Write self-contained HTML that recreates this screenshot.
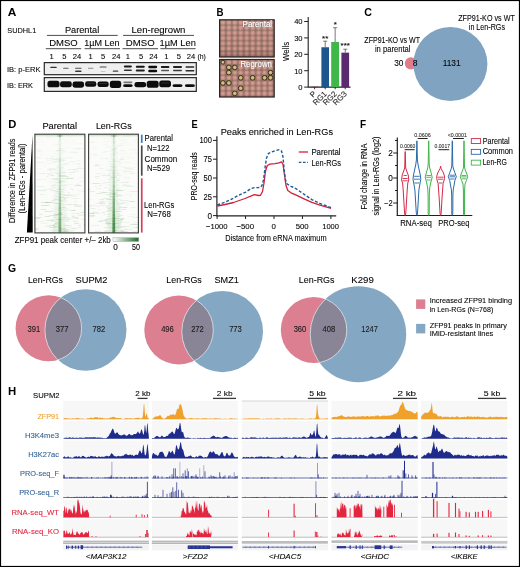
<!DOCTYPE html>
<html><head><meta charset="utf-8"><style>
html,body{margin:0;padding:0;background:#fff;overflow:hidden;width:520px;height:567px;}
svg{display:block;will-change:transform;}
text{font-family:"Liberation Sans", sans-serif;}
</style></head><body>
<svg width="520" height="567" viewBox="0 0 520 567" font-family='"Liberation Sans", sans-serif'>
<rect width="520" height="567" fill="#fff"/>
<text x="7.70" y="16.20" font-size="11.6" font-weight="bold" fill="#000" textLength="8.60" lengthAdjust="spacingAndGlyphs" >A</text>
<text x="216.60" y="15.90" font-size="11.6" font-weight="bold" fill="#000" textLength="7.00" lengthAdjust="spacingAndGlyphs" >B</text>
<text x="364.30" y="16.00" font-size="11.6" font-weight="bold" fill="#000" textLength="7.70" lengthAdjust="spacingAndGlyphs" >C</text>
<text x="8.30" y="127.70" font-size="11.6" font-weight="bold" fill="#000" textLength="8.10" lengthAdjust="spacingAndGlyphs" >D</text>
<text x="191.50" y="127.70" font-size="11.6" font-weight="bold" fill="#000" textLength="6.20" lengthAdjust="spacingAndGlyphs" >E</text>
<text x="359.90" y="127.70" font-size="11.6" font-weight="bold" fill="#000" textLength="6.10" lengthAdjust="spacingAndGlyphs" >F</text>
<text x="8.10" y="272.40" font-size="11.6" font-weight="bold" fill="#000" textLength="8.10" lengthAdjust="spacingAndGlyphs" >G</text>
<text x="8.10" y="395.00" font-size="11.6" font-weight="bold" fill="#000" textLength="8.20" lengthAdjust="spacingAndGlyphs" >H</text>
<text x="7.30" y="33.00" font-size="8" stroke="#231f20" stroke-width="0.1" textLength="29.00" lengthAdjust="spacingAndGlyphs" >SUDHL1</text>
<text x="64.90" y="33.10" font-size="9" stroke="#231f20" stroke-width="0.1" textLength="34.30" lengthAdjust="spacingAndGlyphs" >Parental</text>
<text x="131.50" y="33.10" font-size="9" stroke="#231f20" stroke-width="0.1" textLength="53.90" lengthAdjust="spacingAndGlyphs" >Len-regrown</text>
<line x1="46.90" y1="35.40" x2="117.70" y2="35.40" stroke="#4d4d4d" stroke-width="1" />
<line x1="123.10" y1="35.40" x2="194.00" y2="35.40" stroke="#4d4d4d" stroke-width="1" />
<text x="49.20" y="46.20" font-size="9.4" stroke="#231f20" stroke-width="0.1" textLength="28.50" lengthAdjust="spacingAndGlyphs" >DMSO</text>
<text x="84.30" y="46.20" font-size="9.4" stroke="#231f20" stroke-width="0.1" textLength="35.30" lengthAdjust="spacingAndGlyphs" >1µM Len</text>
<text x="125.80" y="46.20" font-size="9.4" stroke="#231f20" stroke-width="0.1" textLength="28.80" lengthAdjust="spacingAndGlyphs" >DMSO</text>
<text x="159.60" y="46.20" font-size="9.4" stroke="#231f20" stroke-width="0.1" textLength="36.20" lengthAdjust="spacingAndGlyphs" >1µM Len</text>
<line x1="45.80" y1="48.70" x2="81.20" y2="48.70" stroke="#4d4d4d" stroke-width="1" />
<line x1="84.60" y1="48.70" x2="120.00" y2="48.70" stroke="#4d4d4d" stroke-width="1" />
<line x1="122.50" y1="48.70" x2="158.10" y2="48.70" stroke="#4d4d4d" stroke-width="1" />
<line x1="160.40" y1="48.70" x2="195.60" y2="48.70" stroke="#4d4d4d" stroke-width="1" />
<text x="51.60" y="59.40" font-size="7.6" text-anchor="middle" stroke="#231f20" stroke-width="0.1" >1</text>
<text x="64.40" y="59.40" font-size="7.6" text-anchor="middle" stroke="#231f20" stroke-width="0.1" >5</text>
<text x="77.10" y="59.40" font-size="7.6" text-anchor="middle" stroke="#231f20" stroke-width="0.1" >24</text>
<text x="90.60" y="59.40" font-size="7.6" text-anchor="middle" stroke="#231f20" stroke-width="0.1" >1</text>
<text x="103.00" y="59.40" font-size="7.6" text-anchor="middle" stroke="#231f20" stroke-width="0.1" >5</text>
<text x="116.20" y="59.40" font-size="7.6" text-anchor="middle" stroke="#231f20" stroke-width="0.1" >24</text>
<text x="127.90" y="59.40" font-size="7.6" text-anchor="middle" stroke="#231f20" stroke-width="0.1" >1</text>
<text x="141.00" y="59.40" font-size="7.6" text-anchor="middle" stroke="#231f20" stroke-width="0.1" >5</text>
<text x="153.50" y="59.40" font-size="7.6" text-anchor="middle" stroke="#231f20" stroke-width="0.1" >24</text>
<text x="166.40" y="59.40" font-size="7.6" text-anchor="middle" stroke="#231f20" stroke-width="0.1" >1</text>
<text x="178.90" y="59.40" font-size="7.6" text-anchor="middle" stroke="#231f20" stroke-width="0.1" >5</text>
<text x="191.00" y="59.40" font-size="7.6" text-anchor="middle" stroke="#231f20" stroke-width="0.1" >24</text>
<text x="197.40" y="59.40" font-size="7.6" stroke="#231f20" stroke-width="0.1" textLength="8.40" lengthAdjust="spacingAndGlyphs" >(h)</text>
<text x="7.00" y="72.30" font-size="7.6" stroke="#231f20" stroke-width="0.1" textLength="33.50" lengthAdjust="spacingAndGlyphs" >IB: p-ERK</text>
<text x="7.00" y="87.70" font-size="7.6" stroke="#231f20" stroke-width="0.1" textLength="26.00" lengthAdjust="spacingAndGlyphs" >IB: ERK</text>
<defs><filter id="bl" x="-20%" y="-50%" width="140%" height="200%"><feGaussianBlur stdDeviation="0.45"/></filter><filter id="bl2" x="-20%" y="-50%" width="140%" height="200%"><feGaussianBlur stdDeviation="0.6"/></filter></defs>
<rect x="44.30" y="62.60" width="152.00" height="12.10" fill="#efefef" stroke="#2a2a2a" stroke-width="1.2" />
<rect x="44.30" y="77.60" width="152.00" height="13.80" fill="#efefef" stroke="#2a2a2a" stroke-width="1.2" />
<rect x="50.25" y="66.75" width="6.50" height="1.30" rx="0.65" fill="#333" filter="url(#bl)"/>
<rect x="63.15" y="67.65" width="5.50" height="1.10" rx="0.55" fill="#5a5a5a" filter="url(#bl)"/>
<rect x="75.05" y="67.65" width="6.50" height="1.10" rx="0.55" fill="#505050" filter="url(#bl)"/>
<rect x="75.05" y="70.60" width="6.50" height="1.40" rx="0.70" fill="#3a3a3a" filter="url(#bl)"/>
<rect x="87.95" y="67.75" width="5.50" height="1.10" rx="0.55" fill="#8a8a8a" filter="url(#bl)"/>
<rect x="99.60" y="66.40" width="7.00" height="1.20" rx="0.60" fill="#4a4a4a" filter="url(#bl)"/>
<rect x="100.60" y="70.95" width="5.00" height="0.90" rx="0.45" fill="#bbbbbb" filter="url(#bl)"/>
<rect x="112.75" y="70.60" width="5.50" height="1.20" rx="0.60" fill="#444" filter="url(#bl)"/>
<rect x="123.90" y="65.60" width="8.00" height="2.00" rx="1.00" fill="#1a1a1a" filter="url(#bl)"/>
<rect x="123.90" y="69.50" width="8.00" height="1.60" rx="0.80" fill="#333" filter="url(#bl)"/>
<rect x="135.80" y="65.65" width="9.00" height="2.10" rx="1.05" fill="#151515" filter="url(#bl)"/>
<rect x="135.80" y="69.55" width="9.00" height="1.90" rx="0.95" fill="#222" filter="url(#bl)"/>
<rect x="148.20" y="65.85" width="9.00" height="2.30" rx="1.15" fill="#0e0e0e" filter="url(#bl)"/>
<rect x="148.20" y="69.65" width="9.00" height="2.50" rx="1.25" fill="#0e0e0e" filter="url(#bl)"/>
<rect x="160.85" y="66.10" width="8.50" height="1.80" rx="0.90" fill="#1a1a1a" filter="url(#bl)"/>
<rect x="161.10" y="69.85" width="8.00" height="1.30" rx="0.65" fill="#555" filter="url(#bl)"/>
<rect x="173.00" y="66.10" width="9.00" height="1.80" rx="0.90" fill="#222" filter="url(#bl)"/>
<rect x="173.00" y="69.85" width="9.00" height="1.50" rx="0.75" fill="#3a3a3a" filter="url(#bl)"/>
<rect x="185.40" y="66.20" width="9.00" height="1.60" rx="0.80" fill="#2a2a2a" filter="url(#bl)"/>
<rect x="185.40" y="69.90" width="9.00" height="1.60" rx="0.80" fill="#2a2a2a" filter="url(#bl)"/>
<rect x="47.50" y="80.70" width="12.00" height="6.60" rx="2.40" ry="2.64" fill="#0d0d0d" filter="url(#bl)"/>
<rect x="60.00" y="81.30" width="11.80" height="6.00" rx="2.40" ry="2.40" fill="#0d0d0d" filter="url(#bl)"/>
<rect x="72.50" y="81.50" width="11.60" height="6.20" rx="2.40" ry="2.48" fill="#0d0d0d" filter="url(#bl)"/>
<rect x="85.10" y="81.20" width="11.20" height="5.60" rx="2.40" ry="2.24" fill="#0d0d0d" filter="url(#bl)"/>
<rect x="97.50" y="81.40" width="11.20" height="5.60" rx="2.40" ry="2.24" fill="#0d0d0d" filter="url(#bl)"/>
<rect x="109.80" y="80.70" width="11.40" height="7.20" rx="2.40" ry="2.88" fill="#0d0d0d" filter="url(#bl)"/>
<rect x="123.20" y="84.30" width="9.40" height="2.80" rx="2.07" ry="1.12" fill="#0d0d0d" filter="url(#bl)"/>
<rect x="134.50" y="81.90" width="11.60" height="5.40" rx="2.40" ry="2.16" fill="#0d0d0d" filter="url(#bl)"/>
<rect x="146.70" y="80.70" width="12.00" height="7.00" rx="2.40" ry="2.80" fill="#0d0d0d" filter="url(#bl)"/>
<rect x="159.20" y="80.60" width="11.80" height="6.60" rx="2.40" ry="2.64" fill="#0d0d0d" filter="url(#bl)"/>
<rect x="172.60" y="84.15" width="9.80" height="2.90" rx="2.16" ry="1.16" fill="#0d0d0d" filter="url(#bl)"/>
<rect x="185.00" y="84.20" width="9.80" height="2.80" rx="2.16" ry="1.12" fill="#0d0d0d" filter="url(#bl)"/>
<rect x="123.40" y="81.6" width="9" height="1.6" rx="0.8" fill="#777" filter="url(#bl)"/>
<rect x="86.70" y="82.85" width="8" height="0.7" fill="#555" fill-opacity="0.6"/>
<rect x="99.10" y="83.05" width="8" height="0.7" fill="#555" fill-opacity="0.6"/>
<rect x="161.10" y="82.65" width="8" height="0.7" fill="#555" fill-opacity="0.6"/>
<defs><pattern id="wells" x="219.93" y="19.9" width="5.95" height="5.2" patternUnits="userSpaceOnUse"><rect width="5.95" height="5.2" fill="#8c7264"/><circle cx="2.975" cy="2.6" r="2.45" fill="#c88a82"/><circle cx="2.975" cy="2.6" r="1.35" fill="#daa69a"/><circle cx="2.975" cy="2.6" r="0.5" fill="#a87a6c"/></pattern><pattern id="wells2" x="219.93" y="59.6" width="5.95" height="5.2" patternUnits="userSpaceOnUse"><rect width="5.95" height="5.2" fill="#8c7264"/><circle cx="2.975" cy="2.6" r="2.45" fill="#c88a82"/><circle cx="2.975" cy="2.6" r="1.35" fill="#daa69a"/><circle cx="2.975" cy="2.6" r="0.5" fill="#a87a6c"/></pattern><linearGradient id="bshade" x1="0" y1="0" x2="0" y2="1"><stop offset="0" stop-color="#fff" stop-opacity="0.05"/><stop offset="0.8" stop-color="#000" stop-opacity="0.02"/><stop offset="1" stop-color="#402020" stop-opacity="0.25"/></linearGradient><filter id="tsh"><feDropShadow dx="0" dy="0" stdDeviation="0.5" flood-color="#000" flood-opacity="0.6"/></filter><filter id="wb"><feGaussianBlur stdDeviation="0.35"/></filter></defs>
<rect x="219.60" y="19.80" width="54.60" height="37.20" fill="url(#wells)" filter="url(#wb)"/>
<rect x="219.60" y="19.80" width="54.60" height="37.20" fill="url(#bshade)" />
<rect x="219.60" y="19.80" width="54.60" height="37.20" fill="none" stroke="#2b2222" stroke-width="1.2" />
<rect x="219.60" y="59.50" width="54.60" height="37.50" fill="url(#wells2)" filter="url(#wb)"/>
<circle cx="222.9" cy="62.2" r="2.00" fill="#c9b272" fill-opacity="0.92" stroke="#2a2416" stroke-width="0.9"/>
<circle cx="222.9" cy="62.2" r="0.95" fill="#d9c48c" fill-opacity="0.8"/>
<circle cx="228.85" cy="67.4" r="2.40" fill="#c9b272" fill-opacity="0.92" stroke="#2a2416" stroke-width="0.9"/>
<circle cx="228.85" cy="67.4" r="1.15" fill="#d9c48c" fill-opacity="0.8"/>
<circle cx="234.8" cy="67.4" r="2.40" fill="#c9b272" fill-opacity="0.92" stroke="#2a2416" stroke-width="0.9"/>
<circle cx="234.8" cy="67.4" r="1.15" fill="#d9c48c" fill-opacity="0.8"/>
<circle cx="228.85" cy="72.6" r="2.40" fill="#c9b272" fill-opacity="0.92" stroke="#2a2416" stroke-width="0.9"/>
<circle cx="228.85" cy="72.6" r="1.15" fill="#d9c48c" fill-opacity="0.8"/>
<circle cx="240.75" cy="77.8" r="2.40" fill="#c9b272" fill-opacity="0.92" stroke="#2a2416" stroke-width="0.9"/>
<circle cx="240.75" cy="77.8" r="1.15" fill="#d9c48c" fill-opacity="0.8"/>
<circle cx="252.65" cy="77.8" r="2.40" fill="#c9b272" fill-opacity="0.92" stroke="#2a2416" stroke-width="0.9"/>
<circle cx="252.65" cy="77.8" r="1.15" fill="#d9c48c" fill-opacity="0.8"/>
<circle cx="264.55" cy="77.8" r="2.40" fill="#c9b272" fill-opacity="0.92" stroke="#2a2416" stroke-width="0.9"/>
<circle cx="264.55" cy="77.8" r="1.15" fill="#d9c48c" fill-opacity="0.8"/>
<circle cx="270.5" cy="77.8" r="2.40" fill="#c9b272" fill-opacity="0.92" stroke="#2a2416" stroke-width="0.9"/>
<circle cx="270.5" cy="77.8" r="1.15" fill="#d9c48c" fill-opacity="0.8"/>
<circle cx="270.5" cy="72.6" r="2.30" fill="#c9b272" fill-opacity="0.92" stroke="#2a2416" stroke-width="0.9"/>
<circle cx="270.5" cy="72.6" r="1.10" fill="#d9c48c" fill-opacity="0.8"/>
<circle cx="222.9" cy="83.0" r="2.40" fill="#c9b272" fill-opacity="0.92" stroke="#2a2416" stroke-width="0.9"/>
<circle cx="222.9" cy="83.0" r="1.15" fill="#d9c48c" fill-opacity="0.8"/>
<circle cx="228.85" cy="83.0" r="2.40" fill="#c9b272" fill-opacity="0.92" stroke="#2a2416" stroke-width="0.9"/>
<circle cx="228.85" cy="83.0" r="1.15" fill="#d9c48c" fill-opacity="0.8"/>
<circle cx="240.75" cy="88.2" r="2.40" fill="#c9b272" fill-opacity="0.92" stroke="#2a2416" stroke-width="0.9"/>
<circle cx="240.75" cy="88.2" r="1.15" fill="#d9c48c" fill-opacity="0.8"/>
<circle cx="234.8" cy="93.4" r="2.40" fill="#c9b272" fill-opacity="0.92" stroke="#2a2416" stroke-width="0.9"/>
<circle cx="234.8" cy="93.4" r="1.15" fill="#d9c48c" fill-opacity="0.8"/>
<rect x="219.60" y="59.50" width="54.60" height="37.50" fill="none" stroke="#2b2222" stroke-width="1.2" />
<text x="242.60" y="27.20" font-size="8.2" fill="#ffffff" stroke="#ffffff" stroke-width="0.1" textLength="29.50" lengthAdjust="spacingAndGlyphs" filter="url(#tsh)">Parental</text>
<text x="240.40" y="67.00" font-size="8.2" fill="#ffffff" stroke="#ffffff" stroke-width="0.1" textLength="31.60" lengthAdjust="spacingAndGlyphs" filter="url(#tsh)">Regrown</text>
<line x1="308.20" y1="17.00" x2="308.20" y2="87.60" stroke="#231f20" stroke-width="1.1" />
<line x1="308.20" y1="87.10" x2="350.50" y2="87.10" stroke="#231f20" stroke-width="1.1" />
<line x1="304.20" y1="87.10" x2="308.20" y2="87.10" stroke="#231f20" stroke-width="1" />
<text x="302.60" y="89.90" font-size="7.6" text-anchor="end" stroke="#231f20" stroke-width="0.1" >0</text>
<line x1="304.20" y1="70.70" x2="308.20" y2="70.70" stroke="#231f20" stroke-width="1" />
<text x="302.60" y="73.50" font-size="7.6" text-anchor="end" stroke="#231f20" stroke-width="0.1" >10</text>
<line x1="304.20" y1="54.30" x2="308.20" y2="54.30" stroke="#231f20" stroke-width="1" />
<text x="302.60" y="57.10" font-size="7.6" text-anchor="end" stroke="#231f20" stroke-width="0.1" >20</text>
<line x1="304.20" y1="37.90" x2="308.20" y2="37.90" stroke="#231f20" stroke-width="1" />
<text x="302.60" y="40.70" font-size="7.6" text-anchor="end" stroke="#231f20" stroke-width="0.1" >30</text>
<line x1="304.20" y1="21.50" x2="308.20" y2="21.50" stroke="#231f20" stroke-width="1" />
<text x="302.60" y="24.30" font-size="7.6" text-anchor="end" stroke="#231f20" stroke-width="0.1" >40</text>
<text x="289.00" y="51.40" font-size="8.2" text-anchor="middle" stroke="#231f20" stroke-width="0.1" textLength="19.00" lengthAdjust="spacingAndGlyphs" transform="rotate(-90 289.00 51.40)" >Wells</text>
<rect x="311.00" y="86.69" width="7.20" height="0.41" fill="#8c2a2a" />
<rect x="321.40" y="47.25" width="7.60" height="39.85" fill="#1d568c" />
<line x1="325.20" y1="47.25" x2="325.20" y2="41.18" stroke="#555" stroke-width="0.8" />
<line x1="323.20" y1="41.18" x2="327.20" y2="41.18" stroke="#555" stroke-width="0.8" />
<rect x="331.20" y="42.00" width="7.90" height="45.10" fill="#3fb74b" />
<line x1="335.15" y1="42.00" x2="335.15" y2="27.73" stroke="#555" stroke-width="0.8" />
<line x1="333.15" y1="27.73" x2="337.15" y2="27.73" stroke="#555" stroke-width="0.8" />
<rect x="341.40" y="52.66" width="7.70" height="34.44" fill="#5a2a6e" />
<line x1="345.25" y1="52.66" x2="345.25" y2="49.22" stroke="#555" stroke-width="0.8" />
<line x1="343.25" y1="49.22" x2="347.25" y2="49.22" stroke="#555" stroke-width="0.8" />
<text x="325.20" y="40.60" font-size="8" text-anchor="middle" stroke="#231f20" stroke-width="0.1" >**</text>
<text x="335.20" y="27.30" font-size="8" text-anchor="middle" stroke="#231f20" stroke-width="0.1" >*</text>
<text x="345.20" y="48.00" font-size="8" text-anchor="middle" stroke="#231f20" stroke-width="0.1" >***</text>
<line x1="314.60" y1="87.10" x2="314.60" y2="89.30" stroke="#231f20" stroke-width="0.9" />
<text x="316.80" y="94.30" font-size="7.9" text-anchor="end" fill="#231f20" stroke="#231f20" stroke-width="0.1" transform="rotate(-45 316.80 94.30)">P</text>
<line x1="325.20" y1="87.10" x2="325.20" y2="89.30" stroke="#231f20" stroke-width="0.9" />
<text x="327.40" y="94.30" font-size="7.9" text-anchor="end" fill="#231f20" stroke="#231f20" stroke-width="0.1" transform="rotate(-45 327.40 94.30)">RG1</text>
<line x1="335.20" y1="87.10" x2="335.20" y2="89.30" stroke="#231f20" stroke-width="0.9" />
<text x="337.40" y="94.30" font-size="7.9" text-anchor="end" fill="#231f20" stroke="#231f20" stroke-width="0.1" transform="rotate(-45 337.40 94.30)">RG2</text>
<line x1="345.20" y1="87.10" x2="345.20" y2="89.30" stroke="#231f20" stroke-width="0.9" />
<text x="347.40" y="94.30" font-size="7.9" text-anchor="end" fill="#231f20" stroke="#231f20" stroke-width="0.1" transform="rotate(-45 347.40 94.30)">RG3</text>
<circle cx="410.9" cy="63.4" r="6.1" fill="#e07d8c"/>
<circle cx="450.4" cy="64.0" r="37.0" fill="#7fa3c0"/>
<text x="392.20" y="42.60" font-size="8.2" text-anchor="middle" stroke="#231f20" stroke-width="0.1" textLength="55.70" lengthAdjust="spacingAndGlyphs" >ZFP91-KO vs WT</text>
<text x="392.70" y="51.60" font-size="8.2" text-anchor="middle" stroke="#231f20" stroke-width="0.1" textLength="35.60" lengthAdjust="spacingAndGlyphs" >in parental</text>
<text x="486.50" y="20.60" font-size="8.2" text-anchor="middle" stroke="#231f20" stroke-width="0.1" textLength="56.60" lengthAdjust="spacingAndGlyphs" >ZFP91-KO vs WT</text>
<text x="486.90" y="29.90" font-size="8.2" text-anchor="middle" stroke="#231f20" stroke-width="0.1" textLength="36.20" lengthAdjust="spacingAndGlyphs" >in Len-RGs</text>
<text x="403.40" y="66.00" font-size="8.6" text-anchor="end" stroke="#231f20" stroke-width="0.1" textLength="9.20" lengthAdjust="spacingAndGlyphs" >30</text>
<text x="412.80" y="66.00" font-size="8.6" stroke="#231f20" stroke-width="0.1" >8</text>
<text x="451.70" y="66.00" font-size="8.6" text-anchor="middle" stroke="#231f20" stroke-width="0.1" textLength="18.00" lengthAdjust="spacingAndGlyphs" >1131</text>
<text x="42.40" y="129.20" font-size="8.6" stroke="#231f20" stroke-width="0.1" textLength="34.60" lengthAdjust="spacingAndGlyphs" >Parental</text>
<text x="95.90" y="129.20" font-size="8.6" stroke="#231f20" stroke-width="0.1" textLength="35.70" lengthAdjust="spacingAndGlyphs" >Len-RGs</text>
<rect x="34.90" y="134.20" width="50.00" height="98.70" fill="#fbfcfa" />
<rect x="75.2" y="134.20" width="7.4" height="1.00" fill="#4f8f3f" fill-opacity="0.031"/>
<rect x="43.8" y="134.20" width="7.5" height="1.00" fill="#4f8f3f" fill-opacity="0.032"/>
<rect x="43.7" y="134.20" width="4.8" height="1.00" fill="#4f8f3f" fill-opacity="0.020"/>
<rect x="65.8" y="134.20" width="4.5" height="1.00" fill="#4f8f3f" fill-opacity="0.031"/>
<rect x="59.10" y="134.20" width="1.60" height="1.00" fill="#2a7a2a" fill-opacity="0.500"/>
<rect x="57.79" y="134.20" width="4.22" height="1.00" fill="#4a9a4a" fill-opacity="0.030"/>
<rect x="37.9" y="135.20" width="1.8" height="1.00" fill="#4f8f3f" fill-opacity="0.047"/>
<rect x="59.09" y="135.20" width="1.61" height="1.00" fill="#2a7a2a" fill-opacity="0.500"/>
<rect x="57.54" y="135.20" width="4.72" height="1.00" fill="#4a9a4a" fill-opacity="0.030"/>
<rect x="46.5" y="136.19" width="5.4" height="1.00" fill="#4f8f3f" fill-opacity="0.040"/>
<rect x="52.2" y="136.19" width="9.0" height="1.00" fill="#4f8f3f" fill-opacity="0.053"/>
<rect x="68.2" y="136.19" width="3.9" height="1.00" fill="#4f8f3f" fill-opacity="0.024"/>
<rect x="59.09" y="136.19" width="1.62" height="1.00" fill="#2a7a2a" fill-opacity="0.500"/>
<rect x="58.52" y="136.19" width="2.75" height="1.00" fill="#4a9a4a" fill-opacity="0.030"/>
<rect x="46.0" y="137.19" width="4.4" height="1.00" fill="#4f8f3f" fill-opacity="0.053"/>
<rect x="59.08" y="137.19" width="1.64" height="1.00" fill="#2a7a2a" fill-opacity="0.139"/>
<rect x="58.59" y="137.19" width="2.62" height="1.00" fill="#4a9a4a" fill-opacity="0.030"/>
<rect x="37.4" y="138.19" width="4.3" height="1.00" fill="#4f8f3f" fill-opacity="0.045"/>
<rect x="49.9" y="138.19" width="4.0" height="1.00" fill="#4f8f3f" fill-opacity="0.029"/>
<rect x="59.08" y="138.19" width="1.65" height="1.00" fill="#2a7a2a" fill-opacity="0.080"/>
<rect x="57.91" y="138.19" width="3.98" height="1.00" fill="#4a9a4a" fill-opacity="0.030"/>
<rect x="52.9" y="139.18" width="1.6" height="1.00" fill="#4f8f3f" fill-opacity="0.036"/>
<rect x="59.07" y="139.18" width="1.66" height="1.00" fill="#2a7a2a" fill-opacity="0.090"/>
<rect x="57.42" y="139.18" width="4.96" height="1.00" fill="#4a9a4a" fill-opacity="0.030"/>
<rect x="63.8" y="140.18" width="6.3" height="1.00" fill="#4f8f3f" fill-opacity="0.023"/>
<rect x="72.0" y="140.18" width="3.5" height="1.00" fill="#4f8f3f" fill-opacity="0.058"/>
<rect x="59.06" y="140.18" width="1.67" height="1.00" fill="#2a7a2a" fill-opacity="0.135"/>
<rect x="57.98" y="140.18" width="3.84" height="1.00" fill="#4a9a4a" fill-opacity="0.030"/>
<rect x="41.1" y="141.18" width="2.3" height="1.00" fill="#4f8f3f" fill-opacity="0.060"/>
<rect x="59.06" y="141.18" width="1.68" height="1.00" fill="#2a7a2a" fill-opacity="0.080"/>
<rect x="58.01" y="141.18" width="3.79" height="1.00" fill="#4a9a4a" fill-opacity="0.030"/>
<rect x="53.0" y="142.18" width="2.1" height="1.00" fill="#4f8f3f" fill-opacity="0.028"/>
<rect x="35.6" y="142.18" width="4.3" height="1.00" fill="#4f8f3f" fill-opacity="0.046"/>
<rect x="67.4" y="142.18" width="7.7" height="1.00" fill="#4f8f3f" fill-opacity="0.025"/>
<rect x="59.05" y="142.18" width="1.70" height="1.00" fill="#2a7a2a" fill-opacity="0.080"/>
<rect x="57.32" y="142.18" width="5.16" height="1.00" fill="#4a9a4a" fill-opacity="0.031"/>
<rect x="73.3" y="143.17" width="3.4" height="1.00" fill="#4f8f3f" fill-opacity="0.028"/>
<rect x="79.1" y="143.17" width="3.0" height="1.00" fill="#4f8f3f" fill-opacity="0.061"/>
<rect x="63.3" y="143.17" width="4.7" height="1.00" fill="#4f8f3f" fill-opacity="0.024"/>
<rect x="59.05" y="143.17" width="1.71" height="1.00" fill="#2a7a2a" fill-opacity="0.080"/>
<rect x="56.66" y="143.17" width="6.49" height="1.00" fill="#4a9a4a" fill-opacity="0.031"/>
<rect x="53.3" y="144.17" width="4.7" height="1.00" fill="#4f8f3f" fill-opacity="0.061"/>
<rect x="34.9" y="144.17" width="2.4" height="1.00" fill="#4f8f3f" fill-opacity="0.041"/>
<rect x="59.04" y="144.17" width="1.72" height="1.00" fill="#2a7a2a" fill-opacity="0.118"/>
<rect x="57.21" y="144.17" width="5.37" height="1.00" fill="#4a9a4a" fill-opacity="0.031"/>
<rect x="51.5" y="145.17" width="3.0" height="1.00" fill="#4f8f3f" fill-opacity="0.021"/>
<rect x="59.03" y="145.17" width="1.73" height="1.00" fill="#2a7a2a" fill-opacity="0.080"/>
<rect x="57.47" y="145.17" width="4.86" height="1.00" fill="#4a9a4a" fill-opacity="0.031"/>
<rect x="51.6" y="146.16" width="2.2" height="1.00" fill="#4f8f3f" fill-opacity="0.027"/>
<rect x="59.03" y="146.16" width="1.75" height="1.00" fill="#2a7a2a" fill-opacity="0.092"/>
<rect x="57.63" y="146.16" width="4.54" height="1.00" fill="#4a9a4a" fill-opacity="0.031"/>
<rect x="66.1" y="147.16" width="5.1" height="1.00" fill="#4f8f3f" fill-opacity="0.038"/>
<rect x="71.5" y="147.16" width="2.0" height="1.00" fill="#4f8f3f" fill-opacity="0.036"/>
<rect x="59.02" y="147.16" width="1.76" height="1.00" fill="#2a7a2a" fill-opacity="0.080"/>
<rect x="58.09" y="147.16" width="3.63" height="1.00" fill="#4a9a4a" fill-opacity="0.032"/>
<rect x="58.0" y="148.16" width="8.3" height="1.00" fill="#4f8f3f" fill-opacity="0.058"/>
<rect x="72.2" y="148.16" width="8.4" height="1.00" fill="#4f8f3f" fill-opacity="0.039"/>
<rect x="77.2" y="148.16" width="7.7" height="1.00" fill="#4f8f3f" fill-opacity="0.042"/>
<rect x="75.5" y="148.16" width="5.8" height="1.00" fill="#4f8f3f" fill-opacity="0.053"/>
<rect x="59.02" y="148.16" width="1.77" height="1.00" fill="#2a7a2a" fill-opacity="0.086"/>
<rect x="57.03" y="148.16" width="5.74" height="1.00" fill="#4a9a4a" fill-opacity="0.032"/>
<rect x="34.9" y="149.15" width="7.0" height="1.00" fill="#4f8f3f" fill-opacity="0.042"/>
<rect x="59.01" y="149.15" width="1.78" height="1.00" fill="#2a7a2a" fill-opacity="0.137"/>
<rect x="56.97" y="149.15" width="5.86" height="1.00" fill="#4a9a4a" fill-opacity="0.032"/>
<rect x="34.9" y="150.15" width="5.4" height="1.00" fill="#4f8f3f" fill-opacity="0.049"/>
<rect x="55.9" y="150.15" width="2.3" height="1.00" fill="#4f8f3f" fill-opacity="0.063"/>
<rect x="57.8" y="150.15" width="8.2" height="1.00" fill="#4f8f3f" fill-opacity="0.041"/>
<rect x="56.9" y="150.15" width="5.4" height="1.00" fill="#4f8f3f" fill-opacity="0.061"/>
<rect x="59.00" y="150.15" width="1.79" height="1.00" fill="#2a7a2a" fill-opacity="0.084"/>
<rect x="56.18" y="150.15" width="7.43" height="1.00" fill="#4a9a4a" fill-opacity="0.032"/>
<rect x="50.3" y="151.15" width="6.5" height="1.00" fill="#4f8f3f" fill-opacity="0.033"/>
<rect x="62.2" y="151.15" width="4.4" height="1.00" fill="#4f8f3f" fill-opacity="0.054"/>
<rect x="37.4" y="151.15" width="5.2" height="1.00" fill="#4f8f3f" fill-opacity="0.067"/>
<rect x="68.3" y="151.15" width="8.6" height="1.00" fill="#4f8f3f" fill-opacity="0.037"/>
<rect x="59.00" y="151.15" width="1.81" height="1.00" fill="#2a7a2a" fill-opacity="0.080"/>
<rect x="57.13" y="151.15" width="5.55" height="1.00" fill="#4a9a4a" fill-opacity="0.033"/>
<rect x="74.0" y="152.15" width="4.4" height="1.00" fill="#4f8f3f" fill-opacity="0.051"/>
<rect x="68.6" y="152.15" width="7.8" height="1.00" fill="#4f8f3f" fill-opacity="0.057"/>
<rect x="59.7" y="152.15" width="6.6" height="1.00" fill="#4f8f3f" fill-opacity="0.038"/>
<rect x="58.99" y="152.15" width="1.82" height="1.00" fill="#2a7a2a" fill-opacity="0.089"/>
<rect x="56.64" y="152.15" width="6.52" height="1.00" fill="#4a9a4a" fill-opacity="0.033"/>
<rect x="53.9" y="153.14" width="2.9" height="1.00" fill="#4f8f3f" fill-opacity="0.066"/>
<rect x="58.98" y="153.14" width="1.83" height="1.00" fill="#2a7a2a" fill-opacity="0.080"/>
<rect x="56.29" y="153.14" width="7.22" height="1.00" fill="#4a9a4a" fill-opacity="0.033"/>
<rect x="40.3" y="154.14" width="2.3" height="1.00" fill="#4f8f3f" fill-opacity="0.054"/>
<rect x="58.98" y="154.14" width="1.84" height="1.00" fill="#2a7a2a" fill-opacity="0.134"/>
<rect x="57.14" y="154.14" width="5.51" height="1.00" fill="#4a9a4a" fill-opacity="0.034"/>
<rect x="44.3" y="155.14" width="5.1" height="1.00" fill="#4f8f3f" fill-opacity="0.035"/>
<rect x="58.97" y="155.14" width="1.85" height="1.00" fill="#2a7a2a" fill-opacity="0.080"/>
<rect x="56.85" y="155.14" width="6.09" height="1.00" fill="#4a9a4a" fill-opacity="0.034"/>
<rect x="50.2" y="156.13" width="4.1" height="1.00" fill="#4f8f3f" fill-opacity="0.066"/>
<rect x="58.97" y="156.13" width="1.87" height="1.00" fill="#2a7a2a" fill-opacity="0.122"/>
<rect x="56.47" y="156.13" width="6.87" height="1.00" fill="#4a9a4a" fill-opacity="0.034"/>
<rect x="64.4" y="157.13" width="8.5" height="1.00" fill="#4f8f3f" fill-opacity="0.068"/>
<rect x="34.9" y="157.13" width="6.2" height="1.00" fill="#4f8f3f" fill-opacity="0.080"/>
<rect x="58.96" y="157.13" width="1.88" height="1.00" fill="#2a7a2a" fill-opacity="0.105"/>
<rect x="56.51" y="157.13" width="6.78" height="1.00" fill="#4a9a4a" fill-opacity="0.035"/>
<rect x="51.2" y="158.13" width="7.6" height="1.00" fill="#4f8f3f" fill-opacity="0.065"/>
<rect x="44.9" y="158.13" width="8.2" height="1.00" fill="#4f8f3f" fill-opacity="0.085"/>
<rect x="60.1" y="158.13" width="7.4" height="1.00" fill="#4f8f3f" fill-opacity="0.045"/>
<rect x="58.95" y="158.13" width="1.89" height="1.00" fill="#2a7a2a" fill-opacity="0.183"/>
<rect x="55.76" y="158.13" width="8.28" height="1.00" fill="#4a9a4a" fill-opacity="0.035"/>
<rect x="52.9" y="159.12" width="4.1" height="1.00" fill="#4f8f3f" fill-opacity="0.052"/>
<rect x="61.0" y="159.12" width="4.7" height="1.00" fill="#4f8f3f" fill-opacity="0.029"/>
<rect x="51.9" y="159.12" width="8.4" height="1.00" fill="#4f8f3f" fill-opacity="0.055"/>
<rect x="58.95" y="159.12" width="1.90" height="1.00" fill="#2a7a2a" fill-opacity="0.198"/>
<rect x="55.57" y="159.12" width="8.65" height="1.00" fill="#4a9a4a" fill-opacity="0.036"/>
<rect x="58.1" y="160.12" width="8.6" height="1.00" fill="#4f8f3f" fill-opacity="0.032"/>
<rect x="46.6" y="160.12" width="6.3" height="1.00" fill="#4f8f3f" fill-opacity="0.060"/>
<rect x="61.2" y="160.12" width="3.8" height="1.00" fill="#4f8f3f" fill-opacity="0.051"/>
<rect x="77.2" y="160.12" width="3.1" height="1.00" fill="#4f8f3f" fill-opacity="0.080"/>
<rect x="58.94" y="160.12" width="1.92" height="1.00" fill="#2a7a2a" fill-opacity="0.197"/>
<rect x="56.44" y="160.12" width="6.92" height="1.00" fill="#4a9a4a" fill-opacity="0.036"/>
<rect x="54.8" y="161.12" width="5.3" height="1.00" fill="#4f8f3f" fill-opacity="0.066"/>
<rect x="69.5" y="161.12" width="7.5" height="1.00" fill="#4f8f3f" fill-opacity="0.063"/>
<rect x="53.0" y="161.12" width="2.0" height="1.00" fill="#4f8f3f" fill-opacity="0.062"/>
<rect x="80.8" y="161.12" width="4.1" height="1.00" fill="#4f8f3f" fill-opacity="0.035"/>
<rect x="58.94" y="161.12" width="1.93" height="1.00" fill="#2a7a2a" fill-opacity="0.125"/>
<rect x="55.64" y="161.12" width="8.52" height="1.00" fill="#4a9a4a" fill-opacity="0.037"/>
<rect x="51.9" y="162.12" width="4.6" height="1.00" fill="#4f8f3f" fill-opacity="0.030"/>
<rect x="50.0" y="162.12" width="2.7" height="1.00" fill="#4f8f3f" fill-opacity="0.028"/>
<rect x="34.9" y="162.12" width="3.3" height="1.00" fill="#4f8f3f" fill-opacity="0.060"/>
<rect x="37.6" y="162.12" width="6.9" height="1.00" fill="#4f8f3f" fill-opacity="0.073"/>
<rect x="58.93" y="162.12" width="1.94" height="1.00" fill="#2a7a2a" fill-opacity="0.191"/>
<rect x="57.62" y="162.12" width="4.56" height="1.00" fill="#4a9a4a" fill-opacity="0.037"/>
<rect x="63.8" y="163.11" width="5.5" height="1.00" fill="#4f8f3f" fill-opacity="0.085"/>
<rect x="47.4" y="163.11" width="3.1" height="1.00" fill="#4f8f3f" fill-opacity="0.064"/>
<rect x="71.4" y="163.11" width="4.1" height="1.00" fill="#4f8f3f" fill-opacity="0.040"/>
<rect x="76.8" y="163.11" width="3.0" height="1.00" fill="#4f8f3f" fill-opacity="0.079"/>
<rect x="58.92" y="163.11" width="1.95" height="1.00" fill="#2a7a2a" fill-opacity="0.099"/>
<rect x="57.39" y="163.11" width="5.02" height="1.00" fill="#4a9a4a" fill-opacity="0.038"/>
<rect x="76.6" y="164.11" width="4.4" height="1.00" fill="#4f8f3f" fill-opacity="0.058"/>
<rect x="60.4" y="164.11" width="6.8" height="1.00" fill="#4f8f3f" fill-opacity="0.042"/>
<rect x="58.92" y="164.11" width="1.96" height="1.00" fill="#2a7a2a" fill-opacity="0.163"/>
<rect x="55.47" y="164.11" width="8.85" height="1.00" fill="#4a9a4a" fill-opacity="0.038"/>
<rect x="44.2" y="165.11" width="2.4" height="1.00" fill="#4f8f3f" fill-opacity="0.063"/>
<rect x="58.91" y="165.11" width="1.98" height="1.00" fill="#2a7a2a" fill-opacity="0.185"/>
<rect x="56.21" y="165.11" width="7.38" height="1.00" fill="#4a9a4a" fill-opacity="0.039"/>
<rect x="57.6" y="166.10" width="1.7" height="1.00" fill="#4f8f3f" fill-opacity="0.082"/>
<rect x="77.4" y="166.10" width="5.1" height="1.00" fill="#4f8f3f" fill-opacity="0.043"/>
<rect x="58.91" y="166.10" width="1.99" height="1.00" fill="#2a7a2a" fill-opacity="0.099"/>
<rect x="57.06" y="166.10" width="5.68" height="1.00" fill="#4a9a4a" fill-opacity="0.039"/>
<rect x="78.5" y="167.10" width="2.2" height="1.00" fill="#4f8f3f" fill-opacity="0.034"/>
<rect x="56.6" y="167.10" width="7.2" height="1.00" fill="#4f8f3f" fill-opacity="0.053"/>
<rect x="58.90" y="167.10" width="2.00" height="1.00" fill="#2a7a2a" fill-opacity="0.152"/>
<rect x="56.06" y="167.10" width="7.69" height="1.00" fill="#4a9a4a" fill-opacity="0.040"/>
<rect x="34.9" y="168.10" width="6.3" height="1.00" fill="#4f8f3f" fill-opacity="0.033"/>
<rect x="48.3" y="168.10" width="8.4" height="1.00" fill="#4f8f3f" fill-opacity="0.073"/>
<rect x="60.6" y="168.10" width="3.9" height="1.00" fill="#4f8f3f" fill-opacity="0.036"/>
<rect x="76.1" y="168.10" width="8.3" height="1.00" fill="#4f8f3f" fill-opacity="0.097"/>
<rect x="58.89" y="168.10" width="2.01" height="1.00" fill="#2a7a2a" fill-opacity="0.171"/>
<rect x="56.92" y="168.10" width="5.96" height="1.00" fill="#4a9a4a" fill-opacity="0.041"/>
<rect x="47.0" y="169.09" width="8.3" height="1.00" fill="#4f8f3f" fill-opacity="0.085"/>
<rect x="73.2" y="169.09" width="4.5" height="1.00" fill="#4f8f3f" fill-opacity="0.096"/>
<rect x="67.6" y="169.09" width="7.3" height="1.00" fill="#4f8f3f" fill-opacity="0.086"/>
<rect x="58.89" y="169.09" width="2.02" height="1.00" fill="#2a7a2a" fill-opacity="0.152"/>
<rect x="55.34" y="169.09" width="9.11" height="1.00" fill="#4a9a4a" fill-opacity="0.041"/>
<rect x="49.1" y="170.09" width="2.3" height="1.00" fill="#4f8f3f" fill-opacity="0.096"/>
<rect x="58.88" y="170.09" width="2.04" height="1.00" fill="#2a7a2a" fill-opacity="0.238"/>
<rect x="54.75" y="170.09" width="10.30" height="1.00" fill="#4a9a4a" fill-opacity="0.042"/>
<rect x="72.9" y="171.09" width="6.4" height="1.00" fill="#4f8f3f" fill-opacity="0.074"/>
<rect x="58.88" y="171.09" width="2.05" height="1.00" fill="#2a7a2a" fill-opacity="0.178"/>
<rect x="56.20" y="171.09" width="7.40" height="1.00" fill="#4a9a4a" fill-opacity="0.043"/>
<rect x="67.9" y="172.08" width="7.2" height="1.00" fill="#4f8f3f" fill-opacity="0.106"/>
<rect x="50.1" y="172.08" width="7.0" height="1.00" fill="#4f8f3f" fill-opacity="0.052"/>
<rect x="64.1" y="172.08" width="2.2" height="1.00" fill="#4f8f3f" fill-opacity="0.051"/>
<rect x="60.8" y="172.08" width="5.3" height="1.00" fill="#4f8f3f" fill-opacity="0.105"/>
<rect x="58.87" y="172.08" width="2.06" height="1.00" fill="#2a7a2a" fill-opacity="0.188"/>
<rect x="54.32" y="172.08" width="11.16" height="1.00" fill="#4a9a4a" fill-opacity="0.043"/>
<rect x="38.5" y="173.08" width="6.0" height="1.00" fill="#4f8f3f" fill-opacity="0.091"/>
<rect x="56.6" y="173.08" width="2.7" height="1.00" fill="#4f8f3f" fill-opacity="0.069"/>
<rect x="43.0" y="173.08" width="8.6" height="1.00" fill="#4f8f3f" fill-opacity="0.065"/>
<rect x="56.4" y="173.08" width="4.2" height="1.00" fill="#4f8f3f" fill-opacity="0.055"/>
<rect x="58.86" y="173.08" width="2.07" height="1.00" fill="#2a7a2a" fill-opacity="0.205"/>
<rect x="55.57" y="173.08" width="8.66" height="1.00" fill="#4a9a4a" fill-opacity="0.044"/>
<rect x="70.0" y="174.08" width="1.7" height="1.00" fill="#4f8f3f" fill-opacity="0.093"/>
<rect x="47.6" y="174.08" width="1.9" height="1.00" fill="#4f8f3f" fill-opacity="0.058"/>
<rect x="47.3" y="174.08" width="6.9" height="1.00" fill="#4f8f3f" fill-opacity="0.058"/>
<rect x="58.86" y="174.08" width="2.08" height="1.00" fill="#2a7a2a" fill-opacity="0.230"/>
<rect x="56.55" y="174.08" width="6.69" height="1.00" fill="#4a9a4a" fill-opacity="0.045"/>
<rect x="58.5" y="175.08" width="7.6" height="1.00" fill="#4f8f3f" fill-opacity="0.105"/>
<rect x="50.6" y="175.08" width="3.3" height="1.00" fill="#4f8f3f" fill-opacity="0.089"/>
<rect x="49.6" y="175.08" width="4.2" height="1.00" fill="#4f8f3f" fill-opacity="0.046"/>
<rect x="61.1" y="175.08" width="4.6" height="1.00" fill="#4f8f3f" fill-opacity="0.081"/>
<rect x="58.85" y="175.08" width="2.10" height="1.00" fill="#2a7a2a" fill-opacity="0.212"/>
<rect x="55.07" y="175.08" width="9.66" height="1.00" fill="#4a9a4a" fill-opacity="0.045"/>
<rect x="59.8" y="176.07" width="9.0" height="1.00" fill="#4f8f3f" fill-opacity="0.110"/>
<rect x="46.1" y="176.07" width="2.4" height="1.00" fill="#4f8f3f" fill-opacity="0.105"/>
<rect x="64.3" y="176.07" width="4.2" height="1.00" fill="#4f8f3f" fill-opacity="0.056"/>
<rect x="58.85" y="176.07" width="2.11" height="1.00" fill="#2a7a2a" fill-opacity="0.224"/>
<rect x="55.38" y="176.07" width="9.05" height="1.00" fill="#4a9a4a" fill-opacity="0.046"/>
<rect x="70.3" y="177.07" width="2.9" height="1.00" fill="#4f8f3f" fill-opacity="0.055"/>
<rect x="77.9" y="177.07" width="7.0" height="1.00" fill="#4f8f3f" fill-opacity="0.038"/>
<rect x="58.84" y="177.07" width="2.12" height="1.00" fill="#2a7a2a" fill-opacity="0.142"/>
<rect x="56.26" y="177.07" width="7.27" height="1.00" fill="#4a9a4a" fill-opacity="0.047"/>
<rect x="65.6" y="178.07" width="7.2" height="1.00" fill="#4f8f3f" fill-opacity="0.110"/>
<rect x="59.7" y="178.07" width="8.9" height="1.00" fill="#4f8f3f" fill-opacity="0.075"/>
<rect x="51.1" y="178.07" width="8.0" height="1.00" fill="#4f8f3f" fill-opacity="0.101"/>
<rect x="66.4" y="178.07" width="7.8" height="1.00" fill="#4f8f3f" fill-opacity="0.098"/>
<rect x="58.83" y="178.07" width="2.13" height="1.00" fill="#2a7a2a" fill-opacity="0.201"/>
<rect x="54.66" y="178.07" width="10.48" height="1.00" fill="#4a9a4a" fill-opacity="0.048"/>
<rect x="52.2" y="179.06" width="6.4" height="1.00" fill="#4f8f3f" fill-opacity="0.117"/>
<rect x="35.8" y="179.06" width="4.7" height="1.00" fill="#4f8f3f" fill-opacity="0.066"/>
<rect x="48.7" y="179.06" width="2.1" height="1.00" fill="#4f8f3f" fill-opacity="0.042"/>
<rect x="39.7" y="179.06" width="7.3" height="1.00" fill="#4f8f3f" fill-opacity="0.042"/>
<rect x="58.83" y="179.06" width="2.15" height="1.00" fill="#2a7a2a" fill-opacity="0.174"/>
<rect x="54.87" y="179.06" width="10.05" height="1.00" fill="#4a9a4a" fill-opacity="0.049"/>
<rect x="58.2" y="180.06" width="7.2" height="1.00" fill="#4f8f3f" fill-opacity="0.063"/>
<rect x="58.82" y="180.06" width="2.16" height="1.00" fill="#2a7a2a" fill-opacity="0.273"/>
<rect x="56.29" y="180.06" width="7.21" height="1.00" fill="#4a9a4a" fill-opacity="0.049"/>
<rect x="60.0" y="181.06" width="6.8" height="1.00" fill="#4f8f3f" fill-opacity="0.085"/>
<rect x="79.1" y="181.06" width="5.8" height="1.00" fill="#4f8f3f" fill-opacity="0.074"/>
<rect x="49.2" y="181.06" width="3.9" height="1.00" fill="#4f8f3f" fill-opacity="0.070"/>
<rect x="58.82" y="181.06" width="2.17" height="1.00" fill="#2a7a2a" fill-opacity="0.286"/>
<rect x="53.95" y="181.06" width="11.89" height="1.00" fill="#4a9a4a" fill-opacity="0.050"/>
<rect x="56.8" y="182.05" width="5.9" height="1.00" fill="#4f8f3f" fill-opacity="0.105"/>
<rect x="52.2" y="182.05" width="4.4" height="1.00" fill="#4f8f3f" fill-opacity="0.050"/>
<rect x="58.81" y="182.05" width="2.18" height="1.00" fill="#2a7a2a" fill-opacity="0.244"/>
<rect x="56.35" y="182.05" width="7.11" height="1.00" fill="#4a9a4a" fill-opacity="0.051"/>
<rect x="76.3" y="183.05" width="3.6" height="1.00" fill="#4f8f3f" fill-opacity="0.039"/>
<rect x="58.80" y="183.05" width="2.19" height="1.00" fill="#2a7a2a" fill-opacity="0.239"/>
<rect x="55.03" y="183.05" width="9.75" height="1.00" fill="#4a9a4a" fill-opacity="0.052"/>
<rect x="65.5" y="184.05" width="7.5" height="1.00" fill="#4f8f3f" fill-opacity="0.043"/>
<rect x="52.6" y="184.05" width="2.1" height="1.00" fill="#4f8f3f" fill-opacity="0.045"/>
<rect x="77.2" y="184.05" width="2.1" height="1.00" fill="#4f8f3f" fill-opacity="0.094"/>
<rect x="58.80" y="184.05" width="2.21" height="1.00" fill="#2a7a2a" fill-opacity="0.193"/>
<rect x="54.26" y="184.05" width="11.29" height="1.00" fill="#4a9a4a" fill-opacity="0.053"/>
<rect x="60.1" y="185.05" width="7.2" height="1.00" fill="#4f8f3f" fill-opacity="0.073"/>
<rect x="74.3" y="185.05" width="6.5" height="1.00" fill="#4f8f3f" fill-opacity="0.082"/>
<rect x="50.9" y="185.05" width="4.6" height="1.00" fill="#4f8f3f" fill-opacity="0.112"/>
<rect x="75.0" y="185.05" width="7.5" height="1.00" fill="#4f8f3f" fill-opacity="0.112"/>
<rect x="58.79" y="185.05" width="2.22" height="1.00" fill="#2a7a2a" fill-opacity="0.304"/>
<rect x="53.43" y="185.05" width="12.94" height="1.00" fill="#4a9a4a" fill-opacity="0.054"/>
<rect x="36.6" y="186.04" width="7.5" height="1.00" fill="#4f8f3f" fill-opacity="0.077"/>
<rect x="58.78" y="186.04" width="2.23" height="1.00" fill="#2a7a2a" fill-opacity="0.244"/>
<rect x="56.28" y="186.04" width="7.24" height="1.00" fill="#4a9a4a" fill-opacity="0.055"/>
<rect x="52.5" y="187.04" width="2.8" height="1.00" fill="#4f8f3f" fill-opacity="0.058"/>
<rect x="50.2" y="187.04" width="3.8" height="1.00" fill="#4f8f3f" fill-opacity="0.050"/>
<rect x="58.78" y="187.04" width="2.24" height="1.00" fill="#2a7a2a" fill-opacity="0.283"/>
<rect x="53.94" y="187.04" width="11.92" height="1.00" fill="#4a9a4a" fill-opacity="0.056"/>
<rect x="70.3" y="188.04" width="1.6" height="1.00" fill="#4f8f3f" fill-opacity="0.084"/>
<rect x="49.6" y="188.04" width="3.0" height="1.00" fill="#4f8f3f" fill-opacity="0.073"/>
<rect x="58.77" y="188.04" width="2.25" height="1.00" fill="#2a7a2a" fill-opacity="0.281"/>
<rect x="54.52" y="188.04" width="10.76" height="1.00" fill="#4a9a4a" fill-opacity="0.057"/>
<rect x="83.4" y="189.03" width="1.5" height="1.00" fill="#4f8f3f" fill-opacity="0.066"/>
<rect x="56.7" y="189.03" width="7.6" height="1.00" fill="#4f8f3f" fill-opacity="0.085"/>
<rect x="43.8" y="189.03" width="8.4" height="1.00" fill="#4f8f3f" fill-opacity="0.072"/>
<rect x="71.4" y="189.03" width="1.9" height="1.00" fill="#4f8f3f" fill-opacity="0.128"/>
<rect x="58.77" y="189.03" width="2.27" height="1.00" fill="#2a7a2a" fill-opacity="0.317"/>
<rect x="55.26" y="189.03" width="9.27" height="1.00" fill="#4a9a4a" fill-opacity="0.058"/>
<rect x="37.6" y="190.03" width="8.4" height="1.00" fill="#4f8f3f" fill-opacity="0.125"/>
<rect x="77.4" y="190.03" width="4.9" height="1.00" fill="#4f8f3f" fill-opacity="0.064"/>
<rect x="50.7" y="190.03" width="4.6" height="1.00" fill="#4f8f3f" fill-opacity="0.113"/>
<rect x="58.76" y="190.03" width="2.28" height="1.00" fill="#2a7a2a" fill-opacity="0.232"/>
<rect x="53.23" y="190.03" width="13.33" height="1.00" fill="#4a9a4a" fill-opacity="0.059"/>
<rect x="81.6" y="191.03" width="3.3" height="1.00" fill="#4f8f3f" fill-opacity="0.092"/>
<rect x="54.9" y="191.03" width="7.8" height="1.00" fill="#4f8f3f" fill-opacity="0.119"/>
<rect x="58.75" y="191.03" width="2.29" height="1.00" fill="#2a7a2a" fill-opacity="0.230"/>
<rect x="55.60" y="191.03" width="8.61" height="1.00" fill="#4a9a4a" fill-opacity="0.060"/>
<rect x="67.5" y="192.02" width="2.1" height="1.00" fill="#4f8f3f" fill-opacity="0.114"/>
<rect x="58.75" y="192.02" width="2.30" height="1.00" fill="#2a7a2a" fill-opacity="0.302"/>
<rect x="54.64" y="192.02" width="10.52" height="1.00" fill="#4a9a4a" fill-opacity="0.061"/>
<rect x="54.5" y="193.02" width="8.4" height="1.00" fill="#4f8f3f" fill-opacity="0.051"/>
<rect x="58.74" y="193.02" width="2.32" height="1.00" fill="#2a7a2a" fill-opacity="0.349"/>
<rect x="55.74" y="193.02" width="8.32" height="1.00" fill="#4a9a4a" fill-opacity="0.062"/>
<rect x="57.5" y="194.02" width="7.7" height="1.00" fill="#4f8f3f" fill-opacity="0.073"/>
<rect x="66.1" y="194.02" width="6.9" height="1.00" fill="#4f8f3f" fill-opacity="0.078"/>
<rect x="39.9" y="194.02" width="4.5" height="1.00" fill="#4f8f3f" fill-opacity="0.088"/>
<rect x="73.9" y="194.02" width="6.4" height="1.00" fill="#4f8f3f" fill-opacity="0.043"/>
<rect x="58.74" y="194.02" width="2.33" height="1.00" fill="#2a7a2a" fill-opacity="0.293"/>
<rect x="53.72" y="194.02" width="12.37" height="1.00" fill="#4a9a4a" fill-opacity="0.063"/>
<rect x="63.3" y="195.02" width="7.3" height="1.00" fill="#4f8f3f" fill-opacity="0.128"/>
<rect x="68.7" y="195.02" width="8.3" height="1.00" fill="#4f8f3f" fill-opacity="0.058"/>
<rect x="58.73" y="195.02" width="2.34" height="1.00" fill="#2a7a2a" fill-opacity="0.336"/>
<rect x="52.74" y="195.02" width="14.31" height="1.00" fill="#4a9a4a" fill-opacity="0.064"/>
<rect x="70.4" y="196.01" width="5.7" height="1.00" fill="#4f8f3f" fill-opacity="0.052"/>
<rect x="53.0" y="196.01" width="3.6" height="1.00" fill="#4f8f3f" fill-opacity="0.091"/>
<rect x="55.9" y="196.01" width="4.4" height="1.00" fill="#4f8f3f" fill-opacity="0.053"/>
<rect x="58.72" y="196.01" width="2.35" height="1.00" fill="#2a7a2a" fill-opacity="0.342"/>
<rect x="55.92" y="196.01" width="7.97" height="1.00" fill="#4a9a4a" fill-opacity="0.065"/>
<rect x="61.2" y="197.01" width="7.8" height="1.00" fill="#4f8f3f" fill-opacity="0.104"/>
<rect x="59.4" y="197.01" width="4.6" height="1.00" fill="#4f8f3f" fill-opacity="0.051"/>
<rect x="58.72" y="197.01" width="2.36" height="1.00" fill="#2a7a2a" fill-opacity="0.392"/>
<rect x="54.67" y="197.01" width="10.46" height="1.00" fill="#4a9a4a" fill-opacity="0.066"/>
<rect x="70.9" y="198.01" width="7.7" height="1.00" fill="#4f8f3f" fill-opacity="0.084"/>
<rect x="64.3" y="198.01" width="1.6" height="1.00" fill="#4f8f3f" fill-opacity="0.085"/>
<rect x="58.71" y="198.01" width="2.38" height="1.00" fill="#2a7a2a" fill-opacity="0.369"/>
<rect x="52.33" y="198.01" width="15.14" height="1.00" fill="#4a9a4a" fill-opacity="0.068"/>
<rect x="63.5" y="199.00" width="1.6" height="1.00" fill="#4f8f3f" fill-opacity="0.079"/>
<rect x="53.4" y="199.00" width="5.3" height="1.00" fill="#4f8f3f" fill-opacity="0.127"/>
<rect x="58.71" y="199.00" width="2.39" height="1.00" fill="#2a7a2a" fill-opacity="0.394"/>
<rect x="53.79" y="199.00" width="12.21" height="1.00" fill="#4a9a4a" fill-opacity="0.069"/>
<rect x="51.2" y="200.00" width="3.7" height="1.00" fill="#4f8f3f" fill-opacity="0.070"/>
<rect x="59.0" y="200.00" width="5.8" height="1.00" fill="#4f8f3f" fill-opacity="0.066"/>
<rect x="58.70" y="200.00" width="2.40" height="1.00" fill="#2a7a2a" fill-opacity="0.417"/>
<rect x="52.11" y="200.00" width="15.59" height="1.00" fill="#4a9a4a" fill-opacity="0.070"/>
<rect x="73.9" y="201.00" width="2.5" height="1.00" fill="#4f8f3f" fill-opacity="0.096"/>
<rect x="60.4" y="201.00" width="2.2" height="1.00" fill="#4f8f3f" fill-opacity="0.138"/>
<rect x="58.69" y="201.00" width="2.41" height="1.00" fill="#2a7a2a" fill-opacity="0.332"/>
<rect x="52.52" y="201.00" width="14.76" height="1.00" fill="#4a9a4a" fill-opacity="0.071"/>
<rect x="41.3" y="201.99" width="8.3" height="1.00" fill="#4f8f3f" fill-opacity="0.104"/>
<rect x="44.8" y="201.99" width="8.9" height="1.00" fill="#4f8f3f" fill-opacity="0.133"/>
<rect x="40.7" y="201.99" width="7.7" height="1.00" fill="#4f8f3f" fill-opacity="0.077"/>
<rect x="46.2" y="201.99" width="5.8" height="1.00" fill="#4f8f3f" fill-opacity="0.135"/>
<rect x="58.69" y="201.99" width="2.42" height="1.00" fill="#2a7a2a" fill-opacity="0.329"/>
<rect x="53.88" y="201.99" width="12.04" height="1.00" fill="#4a9a4a" fill-opacity="0.072"/>
<rect x="53.1" y="202.99" width="7.4" height="1.00" fill="#4f8f3f" fill-opacity="0.147"/>
<rect x="58.68" y="202.99" width="2.44" height="1.00" fill="#2a7a2a" fill-opacity="0.451"/>
<rect x="55.59" y="202.99" width="8.61" height="1.00" fill="#4a9a4a" fill-opacity="0.074"/>
<rect x="65.0" y="203.99" width="7.2" height="1.00" fill="#4f8f3f" fill-opacity="0.064"/>
<rect x="74.2" y="203.99" width="4.5" height="1.00" fill="#4f8f3f" fill-opacity="0.084"/>
<rect x="61.0" y="203.99" width="8.5" height="1.00" fill="#4f8f3f" fill-opacity="0.053"/>
<rect x="68.8" y="203.99" width="7.4" height="1.00" fill="#4f8f3f" fill-opacity="0.091"/>
<rect x="58.68" y="203.99" width="2.45" height="1.00" fill="#2a7a2a" fill-opacity="0.390"/>
<rect x="55.71" y="203.99" width="8.39" height="1.00" fill="#4a9a4a" fill-opacity="0.075"/>
<rect x="40.6" y="204.98" width="7.1" height="1.00" fill="#4f8f3f" fill-opacity="0.101"/>
<rect x="74.3" y="204.98" width="7.9" height="1.00" fill="#4f8f3f" fill-opacity="0.092"/>
<rect x="41.8" y="204.98" width="8.3" height="1.00" fill="#4f8f3f" fill-opacity="0.105"/>
<rect x="58.67" y="204.98" width="2.46" height="1.00" fill="#2a7a2a" fill-opacity="0.402"/>
<rect x="54.21" y="204.98" width="11.38" height="1.00" fill="#4a9a4a" fill-opacity="0.076"/>
<rect x="74.6" y="205.98" width="7.0" height="1.00" fill="#4f8f3f" fill-opacity="0.114"/>
<rect x="58.66" y="205.98" width="2.47" height="1.00" fill="#2a7a2a" fill-opacity="0.443"/>
<rect x="54.72" y="205.98" width="10.35" height="1.00" fill="#4a9a4a" fill-opacity="0.078"/>
<rect x="62.0" y="206.98" width="3.3" height="1.00" fill="#4f8f3f" fill-opacity="0.146"/>
<rect x="58.66" y="206.98" width="2.48" height="1.00" fill="#2a7a2a" fill-opacity="0.482"/>
<rect x="53.91" y="206.98" width="11.99" height="1.00" fill="#4a9a4a" fill-opacity="0.079"/>
<rect x="57.7" y="207.98" width="3.3" height="1.00" fill="#4f8f3f" fill-opacity="0.056"/>
<rect x="58.65" y="207.98" width="2.50" height="1.00" fill="#2a7a2a" fill-opacity="0.483"/>
<rect x="51.62" y="207.98" width="16.56" height="1.00" fill="#4a9a4a" fill-opacity="0.080"/>
<rect x="54.7" y="208.97" width="7.5" height="1.00" fill="#4f8f3f" fill-opacity="0.074"/>
<rect x="61.5" y="208.97" width="8.3" height="1.00" fill="#4f8f3f" fill-opacity="0.060"/>
<rect x="40.7" y="208.97" width="5.5" height="1.00" fill="#4f8f3f" fill-opacity="0.158"/>
<rect x="58.65" y="208.97" width="2.51" height="1.00" fill="#2a7a2a" fill-opacity="0.364"/>
<rect x="54.86" y="208.97" width="10.09" height="1.00" fill="#4a9a4a" fill-opacity="0.082"/>
<rect x="69.6" y="209.97" width="4.8" height="1.00" fill="#4f8f3f" fill-opacity="0.102"/>
<rect x="70.9" y="209.97" width="3.8" height="1.00" fill="#4f8f3f" fill-opacity="0.102"/>
<rect x="73.5" y="209.97" width="2.6" height="1.00" fill="#4f8f3f" fill-opacity="0.139"/>
<rect x="58.64" y="209.97" width="2.52" height="1.00" fill="#2a7a2a" fill-opacity="0.482"/>
<rect x="51.87" y="209.97" width="16.05" height="1.00" fill="#4a9a4a" fill-opacity="0.083"/>
<rect x="83.4" y="210.97" width="1.5" height="1.00" fill="#4f8f3f" fill-opacity="0.091"/>
<rect x="44.4" y="210.97" width="8.1" height="1.00" fill="#4f8f3f" fill-opacity="0.166"/>
<rect x="58.63" y="210.97" width="2.53" height="1.00" fill="#2a7a2a" fill-opacity="0.411"/>
<rect x="52.95" y="210.97" width="13.90" height="1.00" fill="#4a9a4a" fill-opacity="0.084"/>
<rect x="80.8" y="211.96" width="4.1" height="1.00" fill="#4f8f3f" fill-opacity="0.086"/>
<rect x="80.1" y="211.96" width="3.6" height="1.00" fill="#4f8f3f" fill-opacity="0.100"/>
<rect x="58.63" y="211.96" width="2.55" height="1.00" fill="#2a7a2a" fill-opacity="0.516"/>
<rect x="54.29" y="211.96" width="11.23" height="1.00" fill="#4a9a4a" fill-opacity="0.086"/>
<rect x="71.6" y="212.96" width="6.7" height="1.00" fill="#4f8f3f" fill-opacity="0.083"/>
<rect x="58.5" y="212.96" width="3.7" height="1.00" fill="#4f8f3f" fill-opacity="0.083"/>
<rect x="59.5" y="212.96" width="2.4" height="1.00" fill="#4f8f3f" fill-opacity="0.112"/>
<rect x="77.0" y="212.96" width="2.9" height="1.00" fill="#4f8f3f" fill-opacity="0.078"/>
<rect x="58.62" y="212.96" width="2.56" height="1.00" fill="#2a7a2a" fill-opacity="0.421"/>
<rect x="52.65" y="212.96" width="14.49" height="1.00" fill="#4a9a4a" fill-opacity="0.087"/>
<rect x="55.6" y="213.96" width="5.5" height="1.00" fill="#4f8f3f" fill-opacity="0.115"/>
<rect x="80.0" y="213.96" width="3.6" height="1.00" fill="#4f8f3f" fill-opacity="0.081"/>
<rect x="39.0" y="213.96" width="3.6" height="1.00" fill="#4f8f3f" fill-opacity="0.142"/>
<rect x="54.8" y="213.96" width="8.2" height="1.00" fill="#4f8f3f" fill-opacity="0.170"/>
<rect x="58.62" y="213.96" width="2.57" height="1.00" fill="#2a7a2a" fill-opacity="0.417"/>
<rect x="53.58" y="213.96" width="12.64" height="1.00" fill="#4a9a4a" fill-opacity="0.089"/>
<rect x="71.7" y="214.95" width="2.0" height="1.00" fill="#4f8f3f" fill-opacity="0.060"/>
<rect x="77.7" y="214.95" width="3.9" height="1.00" fill="#4f8f3f" fill-opacity="0.110"/>
<rect x="49.0" y="214.95" width="8.9" height="1.00" fill="#4f8f3f" fill-opacity="0.142"/>
<rect x="81.1" y="214.95" width="3.8" height="1.00" fill="#4f8f3f" fill-opacity="0.065"/>
<rect x="58.61" y="214.95" width="2.58" height="1.00" fill="#2a7a2a" fill-opacity="0.483"/>
<rect x="52.52" y="214.95" width="14.76" height="1.00" fill="#4a9a4a" fill-opacity="0.090"/>
<rect x="72.1" y="215.95" width="3.3" height="1.00" fill="#4f8f3f" fill-opacity="0.112"/>
<rect x="44.3" y="215.95" width="6.0" height="1.00" fill="#4f8f3f" fill-opacity="0.139"/>
<rect x="46.6" y="215.95" width="2.9" height="1.00" fill="#4f8f3f" fill-opacity="0.071"/>
<rect x="58.60" y="215.95" width="2.59" height="1.00" fill="#2a7a2a" fill-opacity="0.434"/>
<rect x="53.30" y="215.95" width="13.20" height="1.00" fill="#4a9a4a" fill-opacity="0.092"/>
<rect x="54.1" y="216.95" width="2.4" height="1.00" fill="#4f8f3f" fill-opacity="0.075"/>
<rect x="62.1" y="216.95" width="6.9" height="1.00" fill="#4f8f3f" fill-opacity="0.129"/>
<rect x="34.9" y="216.95" width="6.7" height="1.00" fill="#4f8f3f" fill-opacity="0.154"/>
<rect x="71.6" y="216.95" width="7.2" height="1.00" fill="#4f8f3f" fill-opacity="0.114"/>
<rect x="58.60" y="216.95" width="2.61" height="1.00" fill="#2a7a2a" fill-opacity="0.533"/>
<rect x="53.17" y="216.95" width="13.46" height="1.00" fill="#4a9a4a" fill-opacity="0.093"/>
<rect x="66.3" y="217.95" width="7.4" height="1.00" fill="#4f8f3f" fill-opacity="0.061"/>
<rect x="75.3" y="217.95" width="3.1" height="1.00" fill="#4f8f3f" fill-opacity="0.174"/>
<rect x="34.9" y="217.95" width="2.6" height="1.00" fill="#4f8f3f" fill-opacity="0.110"/>
<rect x="36.7" y="217.95" width="3.3" height="1.00" fill="#4f8f3f" fill-opacity="0.164"/>
<rect x="58.59" y="217.95" width="2.62" height="1.00" fill="#2a7a2a" fill-opacity="0.472"/>
<rect x="53.70" y="217.95" width="12.41" height="1.00" fill="#4a9a4a" fill-opacity="0.095"/>
<rect x="55.8" y="218.94" width="8.8" height="1.00" fill="#4f8f3f" fill-opacity="0.139"/>
<rect x="80.8" y="218.94" width="4.1" height="1.00" fill="#4f8f3f" fill-opacity="0.091"/>
<rect x="67.5" y="218.94" width="3.2" height="1.00" fill="#4f8f3f" fill-opacity="0.092"/>
<rect x="58.58" y="218.94" width="2.63" height="1.00" fill="#2a7a2a" fill-opacity="0.595"/>
<rect x="50.99" y="218.94" width="17.82" height="1.00" fill="#4a9a4a" fill-opacity="0.096"/>
<rect x="45.2" y="219.94" width="6.4" height="1.00" fill="#4f8f3f" fill-opacity="0.061"/>
<rect x="46.3" y="219.94" width="8.1" height="1.00" fill="#4f8f3f" fill-opacity="0.112"/>
<rect x="58.58" y="219.94" width="2.64" height="1.00" fill="#2a7a2a" fill-opacity="0.528"/>
<rect x="51.32" y="219.94" width="17.17" height="1.00" fill="#4a9a4a" fill-opacity="0.098"/>
<rect x="34.9" y="220.94" width="4.6" height="1.00" fill="#4f8f3f" fill-opacity="0.086"/>
<rect x="72.7" y="220.94" width="5.1" height="1.00" fill="#4f8f3f" fill-opacity="0.105"/>
<rect x="57.4" y="220.94" width="6.2" height="1.00" fill="#4f8f3f" fill-opacity="0.078"/>
<rect x="40.1" y="220.94" width="4.6" height="1.00" fill="#4f8f3f" fill-opacity="0.061"/>
<rect x="58.57" y="220.94" width="2.65" height="1.00" fill="#2a7a2a" fill-opacity="0.522"/>
<rect x="50.71" y="220.94" width="18.39" height="1.00" fill="#4a9a4a" fill-opacity="0.100"/>
<rect x="55.2" y="221.93" width="6.4" height="1.00" fill="#4f8f3f" fill-opacity="0.083"/>
<rect x="58.57" y="221.93" width="2.67" height="1.00" fill="#2a7a2a" fill-opacity="0.509"/>
<rect x="55.21" y="221.93" width="9.39" height="1.00" fill="#4a9a4a" fill-opacity="0.101"/>
<rect x="40.5" y="222.93" width="7.8" height="1.00" fill="#4f8f3f" fill-opacity="0.071"/>
<rect x="74.3" y="222.93" width="4.9" height="1.00" fill="#4f8f3f" fill-opacity="0.166"/>
<rect x="54.4" y="222.93" width="3.8" height="1.00" fill="#4f8f3f" fill-opacity="0.134"/>
<rect x="58.56" y="222.93" width="2.68" height="1.00" fill="#2a7a2a" fill-opacity="0.573"/>
<rect x="54.49" y="222.93" width="10.82" height="1.00" fill="#4a9a4a" fill-opacity="0.103"/>
<rect x="83.4" y="223.93" width="1.5" height="1.00" fill="#4f8f3f" fill-opacity="0.127"/>
<rect x="52.2" y="223.93" width="6.5" height="1.00" fill="#4f8f3f" fill-opacity="0.075"/>
<rect x="58.55" y="223.93" width="2.69" height="1.00" fill="#2a7a2a" fill-opacity="0.545"/>
<rect x="53.96" y="223.93" width="11.87" height="1.00" fill="#4a9a4a" fill-opacity="0.104"/>
<rect x="46.1" y="224.92" width="8.0" height="1.00" fill="#4f8f3f" fill-opacity="0.086"/>
<rect x="53.0" y="224.92" width="1.7" height="1.00" fill="#4f8f3f" fill-opacity="0.139"/>
<rect x="63.2" y="224.92" width="8.8" height="1.00" fill="#4f8f3f" fill-opacity="0.096"/>
<rect x="78.1" y="224.92" width="3.1" height="1.00" fill="#4f8f3f" fill-opacity="0.147"/>
<rect x="58.55" y="224.92" width="2.70" height="1.00" fill="#2a7a2a" fill-opacity="0.620"/>
<rect x="50.37" y="224.92" width="19.07" height="1.00" fill="#4a9a4a" fill-opacity="0.106"/>
<rect x="52.5" y="225.92" width="4.4" height="1.00" fill="#4f8f3f" fill-opacity="0.065"/>
<rect x="52.6" y="225.92" width="5.2" height="1.00" fill="#4f8f3f" fill-opacity="0.094"/>
<rect x="44.5" y="225.92" width="6.5" height="1.00" fill="#4f8f3f" fill-opacity="0.089"/>
<rect x="58.54" y="225.92" width="2.72" height="1.00" fill="#2a7a2a" fill-opacity="0.551"/>
<rect x="53.54" y="225.92" width="12.72" height="1.00" fill="#4a9a4a" fill-opacity="0.108"/>
<rect x="57.4" y="226.92" width="3.4" height="1.00" fill="#4f8f3f" fill-opacity="0.171"/>
<rect x="63.9" y="226.92" width="8.3" height="1.00" fill="#4f8f3f" fill-opacity="0.073"/>
<rect x="77.8" y="226.92" width="3.5" height="1.00" fill="#4f8f3f" fill-opacity="0.108"/>
<rect x="49.0" y="226.92" width="6.9" height="1.00" fill="#4f8f3f" fill-opacity="0.176"/>
<rect x="58.54" y="226.92" width="2.73" height="1.00" fill="#2a7a2a" fill-opacity="0.560"/>
<rect x="55.13" y="226.92" width="9.54" height="1.00" fill="#4a9a4a" fill-opacity="0.109"/>
<rect x="61.5" y="227.92" width="3.5" height="1.00" fill="#4f8f3f" fill-opacity="0.148"/>
<rect x="34.9" y="227.92" width="4.2" height="1.00" fill="#4f8f3f" fill-opacity="0.135"/>
<rect x="71.2" y="227.92" width="6.2" height="1.00" fill="#4f8f3f" fill-opacity="0.141"/>
<rect x="58.53" y="227.92" width="2.74" height="1.00" fill="#2a7a2a" fill-opacity="0.618"/>
<rect x="53.04" y="227.92" width="13.71" height="1.00" fill="#4a9a4a" fill-opacity="0.111"/>
<rect x="60.5" y="228.91" width="4.9" height="1.00" fill="#4f8f3f" fill-opacity="0.189"/>
<rect x="65.0" y="228.91" width="5.2" height="1.00" fill="#4f8f3f" fill-opacity="0.122"/>
<rect x="34.9" y="228.91" width="3.5" height="1.00" fill="#4f8f3f" fill-opacity="0.093"/>
<rect x="58.52" y="228.91" width="2.75" height="1.00" fill="#2a7a2a" fill-opacity="0.603"/>
<rect x="52.42" y="228.91" width="14.96" height="1.00" fill="#4a9a4a" fill-opacity="0.113"/>
<rect x="34.9" y="229.91" width="2.1" height="1.00" fill="#4f8f3f" fill-opacity="0.171"/>
<rect x="67.4" y="229.91" width="7.5" height="1.00" fill="#4f8f3f" fill-opacity="0.095"/>
<rect x="50.4" y="229.91" width="7.5" height="1.00" fill="#4f8f3f" fill-opacity="0.087"/>
<rect x="63.5" y="229.91" width="4.0" height="1.00" fill="#4f8f3f" fill-opacity="0.153"/>
<rect x="58.52" y="229.91" width="2.76" height="1.00" fill="#2a7a2a" fill-opacity="0.697"/>
<rect x="53.60" y="229.91" width="12.60" height="1.00" fill="#4a9a4a" fill-opacity="0.115"/>
<rect x="63.2" y="230.91" width="5.5" height="1.00" fill="#4f8f3f" fill-opacity="0.092"/>
<rect x="52.1" y="230.91" width="2.4" height="1.00" fill="#4f8f3f" fill-opacity="0.068"/>
<rect x="66.7" y="230.91" width="6.8" height="1.00" fill="#4f8f3f" fill-opacity="0.075"/>
<rect x="60.4" y="230.91" width="8.0" height="1.00" fill="#4f8f3f" fill-opacity="0.179"/>
<rect x="58.51" y="230.91" width="2.78" height="1.00" fill="#2a7a2a" fill-opacity="0.603"/>
<rect x="53.77" y="230.91" width="12.26" height="1.00" fill="#4a9a4a" fill-opacity="0.116"/>
<rect x="38.8" y="231.90" width="4.3" height="1.00" fill="#4f8f3f" fill-opacity="0.154"/>
<rect x="62.3" y="231.90" width="2.5" height="1.00" fill="#4f8f3f" fill-opacity="0.196"/>
<rect x="40.8" y="231.90" width="7.1" height="1.00" fill="#4f8f3f" fill-opacity="0.097"/>
<rect x="49.9" y="231.90" width="6.2" height="1.00" fill="#4f8f3f" fill-opacity="0.100"/>
<rect x="58.51" y="231.90" width="2.79" height="1.00" fill="#2a7a2a" fill-opacity="0.699"/>
<rect x="49.72" y="231.90" width="20.35" height="1.00" fill="#4a9a4a" fill-opacity="0.118"/>
<rect x="34.90" y="134.20" width="50.00" height="2.2" fill="#6cbf6c" fill-opacity="0.28"/>
<rect x="56.90" y="134.20" width="6" height="2.5" fill="#3a8a3a" fill-opacity="0.2"/>
<rect x="34.90" y="134.20" width="50.00" height="98.70" fill="none" stroke="#3a3a3a" stroke-width="1.1" />
<rect x="88.60" y="134.20" width="49.80" height="98.70" fill="#fbfcfa" />
<rect x="102.7" y="134.20" width="9.0" height="1.00" fill="#4f8f3f" fill-opacity="0.032"/>
<rect x="110.1" y="134.20" width="8.0" height="1.00" fill="#4f8f3f" fill-opacity="0.023"/>
<rect x="108.2" y="134.20" width="8.8" height="1.00" fill="#4f8f3f" fill-opacity="0.028"/>
<rect x="114.7" y="134.20" width="5.4" height="1.00" fill="#4f8f3f" fill-opacity="0.044"/>
<rect x="113.00" y="134.20" width="1.60" height="1.00" fill="#2a7a2a" fill-opacity="0.500"/>
<rect x="111.48" y="134.20" width="4.63" height="1.00" fill="#4a9a4a" fill-opacity="0.042"/>
<rect x="124.0" y="135.20" width="8.4" height="1.00" fill="#4f8f3f" fill-opacity="0.034"/>
<rect x="112.99" y="135.20" width="1.61" height="1.00" fill="#2a7a2a" fill-opacity="0.500"/>
<rect x="111.14" y="135.20" width="5.32" height="1.00" fill="#4a9a4a" fill-opacity="0.042"/>
<rect x="106.9" y="136.19" width="6.2" height="1.00" fill="#4f8f3f" fill-opacity="0.022"/>
<rect x="91.0" y="136.19" width="2.8" height="1.00" fill="#4f8f3f" fill-opacity="0.046"/>
<rect x="113.0" y="136.19" width="6.0" height="1.00" fill="#4f8f3f" fill-opacity="0.034"/>
<rect x="122.4" y="136.19" width="8.8" height="1.00" fill="#4f8f3f" fill-opacity="0.041"/>
<rect x="112.99" y="136.19" width="1.62" height="1.00" fill="#2a7a2a" fill-opacity="0.500"/>
<rect x="111.99" y="136.19" width="3.62" height="1.00" fill="#4a9a4a" fill-opacity="0.042"/>
<rect x="93.9" y="137.19" width="3.3" height="1.00" fill="#4f8f3f" fill-opacity="0.030"/>
<rect x="111.6" y="137.19" width="5.3" height="1.00" fill="#4f8f3f" fill-opacity="0.017"/>
<rect x="108.7" y="137.19" width="5.4" height="1.00" fill="#4f8f3f" fill-opacity="0.025"/>
<rect x="100.2" y="137.19" width="5.6" height="1.00" fill="#4f8f3f" fill-opacity="0.023"/>
<rect x="112.98" y="137.19" width="1.64" height="1.00" fill="#2a7a2a" fill-opacity="0.154"/>
<rect x="112.43" y="137.19" width="2.73" height="1.00" fill="#4a9a4a" fill-opacity="0.042"/>
<rect x="120.1" y="138.19" width="6.9" height="1.00" fill="#4f8f3f" fill-opacity="0.037"/>
<rect x="103.9" y="138.19" width="7.9" height="1.00" fill="#4f8f3f" fill-opacity="0.026"/>
<rect x="110.3" y="138.19" width="5.6" height="1.00" fill="#4f8f3f" fill-opacity="0.024"/>
<rect x="112.98" y="138.19" width="1.65" height="1.00" fill="#2a7a2a" fill-opacity="0.165"/>
<rect x="112.11" y="138.19" width="3.38" height="1.00" fill="#4a9a4a" fill-opacity="0.042"/>
<rect x="131.4" y="139.18" width="7.0" height="1.00" fill="#4f8f3f" fill-opacity="0.025"/>
<rect x="112.97" y="139.18" width="1.66" height="1.00" fill="#2a7a2a" fill-opacity="0.169"/>
<rect x="111.61" y="139.18" width="4.38" height="1.00" fill="#4a9a4a" fill-opacity="0.042"/>
<rect x="134.6" y="140.18" width="3.8" height="1.00" fill="#4f8f3f" fill-opacity="0.039"/>
<rect x="119.9" y="140.18" width="7.4" height="1.00" fill="#4f8f3f" fill-opacity="0.052"/>
<rect x="112.96" y="140.18" width="1.67" height="1.00" fill="#2a7a2a" fill-opacity="0.149"/>
<rect x="112.00" y="140.18" width="3.60" height="1.00" fill="#4a9a4a" fill-opacity="0.042"/>
<rect x="101.9" y="141.18" width="7.0" height="1.00" fill="#4f8f3f" fill-opacity="0.037"/>
<rect x="90.8" y="141.18" width="4.0" height="1.00" fill="#4f8f3f" fill-opacity="0.055"/>
<rect x="109.4" y="141.18" width="7.4" height="1.00" fill="#4f8f3f" fill-opacity="0.049"/>
<rect x="124.0" y="141.18" width="1.5" height="1.00" fill="#4f8f3f" fill-opacity="0.019"/>
<rect x="112.96" y="141.18" width="1.68" height="1.00" fill="#2a7a2a" fill-opacity="0.138"/>
<rect x="111.89" y="141.18" width="3.81" height="1.00" fill="#4a9a4a" fill-opacity="0.043"/>
<rect x="88.6" y="142.18" width="6.2" height="1.00" fill="#4f8f3f" fill-opacity="0.059"/>
<rect x="124.2" y="142.18" width="4.6" height="1.00" fill="#4f8f3f" fill-opacity="0.044"/>
<rect x="112.95" y="142.18" width="1.70" height="1.00" fill="#2a7a2a" fill-opacity="0.188"/>
<rect x="110.94" y="142.18" width="5.73" height="1.00" fill="#4a9a4a" fill-opacity="0.043"/>
<rect x="118.5" y="143.17" width="4.4" height="1.00" fill="#4f8f3f" fill-opacity="0.026"/>
<rect x="95.9" y="143.17" width="1.7" height="1.00" fill="#4f8f3f" fill-opacity="0.021"/>
<rect x="121.2" y="143.17" width="3.0" height="1.00" fill="#4f8f3f" fill-opacity="0.060"/>
<rect x="112.95" y="143.17" width="1.71" height="1.00" fill="#2a7a2a" fill-opacity="0.174"/>
<rect x="111.01" y="143.17" width="5.59" height="1.00" fill="#4a9a4a" fill-opacity="0.043"/>
<rect x="123.5" y="144.17" width="6.2" height="1.00" fill="#4f8f3f" fill-opacity="0.025"/>
<rect x="103.4" y="144.17" width="4.5" height="1.00" fill="#4f8f3f" fill-opacity="0.031"/>
<rect x="112.94" y="144.17" width="1.72" height="1.00" fill="#2a7a2a" fill-opacity="0.122"/>
<rect x="111.65" y="144.17" width="4.31" height="1.00" fill="#4a9a4a" fill-opacity="0.043"/>
<rect x="116.4" y="145.17" width="7.2" height="1.00" fill="#4f8f3f" fill-opacity="0.051"/>
<rect x="105.7" y="145.17" width="1.7" height="1.00" fill="#4f8f3f" fill-opacity="0.043"/>
<rect x="116.4" y="145.17" width="6.5" height="1.00" fill="#4f8f3f" fill-opacity="0.036"/>
<rect x="112.93" y="145.17" width="1.73" height="1.00" fill="#2a7a2a" fill-opacity="0.100"/>
<rect x="111.59" y="145.17" width="4.42" height="1.00" fill="#4a9a4a" fill-opacity="0.044"/>
<rect x="106.8" y="146.16" width="4.7" height="1.00" fill="#4f8f3f" fill-opacity="0.031"/>
<rect x="112.0" y="146.16" width="6.7" height="1.00" fill="#4f8f3f" fill-opacity="0.028"/>
<rect x="112.93" y="146.16" width="1.75" height="1.00" fill="#2a7a2a" fill-opacity="0.133"/>
<rect x="111.01" y="146.16" width="5.59" height="1.00" fill="#4a9a4a" fill-opacity="0.044"/>
<rect x="115.0" y="147.16" width="1.9" height="1.00" fill="#4f8f3f" fill-opacity="0.059"/>
<rect x="104.7" y="147.16" width="4.8" height="1.00" fill="#4f8f3f" fill-opacity="0.023"/>
<rect x="112.92" y="147.16" width="1.76" height="1.00" fill="#2a7a2a" fill-opacity="0.085"/>
<rect x="111.01" y="147.16" width="5.57" height="1.00" fill="#4a9a4a" fill-opacity="0.044"/>
<rect x="92.6" y="148.16" width="3.9" height="1.00" fill="#4f8f3f" fill-opacity="0.046"/>
<rect x="109.8" y="148.16" width="5.6" height="1.00" fill="#4f8f3f" fill-opacity="0.034"/>
<rect x="113.8" y="148.16" width="3.6" height="1.00" fill="#4f8f3f" fill-opacity="0.068"/>
<rect x="112.92" y="148.16" width="1.77" height="1.00" fill="#2a7a2a" fill-opacity="0.157"/>
<rect x="111.32" y="148.16" width="4.97" height="1.00" fill="#4a9a4a" fill-opacity="0.045"/>
<rect x="109.4" y="149.15" width="7.5" height="1.00" fill="#4f8f3f" fill-opacity="0.041"/>
<rect x="112.1" y="149.15" width="4.0" height="1.00" fill="#4f8f3f" fill-opacity="0.061"/>
<rect x="128.8" y="149.15" width="7.4" height="1.00" fill="#4f8f3f" fill-opacity="0.064"/>
<rect x="112.91" y="149.15" width="1.78" height="1.00" fill="#2a7a2a" fill-opacity="0.091"/>
<rect x="111.51" y="149.15" width="4.58" height="1.00" fill="#4a9a4a" fill-opacity="0.045"/>
<rect x="119.2" y="150.15" width="7.1" height="1.00" fill="#4f8f3f" fill-opacity="0.059"/>
<rect x="112.90" y="150.15" width="1.79" height="1.00" fill="#2a7a2a" fill-opacity="0.215"/>
<rect x="110.12" y="150.15" width="7.37" height="1.00" fill="#4a9a4a" fill-opacity="0.045"/>
<rect x="103.2" y="151.15" width="8.0" height="1.00" fill="#4f8f3f" fill-opacity="0.062"/>
<rect x="114.6" y="151.15" width="1.8" height="1.00" fill="#4f8f3f" fill-opacity="0.066"/>
<rect x="112.90" y="151.15" width="1.81" height="1.00" fill="#2a7a2a" fill-opacity="0.108"/>
<rect x="111.56" y="151.15" width="4.47" height="1.00" fill="#4a9a4a" fill-opacity="0.046"/>
<rect x="134.5" y="152.15" width="3.9" height="1.00" fill="#4f8f3f" fill-opacity="0.053"/>
<rect x="101.4" y="152.15" width="4.2" height="1.00" fill="#4f8f3f" fill-opacity="0.050"/>
<rect x="113.1" y="152.15" width="4.4" height="1.00" fill="#4f8f3f" fill-opacity="0.049"/>
<rect x="112.89" y="152.15" width="1.82" height="1.00" fill="#2a7a2a" fill-opacity="0.125"/>
<rect x="111.18" y="152.15" width="5.25" height="1.00" fill="#4a9a4a" fill-opacity="0.046"/>
<rect x="130.4" y="153.14" width="1.7" height="1.00" fill="#4f8f3f" fill-opacity="0.070"/>
<rect x="112.7" y="153.14" width="7.2" height="1.00" fill="#4f8f3f" fill-opacity="0.044"/>
<rect x="120.1" y="153.14" width="8.7" height="1.00" fill="#4f8f3f" fill-opacity="0.044"/>
<rect x="93.1" y="153.14" width="4.1" height="1.00" fill="#4f8f3f" fill-opacity="0.036"/>
<rect x="112.88" y="153.14" width="1.83" height="1.00" fill="#2a7a2a" fill-opacity="0.146"/>
<rect x="110.13" y="153.14" width="7.34" height="1.00" fill="#4a9a4a" fill-opacity="0.047"/>
<rect x="90.1" y="154.14" width="6.6" height="1.00" fill="#4f8f3f" fill-opacity="0.056"/>
<rect x="112.88" y="154.14" width="1.84" height="1.00" fill="#2a7a2a" fill-opacity="0.220"/>
<rect x="110.24" y="154.14" width="7.12" height="1.00" fill="#4a9a4a" fill-opacity="0.047"/>
<rect x="93.8" y="155.14" width="5.0" height="1.00" fill="#4f8f3f" fill-opacity="0.044"/>
<rect x="112.87" y="155.14" width="1.85" height="1.00" fill="#2a7a2a" fill-opacity="0.185"/>
<rect x="109.93" y="155.14" width="7.73" height="1.00" fill="#4a9a4a" fill-opacity="0.048"/>
<rect x="99.8" y="156.13" width="4.0" height="1.00" fill="#4f8f3f" fill-opacity="0.028"/>
<rect x="120.7" y="156.13" width="8.9" height="1.00" fill="#4f8f3f" fill-opacity="0.033"/>
<rect x="112.87" y="156.13" width="1.87" height="1.00" fill="#2a7a2a" fill-opacity="0.115"/>
<rect x="110.67" y="156.13" width="6.27" height="1.00" fill="#4a9a4a" fill-opacity="0.048"/>
<rect x="89.2" y="157.13" width="3.2" height="1.00" fill="#4f8f3f" fill-opacity="0.054"/>
<rect x="127.2" y="157.13" width="7.2" height="1.00" fill="#4f8f3f" fill-opacity="0.046"/>
<rect x="112.86" y="157.13" width="1.88" height="1.00" fill="#2a7a2a" fill-opacity="0.155"/>
<rect x="109.71" y="157.13" width="8.17" height="1.00" fill="#4a9a4a" fill-opacity="0.049"/>
<rect x="121.1" y="158.13" width="2.0" height="1.00" fill="#4f8f3f" fill-opacity="0.047"/>
<rect x="100.5" y="158.13" width="7.8" height="1.00" fill="#4f8f3f" fill-opacity="0.066"/>
<rect x="106.1" y="158.13" width="2.4" height="1.00" fill="#4f8f3f" fill-opacity="0.061"/>
<rect x="120.4" y="158.13" width="2.7" height="1.00" fill="#4f8f3f" fill-opacity="0.063"/>
<rect x="112.85" y="158.13" width="1.89" height="1.00" fill="#2a7a2a" fill-opacity="0.144"/>
<rect x="110.92" y="158.13" width="5.77" height="1.00" fill="#4a9a4a" fill-opacity="0.049"/>
<rect x="119.7" y="159.12" width="4.9" height="1.00" fill="#4f8f3f" fill-opacity="0.037"/>
<rect x="111.6" y="159.12" width="3.9" height="1.00" fill="#4f8f3f" fill-opacity="0.049"/>
<rect x="119.3" y="159.12" width="6.4" height="1.00" fill="#4f8f3f" fill-opacity="0.051"/>
<rect x="112.85" y="159.12" width="1.90" height="1.00" fill="#2a7a2a" fill-opacity="0.182"/>
<rect x="110.10" y="159.12" width="7.40" height="1.00" fill="#4a9a4a" fill-opacity="0.050"/>
<rect x="113.2" y="160.12" width="8.0" height="1.00" fill="#4f8f3f" fill-opacity="0.037"/>
<rect x="112.84" y="160.12" width="1.92" height="1.00" fill="#2a7a2a" fill-opacity="0.182"/>
<rect x="111.43" y="160.12" width="4.74" height="1.00" fill="#4a9a4a" fill-opacity="0.051"/>
<rect x="107.2" y="161.12" width="3.6" height="1.00" fill="#4f8f3f" fill-opacity="0.081"/>
<rect x="114.6" y="161.12" width="5.9" height="1.00" fill="#4f8f3f" fill-opacity="0.058"/>
<rect x="110.1" y="161.12" width="8.5" height="1.00" fill="#4f8f3f" fill-opacity="0.052"/>
<rect x="112.84" y="161.12" width="1.93" height="1.00" fill="#2a7a2a" fill-opacity="0.184"/>
<rect x="110.70" y="161.12" width="6.19" height="1.00" fill="#4a9a4a" fill-opacity="0.051"/>
<rect x="124.6" y="162.12" width="6.9" height="1.00" fill="#4f8f3f" fill-opacity="0.060"/>
<rect x="117.4" y="162.12" width="6.9" height="1.00" fill="#4f8f3f" fill-opacity="0.051"/>
<rect x="112.83" y="162.12" width="1.94" height="1.00" fill="#2a7a2a" fill-opacity="0.166"/>
<rect x="111.52" y="162.12" width="4.56" height="1.00" fill="#4a9a4a" fill-opacity="0.052"/>
<rect x="134.8" y="163.11" width="3.6" height="1.00" fill="#4f8f3f" fill-opacity="0.056"/>
<rect x="106.8" y="163.11" width="4.6" height="1.00" fill="#4f8f3f" fill-opacity="0.032"/>
<rect x="118.9" y="163.11" width="2.4" height="1.00" fill="#4f8f3f" fill-opacity="0.083"/>
<rect x="112.82" y="163.11" width="1.95" height="1.00" fill="#2a7a2a" fill-opacity="0.181"/>
<rect x="110.26" y="163.11" width="7.09" height="1.00" fill="#4a9a4a" fill-opacity="0.053"/>
<rect x="95.4" y="164.11" width="3.2" height="1.00" fill="#4f8f3f" fill-opacity="0.086"/>
<rect x="112.82" y="164.11" width="1.96" height="1.00" fill="#2a7a2a" fill-opacity="0.260"/>
<rect x="109.02" y="164.11" width="9.56" height="1.00" fill="#4a9a4a" fill-opacity="0.054"/>
<rect x="94.5" y="165.11" width="3.1" height="1.00" fill="#4f8f3f" fill-opacity="0.086"/>
<rect x="117.9" y="165.11" width="1.8" height="1.00" fill="#4f8f3f" fill-opacity="0.066"/>
<rect x="94.8" y="165.11" width="5.8" height="1.00" fill="#4f8f3f" fill-opacity="0.087"/>
<rect x="112.81" y="165.11" width="1.98" height="1.00" fill="#2a7a2a" fill-opacity="0.146"/>
<rect x="110.65" y="165.11" width="6.29" height="1.00" fill="#4a9a4a" fill-opacity="0.054"/>
<rect x="109.5" y="166.10" width="2.1" height="1.00" fill="#4f8f3f" fill-opacity="0.067"/>
<rect x="109.9" y="166.10" width="7.4" height="1.00" fill="#4f8f3f" fill-opacity="0.097"/>
<rect x="107.3" y="166.10" width="1.6" height="1.00" fill="#4f8f3f" fill-opacity="0.064"/>
<rect x="118.7" y="166.10" width="6.6" height="1.00" fill="#4f8f3f" fill-opacity="0.049"/>
<rect x="112.81" y="166.10" width="1.99" height="1.00" fill="#2a7a2a" fill-opacity="0.187"/>
<rect x="110.61" y="166.10" width="6.38" height="1.00" fill="#4a9a4a" fill-opacity="0.055"/>
<rect x="123.5" y="167.10" width="5.4" height="1.00" fill="#4f8f3f" fill-opacity="0.084"/>
<rect x="129.3" y="167.10" width="6.4" height="1.00" fill="#4f8f3f" fill-opacity="0.055"/>
<rect x="120.1" y="167.10" width="2.4" height="1.00" fill="#4f8f3f" fill-opacity="0.033"/>
<rect x="112.80" y="167.10" width="2.00" height="1.00" fill="#2a7a2a" fill-opacity="0.286"/>
<rect x="111.01" y="167.10" width="5.59" height="1.00" fill="#4a9a4a" fill-opacity="0.056"/>
<rect x="125.3" y="168.10" width="7.7" height="1.00" fill="#4f8f3f" fill-opacity="0.092"/>
<rect x="99.1" y="168.10" width="4.5" height="1.00" fill="#4f8f3f" fill-opacity="0.077"/>
<rect x="112.79" y="168.10" width="2.01" height="1.00" fill="#2a7a2a" fill-opacity="0.195"/>
<rect x="109.75" y="168.10" width="8.11" height="1.00" fill="#4a9a4a" fill-opacity="0.057"/>
<rect x="127.2" y="169.09" width="7.1" height="1.00" fill="#4f8f3f" fill-opacity="0.051"/>
<rect x="108.9" y="169.09" width="2.8" height="1.00" fill="#4f8f3f" fill-opacity="0.032"/>
<rect x="105.4" y="169.09" width="2.2" height="1.00" fill="#4f8f3f" fill-opacity="0.066"/>
<rect x="112.79" y="169.09" width="2.02" height="1.00" fill="#2a7a2a" fill-opacity="0.219"/>
<rect x="110.39" y="169.09" width="6.82" height="1.00" fill="#4a9a4a" fill-opacity="0.058"/>
<rect x="107.2" y="170.09" width="8.9" height="1.00" fill="#4f8f3f" fill-opacity="0.098"/>
<rect x="114.9" y="170.09" width="1.9" height="1.00" fill="#4f8f3f" fill-opacity="0.055"/>
<rect x="119.6" y="170.09" width="6.8" height="1.00" fill="#4f8f3f" fill-opacity="0.046"/>
<rect x="112.78" y="170.09" width="2.04" height="1.00" fill="#2a7a2a" fill-opacity="0.184"/>
<rect x="108.48" y="170.09" width="10.64" height="1.00" fill="#4a9a4a" fill-opacity="0.059"/>
<rect x="123.4" y="171.09" width="9.0" height="1.00" fill="#4f8f3f" fill-opacity="0.105"/>
<rect x="112.78" y="171.09" width="2.05" height="1.00" fill="#2a7a2a" fill-opacity="0.221"/>
<rect x="110.46" y="171.09" width="6.68" height="1.00" fill="#4a9a4a" fill-opacity="0.060"/>
<rect x="101.2" y="172.08" width="3.9" height="1.00" fill="#4f8f3f" fill-opacity="0.036"/>
<rect x="112.77" y="172.08" width="2.06" height="1.00" fill="#2a7a2a" fill-opacity="0.314"/>
<rect x="108.56" y="172.08" width="10.47" height="1.00" fill="#4a9a4a" fill-opacity="0.061"/>
<rect x="128.9" y="173.08" width="6.2" height="1.00" fill="#4f8f3f" fill-opacity="0.096"/>
<rect x="111.7" y="173.08" width="7.6" height="1.00" fill="#4f8f3f" fill-opacity="0.045"/>
<rect x="122.4" y="173.08" width="4.0" height="1.00" fill="#4f8f3f" fill-opacity="0.047"/>
<rect x="94.9" y="173.08" width="6.6" height="1.00" fill="#4f8f3f" fill-opacity="0.073"/>
<rect x="112.76" y="173.08" width="2.07" height="1.00" fill="#2a7a2a" fill-opacity="0.287"/>
<rect x="108.17" y="173.08" width="11.26" height="1.00" fill="#4a9a4a" fill-opacity="0.062"/>
<rect x="102.8" y="174.08" width="2.8" height="1.00" fill="#4f8f3f" fill-opacity="0.082"/>
<rect x="112.76" y="174.08" width="2.08" height="1.00" fill="#2a7a2a" fill-opacity="0.239"/>
<rect x="108.09" y="174.08" width="11.43" height="1.00" fill="#4a9a4a" fill-opacity="0.063"/>
<rect x="101.3" y="175.08" width="8.7" height="1.00" fill="#4f8f3f" fill-opacity="0.105"/>
<rect x="119.0" y="175.08" width="2.6" height="1.00" fill="#4f8f3f" fill-opacity="0.076"/>
<rect x="115.8" y="175.08" width="5.9" height="1.00" fill="#4f8f3f" fill-opacity="0.047"/>
<rect x="106.7" y="175.08" width="2.7" height="1.00" fill="#4f8f3f" fill-opacity="0.041"/>
<rect x="112.75" y="175.08" width="2.10" height="1.00" fill="#2a7a2a" fill-opacity="0.331"/>
<rect x="109.20" y="175.08" width="9.20" height="1.00" fill="#4a9a4a" fill-opacity="0.064"/>
<rect x="94.7" y="176.07" width="5.2" height="1.00" fill="#4f8f3f" fill-opacity="0.106"/>
<rect x="109.3" y="176.07" width="7.9" height="1.00" fill="#4f8f3f" fill-opacity="0.055"/>
<rect x="112.75" y="176.07" width="2.11" height="1.00" fill="#2a7a2a" fill-opacity="0.218"/>
<rect x="110.55" y="176.07" width="6.49" height="1.00" fill="#4a9a4a" fill-opacity="0.065"/>
<rect x="114.1" y="177.07" width="5.8" height="1.00" fill="#4f8f3f" fill-opacity="0.037"/>
<rect x="109.7" y="177.07" width="5.4" height="1.00" fill="#4f8f3f" fill-opacity="0.112"/>
<rect x="124.6" y="177.07" width="5.7" height="1.00" fill="#4f8f3f" fill-opacity="0.089"/>
<rect x="112.74" y="177.07" width="2.12" height="1.00" fill="#2a7a2a" fill-opacity="0.309"/>
<rect x="110.98" y="177.07" width="5.65" height="1.00" fill="#4a9a4a" fill-opacity="0.066"/>
<rect x="95.2" y="178.07" width="3.7" height="1.00" fill="#4f8f3f" fill-opacity="0.052"/>
<rect x="112.73" y="178.07" width="2.13" height="1.00" fill="#2a7a2a" fill-opacity="0.283"/>
<rect x="107.99" y="178.07" width="11.62" height="1.00" fill="#4a9a4a" fill-opacity="0.067"/>
<rect x="123.4" y="179.06" width="2.0" height="1.00" fill="#4f8f3f" fill-opacity="0.049"/>
<rect x="112.73" y="179.06" width="2.15" height="1.00" fill="#2a7a2a" fill-opacity="0.286"/>
<rect x="108.18" y="179.06" width="11.25" height="1.00" fill="#4a9a4a" fill-opacity="0.068"/>
<rect x="116.5" y="180.06" width="3.5" height="1.00" fill="#4f8f3f" fill-opacity="0.096"/>
<rect x="112.72" y="180.06" width="2.16" height="1.00" fill="#2a7a2a" fill-opacity="0.254"/>
<rect x="108.72" y="180.06" width="10.16" height="1.00" fill="#4a9a4a" fill-opacity="0.069"/>
<rect x="113.3" y="181.06" width="2.2" height="1.00" fill="#4f8f3f" fill-opacity="0.096"/>
<rect x="125.3" y="181.06" width="4.3" height="1.00" fill="#4f8f3f" fill-opacity="0.060"/>
<rect x="112.72" y="181.06" width="2.17" height="1.00" fill="#2a7a2a" fill-opacity="0.296"/>
<rect x="110.52" y="181.06" width="6.56" height="1.00" fill="#4a9a4a" fill-opacity="0.070"/>
<rect x="103.3" y="182.05" width="7.3" height="1.00" fill="#4f8f3f" fill-opacity="0.078"/>
<rect x="89.0" y="182.05" width="1.6" height="1.00" fill="#4f8f3f" fill-opacity="0.056"/>
<rect x="120.4" y="182.05" width="8.0" height="1.00" fill="#4f8f3f" fill-opacity="0.116"/>
<rect x="112.71" y="182.05" width="2.18" height="1.00" fill="#2a7a2a" fill-opacity="0.308"/>
<rect x="108.46" y="182.05" width="10.68" height="1.00" fill="#4a9a4a" fill-opacity="0.072"/>
<rect x="92.9" y="183.05" width="8.2" height="1.00" fill="#4f8f3f" fill-opacity="0.051"/>
<rect x="101.1" y="183.05" width="3.8" height="1.00" fill="#4f8f3f" fill-opacity="0.063"/>
<rect x="90.8" y="183.05" width="8.1" height="1.00" fill="#4f8f3f" fill-opacity="0.065"/>
<rect x="93.0" y="183.05" width="6.9" height="1.00" fill="#4f8f3f" fill-opacity="0.052"/>
<rect x="112.70" y="183.05" width="2.19" height="1.00" fill="#2a7a2a" fill-opacity="0.281"/>
<rect x="110.59" y="183.05" width="6.42" height="1.00" fill="#4a9a4a" fill-opacity="0.073"/>
<rect x="105.6" y="184.05" width="3.6" height="1.00" fill="#4f8f3f" fill-opacity="0.044"/>
<rect x="123.1" y="184.05" width="4.0" height="1.00" fill="#4f8f3f" fill-opacity="0.059"/>
<rect x="112.70" y="184.05" width="2.21" height="1.00" fill="#2a7a2a" fill-opacity="0.298"/>
<rect x="109.32" y="184.05" width="8.95" height="1.00" fill="#4a9a4a" fill-opacity="0.074"/>
<rect x="122.2" y="185.05" width="8.9" height="1.00" fill="#4f8f3f" fill-opacity="0.111"/>
<rect x="99.2" y="185.05" width="2.3" height="1.00" fill="#4f8f3f" fill-opacity="0.126"/>
<rect x="112.69" y="185.05" width="2.22" height="1.00" fill="#2a7a2a" fill-opacity="0.375"/>
<rect x="108.17" y="185.05" width="11.26" height="1.00" fill="#4a9a4a" fill-opacity="0.075"/>
<rect x="94.7" y="186.04" width="2.8" height="1.00" fill="#4f8f3f" fill-opacity="0.078"/>
<rect x="126.1" y="186.04" width="8.4" height="1.00" fill="#4f8f3f" fill-opacity="0.089"/>
<rect x="112.68" y="186.04" width="2.23" height="1.00" fill="#2a7a2a" fill-opacity="0.405"/>
<rect x="110.04" y="186.04" width="7.52" height="1.00" fill="#4a9a4a" fill-opacity="0.077"/>
<rect x="104.4" y="187.04" width="2.3" height="1.00" fill="#4f8f3f" fill-opacity="0.106"/>
<rect x="113.5" y="187.04" width="1.9" height="1.00" fill="#4f8f3f" fill-opacity="0.086"/>
<rect x="112.68" y="187.04" width="2.24" height="1.00" fill="#2a7a2a" fill-opacity="0.330"/>
<rect x="109.52" y="187.04" width="8.56" height="1.00" fill="#4a9a4a" fill-opacity="0.078"/>
<rect x="96.4" y="188.04" width="4.7" height="1.00" fill="#4f8f3f" fill-opacity="0.078"/>
<rect x="112.67" y="188.04" width="2.25" height="1.00" fill="#2a7a2a" fill-opacity="0.316"/>
<rect x="107.46" y="188.04" width="12.67" height="1.00" fill="#4a9a4a" fill-opacity="0.079"/>
<rect x="88.6" y="189.03" width="2.3" height="1.00" fill="#4f8f3f" fill-opacity="0.123"/>
<rect x="112.67" y="189.03" width="2.27" height="1.00" fill="#2a7a2a" fill-opacity="0.381"/>
<rect x="108.21" y="189.03" width="11.19" height="1.00" fill="#4a9a4a" fill-opacity="0.081"/>
<rect x="115.7" y="190.03" width="6.4" height="1.00" fill="#4f8f3f" fill-opacity="0.086"/>
<rect x="115.7" y="190.03" width="5.6" height="1.00" fill="#4f8f3f" fill-opacity="0.079"/>
<rect x="116.1" y="190.03" width="8.6" height="1.00" fill="#4f8f3f" fill-opacity="0.113"/>
<rect x="108.7" y="190.03" width="5.4" height="1.00" fill="#4f8f3f" fill-opacity="0.109"/>
<rect x="112.66" y="190.03" width="2.28" height="1.00" fill="#2a7a2a" fill-opacity="0.335"/>
<rect x="110.01" y="190.03" width="7.58" height="1.00" fill="#4a9a4a" fill-opacity="0.082"/>
<rect x="89.6" y="191.03" width="5.2" height="1.00" fill="#4f8f3f" fill-opacity="0.118"/>
<rect x="129.4" y="191.03" width="8.9" height="1.00" fill="#4f8f3f" fill-opacity="0.107"/>
<rect x="112.65" y="191.03" width="2.29" height="1.00" fill="#2a7a2a" fill-opacity="0.427"/>
<rect x="109.90" y="191.03" width="7.80" height="1.00" fill="#4a9a4a" fill-opacity="0.084"/>
<rect x="114.3" y="192.02" width="3.9" height="1.00" fill="#4f8f3f" fill-opacity="0.058"/>
<rect x="103.0" y="192.02" width="8.6" height="1.00" fill="#4f8f3f" fill-opacity="0.093"/>
<rect x="100.2" y="192.02" width="6.1" height="1.00" fill="#4f8f3f" fill-opacity="0.134"/>
<rect x="112.65" y="192.02" width="2.30" height="1.00" fill="#2a7a2a" fill-opacity="0.402"/>
<rect x="109.39" y="192.02" width="8.81" height="1.00" fill="#4a9a4a" fill-opacity="0.085"/>
<rect x="110.0" y="193.02" width="6.4" height="1.00" fill="#4f8f3f" fill-opacity="0.110"/>
<rect x="95.9" y="193.02" width="5.5" height="1.00" fill="#4f8f3f" fill-opacity="0.095"/>
<rect x="96.7" y="193.02" width="8.2" height="1.00" fill="#4f8f3f" fill-opacity="0.048"/>
<rect x="112.64" y="193.02" width="2.32" height="1.00" fill="#2a7a2a" fill-opacity="0.480"/>
<rect x="109.97" y="193.02" width="7.66" height="1.00" fill="#4a9a4a" fill-opacity="0.087"/>
<rect x="124.9" y="194.02" width="8.5" height="1.00" fill="#4f8f3f" fill-opacity="0.047"/>
<rect x="105.8" y="194.02" width="4.5" height="1.00" fill="#4f8f3f" fill-opacity="0.069"/>
<rect x="114.4" y="194.02" width="4.3" height="1.00" fill="#4f8f3f" fill-opacity="0.061"/>
<rect x="109.4" y="194.02" width="6.9" height="1.00" fill="#4f8f3f" fill-opacity="0.102"/>
<rect x="112.64" y="194.02" width="2.33" height="1.00" fill="#2a7a2a" fill-opacity="0.487"/>
<rect x="106.58" y="194.02" width="14.45" height="1.00" fill="#4a9a4a" fill-opacity="0.088"/>
<rect x="117.9" y="195.02" width="5.6" height="1.00" fill="#4f8f3f" fill-opacity="0.052"/>
<rect x="116.1" y="195.02" width="7.2" height="1.00" fill="#4f8f3f" fill-opacity="0.080"/>
<rect x="112.63" y="195.02" width="2.34" height="1.00" fill="#2a7a2a" fill-opacity="0.392"/>
<rect x="108.85" y="195.02" width="9.89" height="1.00" fill="#4a9a4a" fill-opacity="0.090"/>
<rect x="108.9" y="196.01" width="6.6" height="1.00" fill="#4f8f3f" fill-opacity="0.058"/>
<rect x="109.5" y="196.01" width="6.6" height="1.00" fill="#4f8f3f" fill-opacity="0.125"/>
<rect x="116.1" y="196.01" width="6.1" height="1.00" fill="#4f8f3f" fill-opacity="0.056"/>
<rect x="129.5" y="196.01" width="1.7" height="1.00" fill="#4f8f3f" fill-opacity="0.137"/>
<rect x="112.62" y="196.01" width="2.35" height="1.00" fill="#2a7a2a" fill-opacity="0.424"/>
<rect x="109.42" y="196.01" width="8.77" height="1.00" fill="#4a9a4a" fill-opacity="0.091"/>
<rect x="136.7" y="197.01" width="1.7" height="1.00" fill="#4f8f3f" fill-opacity="0.092"/>
<rect x="112.62" y="197.01" width="2.36" height="1.00" fill="#2a7a2a" fill-opacity="0.493"/>
<rect x="109.90" y="197.01" width="7.79" height="1.00" fill="#4a9a4a" fill-opacity="0.093"/>
<rect x="103.3" y="198.01" width="6.2" height="1.00" fill="#4f8f3f" fill-opacity="0.131"/>
<rect x="112.61" y="198.01" width="2.38" height="1.00" fill="#2a7a2a" fill-opacity="0.493"/>
<rect x="109.54" y="198.01" width="8.52" height="1.00" fill="#4a9a4a" fill-opacity="0.095"/>
<rect x="88.6" y="199.00" width="2.3" height="1.00" fill="#4f8f3f" fill-opacity="0.092"/>
<rect x="99.6" y="199.00" width="4.5" height="1.00" fill="#4f8f3f" fill-opacity="0.139"/>
<rect x="108.2" y="199.00" width="7.2" height="1.00" fill="#4f8f3f" fill-opacity="0.115"/>
<rect x="106.6" y="199.00" width="4.5" height="1.00" fill="#4f8f3f" fill-opacity="0.076"/>
<rect x="112.61" y="199.00" width="2.39" height="1.00" fill="#2a7a2a" fill-opacity="0.519"/>
<rect x="106.14" y="199.00" width="15.33" height="1.00" fill="#4a9a4a" fill-opacity="0.096"/>
<rect x="115.8" y="200.00" width="2.0" height="1.00" fill="#4f8f3f" fill-opacity="0.065"/>
<rect x="120.0" y="200.00" width="8.5" height="1.00" fill="#4f8f3f" fill-opacity="0.118"/>
<rect x="112.60" y="200.00" width="2.40" height="1.00" fill="#2a7a2a" fill-opacity="0.546"/>
<rect x="109.79" y="200.00" width="8.01" height="1.00" fill="#4a9a4a" fill-opacity="0.098"/>
<rect x="99.1" y="201.00" width="6.3" height="1.00" fill="#4f8f3f" fill-opacity="0.080"/>
<rect x="128.4" y="201.00" width="6.6" height="1.00" fill="#4f8f3f" fill-opacity="0.136"/>
<rect x="130.5" y="201.00" width="3.5" height="1.00" fill="#4f8f3f" fill-opacity="0.076"/>
<rect x="100.6" y="201.00" width="2.5" height="1.00" fill="#4f8f3f" fill-opacity="0.061"/>
<rect x="112.59" y="201.00" width="2.41" height="1.00" fill="#2a7a2a" fill-opacity="0.564"/>
<rect x="106.67" y="201.00" width="14.25" height="1.00" fill="#4a9a4a" fill-opacity="0.100"/>
<rect x="99.0" y="201.99" width="6.0" height="1.00" fill="#4f8f3f" fill-opacity="0.081"/>
<rect x="121.2" y="201.99" width="6.8" height="1.00" fill="#4f8f3f" fill-opacity="0.095"/>
<rect x="112.59" y="201.99" width="2.42" height="1.00" fill="#2a7a2a" fill-opacity="0.592"/>
<rect x="109.38" y="201.99" width="8.84" height="1.00" fill="#4a9a4a" fill-opacity="0.101"/>
<rect x="116.6" y="202.99" width="7.6" height="1.00" fill="#4f8f3f" fill-opacity="0.126"/>
<rect x="95.8" y="202.99" width="7.6" height="1.00" fill="#4f8f3f" fill-opacity="0.093"/>
<rect x="108.0" y="202.99" width="5.8" height="1.00" fill="#4f8f3f" fill-opacity="0.081"/>
<rect x="99.7" y="202.99" width="6.1" height="1.00" fill="#4f8f3f" fill-opacity="0.103"/>
<rect x="112.58" y="202.99" width="2.44" height="1.00" fill="#2a7a2a" fill-opacity="0.529"/>
<rect x="109.34" y="202.99" width="8.93" height="1.00" fill="#4a9a4a" fill-opacity="0.103"/>
<rect x="136.9" y="203.99" width="1.5" height="1.00" fill="#4f8f3f" fill-opacity="0.061"/>
<rect x="125.2" y="203.99" width="4.2" height="1.00" fill="#4f8f3f" fill-opacity="0.064"/>
<rect x="117.6" y="203.99" width="3.9" height="1.00" fill="#4f8f3f" fill-opacity="0.057"/>
<rect x="112.58" y="203.99" width="2.45" height="1.00" fill="#2a7a2a" fill-opacity="0.556"/>
<rect x="109.10" y="203.99" width="9.41" height="1.00" fill="#4a9a4a" fill-opacity="0.105"/>
<rect x="101.6" y="204.98" width="4.6" height="1.00" fill="#4f8f3f" fill-opacity="0.057"/>
<rect x="88.6" y="204.98" width="8.7" height="1.00" fill="#4f8f3f" fill-opacity="0.076"/>
<rect x="98.7" y="204.98" width="4.3" height="1.00" fill="#4f8f3f" fill-opacity="0.078"/>
<rect x="112.57" y="204.98" width="2.46" height="1.00" fill="#2a7a2a" fill-opacity="0.550"/>
<rect x="107.32" y="204.98" width="12.96" height="1.00" fill="#4a9a4a" fill-opacity="0.107"/>
<rect x="89.9" y="205.98" width="2.1" height="1.00" fill="#4f8f3f" fill-opacity="0.097"/>
<rect x="97.0" y="205.98" width="1.7" height="1.00" fill="#4f8f3f" fill-opacity="0.105"/>
<rect x="112.56" y="205.98" width="2.47" height="1.00" fill="#2a7a2a" fill-opacity="0.566"/>
<rect x="106.12" y="205.98" width="15.37" height="1.00" fill="#4a9a4a" fill-opacity="0.109"/>
<rect x="110.6" y="206.98" width="3.8" height="1.00" fill="#4f8f3f" fill-opacity="0.152"/>
<rect x="122.6" y="206.98" width="4.5" height="1.00" fill="#4f8f3f" fill-opacity="0.141"/>
<rect x="118.5" y="206.98" width="8.7" height="1.00" fill="#4f8f3f" fill-opacity="0.062"/>
<rect x="130.9" y="206.98" width="4.5" height="1.00" fill="#4f8f3f" fill-opacity="0.087"/>
<rect x="112.56" y="206.98" width="2.48" height="1.00" fill="#2a7a2a" fill-opacity="0.517"/>
<rect x="105.92" y="206.98" width="15.77" height="1.00" fill="#4a9a4a" fill-opacity="0.111"/>
<rect x="107.8" y="207.98" width="3.2" height="1.00" fill="#4f8f3f" fill-opacity="0.107"/>
<rect x="90.4" y="207.98" width="5.1" height="1.00" fill="#4f8f3f" fill-opacity="0.118"/>
<rect x="112.55" y="207.98" width="2.50" height="1.00" fill="#2a7a2a" fill-opacity="0.557"/>
<rect x="107.40" y="207.98" width="12.79" height="1.00" fill="#4a9a4a" fill-opacity="0.112"/>
<rect x="124.5" y="208.97" width="1.7" height="1.00" fill="#4f8f3f" fill-opacity="0.162"/>
<rect x="118.8" y="208.97" width="5.8" height="1.00" fill="#4f8f3f" fill-opacity="0.108"/>
<rect x="97.7" y="208.97" width="1.7" height="1.00" fill="#4f8f3f" fill-opacity="0.089"/>
<rect x="112.55" y="208.97" width="2.51" height="1.00" fill="#2a7a2a" fill-opacity="0.629"/>
<rect x="107.78" y="208.97" width="12.04" height="1.00" fill="#4a9a4a" fill-opacity="0.114"/>
<rect x="107.2" y="209.97" width="4.8" height="1.00" fill="#4f8f3f" fill-opacity="0.151"/>
<rect x="112.54" y="209.97" width="2.52" height="1.00" fill="#2a7a2a" fill-opacity="0.586"/>
<rect x="109.14" y="209.97" width="9.33" height="1.00" fill="#4a9a4a" fill-opacity="0.116"/>
<rect x="115.9" y="210.97" width="4.4" height="1.00" fill="#4f8f3f" fill-opacity="0.158"/>
<rect x="112.53" y="210.97" width="2.53" height="1.00" fill="#2a7a2a" fill-opacity="0.702"/>
<rect x="105.61" y="210.97" width="16.38" height="1.00" fill="#4a9a4a" fill-opacity="0.118"/>
<rect x="91.8" y="211.96" width="6.4" height="1.00" fill="#4f8f3f" fill-opacity="0.111"/>
<rect x="101.3" y="211.96" width="3.5" height="1.00" fill="#4f8f3f" fill-opacity="0.086"/>
<rect x="103.3" y="211.96" width="1.6" height="1.00" fill="#4f8f3f" fill-opacity="0.056"/>
<rect x="112.53" y="211.96" width="2.55" height="1.00" fill="#2a7a2a" fill-opacity="0.651"/>
<rect x="109.44" y="211.96" width="8.72" height="1.00" fill="#4a9a4a" fill-opacity="0.120"/>
<rect x="89.6" y="212.96" width="4.6" height="1.00" fill="#4f8f3f" fill-opacity="0.136"/>
<rect x="95.2" y="212.96" width="5.3" height="1.00" fill="#4f8f3f" fill-opacity="0.081"/>
<rect x="88.6" y="212.96" width="6.2" height="1.00" fill="#4f8f3f" fill-opacity="0.146"/>
<rect x="112.52" y="212.96" width="2.56" height="1.00" fill="#2a7a2a" fill-opacity="0.661"/>
<rect x="107.72" y="212.96" width="12.17" height="1.00" fill="#4a9a4a" fill-opacity="0.122"/>
<rect x="103.7" y="213.96" width="1.9" height="1.00" fill="#4f8f3f" fill-opacity="0.144"/>
<rect x="130.2" y="213.96" width="6.6" height="1.00" fill="#4f8f3f" fill-opacity="0.056"/>
<rect x="112.52" y="213.96" width="2.57" height="1.00" fill="#2a7a2a" fill-opacity="0.698"/>
<rect x="107.13" y="213.96" width="13.34" height="1.00" fill="#4a9a4a" fill-opacity="0.124"/>
<rect x="89.1" y="214.95" width="5.7" height="1.00" fill="#4f8f3f" fill-opacity="0.133"/>
<rect x="119.4" y="214.95" width="3.7" height="1.00" fill="#4f8f3f" fill-opacity="0.132"/>
<rect x="91.0" y="214.95" width="3.7" height="1.00" fill="#4f8f3f" fill-opacity="0.062"/>
<rect x="112.51" y="214.95" width="2.58" height="1.00" fill="#2a7a2a" fill-opacity="0.735"/>
<rect x="108.32" y="214.95" width="10.96" height="1.00" fill="#4a9a4a" fill-opacity="0.126"/>
<rect x="127.2" y="215.95" width="6.8" height="1.00" fill="#4f8f3f" fill-opacity="0.053"/>
<rect x="117.6" y="215.95" width="1.8" height="1.00" fill="#4f8f3f" fill-opacity="0.114"/>
<rect x="88.7" y="215.95" width="5.6" height="1.00" fill="#4f8f3f" fill-opacity="0.131"/>
<rect x="112.50" y="215.95" width="2.59" height="1.00" fill="#2a7a2a" fill-opacity="0.659"/>
<rect x="106.82" y="215.95" width="13.95" height="1.00" fill="#4a9a4a" fill-opacity="0.128"/>
<rect x="133.1" y="216.95" width="5.3" height="1.00" fill="#4f8f3f" fill-opacity="0.099"/>
<rect x="136.9" y="216.95" width="1.5" height="1.00" fill="#4f8f3f" fill-opacity="0.161"/>
<rect x="112.50" y="216.95" width="2.61" height="1.00" fill="#2a7a2a" fill-opacity="0.747"/>
<rect x="108.43" y="216.95" width="10.73" height="1.00" fill="#4a9a4a" fill-opacity="0.131"/>
<rect x="121.0" y="217.95" width="3.2" height="1.00" fill="#4f8f3f" fill-opacity="0.151"/>
<rect x="115.0" y="217.95" width="4.5" height="1.00" fill="#4f8f3f" fill-opacity="0.159"/>
<rect x="110.3" y="217.95" width="5.7" height="1.00" fill="#4f8f3f" fill-opacity="0.146"/>
<rect x="112.49" y="217.95" width="2.62" height="1.00" fill="#2a7a2a" fill-opacity="0.733"/>
<rect x="106.22" y="217.95" width="15.16" height="1.00" fill="#4a9a4a" fill-opacity="0.133"/>
<rect x="120.0" y="218.94" width="4.1" height="1.00" fill="#4f8f3f" fill-opacity="0.124"/>
<rect x="104.9" y="218.94" width="5.5" height="1.00" fill="#4f8f3f" fill-opacity="0.066"/>
<rect x="112.48" y="218.94" width="2.63" height="1.00" fill="#2a7a2a" fill-opacity="0.769"/>
<rect x="104.60" y="218.94" width="18.40" height="1.00" fill="#4a9a4a" fill-opacity="0.135"/>
<rect x="100.4" y="219.94" width="5.2" height="1.00" fill="#4f8f3f" fill-opacity="0.153"/>
<rect x="110.7" y="219.94" width="8.8" height="1.00" fill="#4f8f3f" fill-opacity="0.088"/>
<rect x="112.48" y="219.94" width="2.64" height="1.00" fill="#2a7a2a" fill-opacity="0.704"/>
<rect x="104.77" y="219.94" width="18.06" height="1.00" fill="#4a9a4a" fill-opacity="0.137"/>
<rect x="97.3" y="220.94" width="5.6" height="1.00" fill="#4f8f3f" fill-opacity="0.099"/>
<rect x="98.1" y="220.94" width="4.2" height="1.00" fill="#4f8f3f" fill-opacity="0.080"/>
<rect x="112.47" y="220.94" width="2.65" height="1.00" fill="#2a7a2a" fill-opacity="0.833"/>
<rect x="105.27" y="220.94" width="17.05" height="1.00" fill="#4a9a4a" fill-opacity="0.139"/>
<rect x="122.7" y="221.93" width="6.7" height="1.00" fill="#4f8f3f" fill-opacity="0.079"/>
<rect x="133.3" y="221.93" width="5.1" height="1.00" fill="#4f8f3f" fill-opacity="0.069"/>
<rect x="112.47" y="221.93" width="2.67" height="1.00" fill="#2a7a2a" fill-opacity="0.735"/>
<rect x="105.25" y="221.93" width="17.10" height="1.00" fill="#4a9a4a" fill-opacity="0.142"/>
<rect x="114.9" y="222.93" width="4.1" height="1.00" fill="#4f8f3f" fill-opacity="0.164"/>
<rect x="108.4" y="222.93" width="7.0" height="1.00" fill="#4f8f3f" fill-opacity="0.099"/>
<rect x="105.0" y="222.93" width="6.1" height="1.00" fill="#4f8f3f" fill-opacity="0.165"/>
<rect x="112.46" y="222.93" width="2.68" height="1.00" fill="#2a7a2a" fill-opacity="0.868"/>
<rect x="106.15" y="222.93" width="15.31" height="1.00" fill="#4a9a4a" fill-opacity="0.144"/>
<rect x="132.6" y="223.93" width="4.8" height="1.00" fill="#4f8f3f" fill-opacity="0.070"/>
<rect x="130.1" y="223.93" width="7.4" height="1.00" fill="#4f8f3f" fill-opacity="0.179"/>
<rect x="112.45" y="223.93" width="2.69" height="1.00" fill="#2a7a2a" fill-opacity="0.883"/>
<rect x="106.31" y="223.93" width="14.98" height="1.00" fill="#4a9a4a" fill-opacity="0.146"/>
<rect x="88.6" y="224.92" width="1.6" height="1.00" fill="#4f8f3f" fill-opacity="0.060"/>
<rect x="91.0" y="224.92" width="8.6" height="1.00" fill="#4f8f3f" fill-opacity="0.083"/>
<rect x="112.45" y="224.92" width="2.70" height="1.00" fill="#2a7a2a" fill-opacity="0.874"/>
<rect x="107.18" y="224.92" width="13.24" height="1.00" fill="#4a9a4a" fill-opacity="0.148"/>
<rect x="119.4" y="225.92" width="2.1" height="1.00" fill="#4f8f3f" fill-opacity="0.132"/>
<rect x="121.9" y="225.92" width="3.8" height="1.00" fill="#4f8f3f" fill-opacity="0.133"/>
<rect x="124.9" y="225.92" width="5.2" height="1.00" fill="#4f8f3f" fill-opacity="0.108"/>
<rect x="116.3" y="225.92" width="5.3" height="1.00" fill="#4f8f3f" fill-opacity="0.094"/>
<rect x="112.44" y="225.92" width="2.72" height="1.00" fill="#2a7a2a" fill-opacity="0.807"/>
<rect x="108.34" y="225.92" width="10.92" height="1.00" fill="#4a9a4a" fill-opacity="0.151"/>
<rect x="110.4" y="226.92" width="8.0" height="1.00" fill="#4f8f3f" fill-opacity="0.123"/>
<rect x="135.8" y="226.92" width="2.6" height="1.00" fill="#4f8f3f" fill-opacity="0.144"/>
<rect x="132.5" y="226.92" width="5.4" height="1.00" fill="#4f8f3f" fill-opacity="0.091"/>
<rect x="112.44" y="226.92" width="2.73" height="1.00" fill="#2a7a2a" fill-opacity="0.900"/>
<rect x="104.24" y="226.92" width="19.11" height="1.00" fill="#4a9a4a" fill-opacity="0.153"/>
<rect x="124.6" y="227.92" width="2.7" height="1.00" fill="#4f8f3f" fill-opacity="0.074"/>
<rect x="118.4" y="227.92" width="2.2" height="1.00" fill="#4f8f3f" fill-opacity="0.084"/>
<rect x="112.43" y="227.92" width="2.74" height="1.00" fill="#2a7a2a" fill-opacity="0.889"/>
<rect x="107.14" y="227.92" width="13.32" height="1.00" fill="#4a9a4a" fill-opacity="0.156"/>
<rect x="123.0" y="228.91" width="9.0" height="1.00" fill="#4f8f3f" fill-opacity="0.103"/>
<rect x="112.42" y="228.91" width="2.75" height="1.00" fill="#2a7a2a" fill-opacity="0.833"/>
<rect x="108.77" y="228.91" width="10.07" height="1.00" fill="#4a9a4a" fill-opacity="0.158"/>
<rect x="114.2" y="229.91" width="2.7" height="1.00" fill="#4f8f3f" fill-opacity="0.194"/>
<rect x="120.5" y="229.91" width="3.2" height="1.00" fill="#4f8f3f" fill-opacity="0.119"/>
<rect x="112.42" y="229.91" width="2.76" height="1.00" fill="#2a7a2a" fill-opacity="0.920"/>
<rect x="105.57" y="229.91" width="16.46" height="1.00" fill="#4a9a4a" fill-opacity="0.160"/>
<rect x="94.7" y="230.91" width="6.3" height="1.00" fill="#4f8f3f" fill-opacity="0.134"/>
<rect x="120.8" y="230.91" width="6.7" height="1.00" fill="#4f8f3f" fill-opacity="0.186"/>
<rect x="133.1" y="230.91" width="5.2" height="1.00" fill="#4f8f3f" fill-opacity="0.133"/>
<rect x="112.41" y="230.91" width="2.78" height="1.00" fill="#2a7a2a" fill-opacity="0.920"/>
<rect x="103.56" y="230.91" width="20.48" height="1.00" fill="#4a9a4a" fill-opacity="0.163"/>
<rect x="101.0" y="231.90" width="5.0" height="1.00" fill="#4f8f3f" fill-opacity="0.102"/>
<rect x="112.41" y="231.90" width="2.79" height="1.00" fill="#2a7a2a" fill-opacity="0.895"/>
<rect x="107.42" y="231.90" width="12.76" height="1.00" fill="#4a9a4a" fill-opacity="0.165"/>
<rect x="88.60" y="134.20" width="49.80" height="2.2" fill="#6cbf6c" fill-opacity="0.28"/>
<rect x="110.80" y="134.20" width="6" height="2.5" fill="#3a8a3a" fill-opacity="0.2"/>
<rect x="88.60" y="134.20" width="49.80" height="98.70" fill="none" stroke="#3a3a3a" stroke-width="1.1" />
<polygon points="32.5,134.4 32.7,232.6 26.9,232.6" fill="#000"/>
<text x="15.00" y="180.80" font-size="9.4" text-anchor="middle" stroke="#231f20" stroke-width="0.1" textLength="84.50" lengthAdjust="spacingAndGlyphs" transform="rotate(-90 15.00 180.80)" >Difference in ZFP91 reads</text>
<text x="25.20" y="178.40" font-size="9.4" text-anchor="middle" stroke="#231f20" stroke-width="0.1" textLength="70.00" lengthAdjust="spacingAndGlyphs" transform="rotate(-90 25.20 178.40)" >(Len-RGs - parental)</text>
<rect x="140.90" y="134.70" width="1.70" height="8.20" fill="#3e7cb8" />
<rect x="140.90" y="145.50" width="1.70" height="30.20" fill="#4a4a4a" />
<rect x="140.90" y="178.30" width="1.70" height="54.30" fill="#d6405a" />
<text x="144.60" y="141.10" font-size="8.4" stroke="#231f20" stroke-width="0.1" textLength="28.40" lengthAdjust="spacingAndGlyphs" >Parental</text>
<text x="147.00" y="150.60" font-size="8.4" stroke="#231f20" stroke-width="0.1" textLength="22.50" lengthAdjust="spacingAndGlyphs" >N=122</text>
<text x="144.60" y="162.20" font-size="8.4" stroke="#231f20" stroke-width="0.1" textLength="32.60" lengthAdjust="spacingAndGlyphs" >Common</text>
<text x="147.00" y="171.40" font-size="8.4" stroke="#231f20" stroke-width="0.1" textLength="23.00" lengthAdjust="spacingAndGlyphs" >N=529</text>
<text x="144.00" y="207.60" font-size="8.4" stroke="#231f20" stroke-width="0.1" textLength="30.20" lengthAdjust="spacingAndGlyphs" >Len-RGs</text>
<text x="147.30" y="216.80" font-size="8.4" stroke="#231f20" stroke-width="0.1" textLength="23.50" lengthAdjust="spacingAndGlyphs" >N=768</text>
<text x="14.70" y="243.30" font-size="8.4" stroke="#231f20" stroke-width="0.1" textLength="96.10" lengthAdjust="spacingAndGlyphs" >ZFP91 peak center +/– 2kb</text>
<defs><linearGradient id="cb" x1="0" x2="1" y1="0" y2="0"><stop offset="0" stop-color="#ffffff"/><stop offset="1" stop-color="#1f6b2a"/></linearGradient></defs>
<rect x="113.00" y="237.70" width="25.70" height="3.80" fill="url(#cb)" stroke="#9a9a9a" stroke-width="0.4" />
<text x="115.60" y="249.70" font-size="8.2" text-anchor="middle" stroke="#231f20" stroke-width="0.1" >0</text>
<text x="136.00" y="249.70" font-size="8.2" text-anchor="middle" stroke="#231f20" stroke-width="0.1" textLength="8.00" lengthAdjust="spacingAndGlyphs" >50</text>
<text x="220.70" y="134.60" font-size="9.2" stroke="#231f20" stroke-width="0.1" textLength="112.30" lengthAdjust="spacingAndGlyphs" >Peaks enriched in Len-RGs</text>
<line x1="216.90" y1="136.30" x2="216.90" y2="216.30" stroke="#231f20" stroke-width="1.2" />
<line x1="216.30" y1="215.80" x2="336.20" y2="215.80" stroke="#231f20" stroke-width="1.2" />
<line x1="213.00" y1="215.60" x2="216.90" y2="215.60" stroke="#231f20" stroke-width="1" />
<text x="212.00" y="218.50" font-size="8.2" text-anchor="end" stroke="#231f20" stroke-width="0.1" >0</text>
<line x1="213.00" y1="196.80" x2="216.90" y2="196.80" stroke="#231f20" stroke-width="1" />
<text x="212.00" y="199.70" font-size="8.2" text-anchor="end" stroke="#231f20" stroke-width="0.1" textLength="8.40" lengthAdjust="spacingAndGlyphs" >25</text>
<line x1="213.00" y1="178.00" x2="216.90" y2="178.00" stroke="#231f20" stroke-width="1" />
<text x="212.00" y="180.90" font-size="8.2" text-anchor="end" stroke="#231f20" stroke-width="0.1" textLength="8.40" lengthAdjust="spacingAndGlyphs" >50</text>
<line x1="213.00" y1="159.20" x2="216.90" y2="159.20" stroke="#231f20" stroke-width="1" />
<text x="212.00" y="162.10" font-size="8.2" text-anchor="end" stroke="#231f20" stroke-width="0.1" textLength="8.40" lengthAdjust="spacingAndGlyphs" >75</text>
<line x1="213.00" y1="140.40" x2="216.90" y2="140.40" stroke="#231f20" stroke-width="1" />
<text x="212.00" y="143.30" font-size="8.2" text-anchor="end" stroke="#231f20" stroke-width="0.1" textLength="12.60" lengthAdjust="spacingAndGlyphs" >100</text>
<line x1="217.10" y1="215.80" x2="217.10" y2="219.00" stroke="#231f20" stroke-width="1" />
<text x="216.80" y="228.90" font-size="7.9" text-anchor="middle" stroke="#231f20" stroke-width="0.1" textLength="21.60" lengthAdjust="spacingAndGlyphs" >−1000</text>
<line x1="245.55" y1="215.80" x2="245.55" y2="219.00" stroke="#231f20" stroke-width="1" />
<text x="245.25" y="228.90" font-size="7.9" text-anchor="middle" stroke="#231f20" stroke-width="0.1" textLength="17.70" lengthAdjust="spacingAndGlyphs" >−500</text>
<line x1="274.00" y1="215.80" x2="274.00" y2="219.00" stroke="#231f20" stroke-width="1" />
<text x="273.70" y="228.90" font-size="7.9" text-anchor="middle" stroke="#231f20" stroke-width="0.1" textLength="4.40" lengthAdjust="spacingAndGlyphs" >0</text>
<line x1="302.45" y1="215.80" x2="302.45" y2="219.00" stroke="#231f20" stroke-width="1" />
<text x="302.15" y="228.90" font-size="7.9" text-anchor="middle" stroke="#231f20" stroke-width="0.1" textLength="13.00" lengthAdjust="spacingAndGlyphs" >500</text>
<line x1="330.90" y1="215.80" x2="330.90" y2="219.00" stroke="#231f20" stroke-width="1" />
<text x="330.60" y="228.90" font-size="7.9" text-anchor="middle" stroke="#231f20" stroke-width="0.1" textLength="16.80" lengthAdjust="spacingAndGlyphs" >1000</text>
<text x="225.30" y="240.60" font-size="8.6" stroke="#231f20" stroke-width="0.1" textLength="101.30" lengthAdjust="spacingAndGlyphs" >Distance from eRNA maximum</text>
<text x="197.10" y="176.20" font-size="8.6" text-anchor="middle" stroke="#231f20" stroke-width="0.1" textLength="48.00" lengthAdjust="spacingAndGlyphs" transform="rotate(-90 197.10 176.20)" >PRO-seq reads</text>
<polyline points="217.2,206.0 225.0,204.5 233.6,202.5 245.0,198.5 254.4,194.7 258.5,195.5 260.5,195.3 262.5,191.5 264.0,183.0 265.5,171.0 267.3,165.5 270.0,164.2 275.0,163.6 279.0,162.9 281.5,161.8 283.0,164.5 284.5,175.0 286.0,185.5 287.8,190.5 291.0,192.8 296.3,195.2 304.0,198.8 311.9,202.3 320.0,205.2 331.0,208.4" fill="none" stroke="#d21f3c" stroke-width="1.3" stroke-linejoin="round"/>
<polyline points="217.2,205.0 225.0,202.3 231.9,199.0 238.0,195.6 245.7,192.1 251.0,188.6 254.4,187.6 258.0,187.6 260.4,187.4 262.0,185.5 263.5,180.0 265.0,168.0 266.5,158.0 268.5,153.3 272.0,151.8 276.0,150.4 279.4,149.6 281.5,151.0 283.0,157.0 284.2,170.0 285.5,180.0 287.2,184.0 291.0,186.3 294.6,187.8 303.0,193.5 311.9,199.6 320.0,203.5 331.0,207.7" fill="none" stroke="#1c5a9a" stroke-width="1.4" stroke-dasharray="3,1.8" stroke-linejoin="round"/>
<line x1="298.80" y1="152.00" x2="308.00" y2="152.00" stroke="#d21f3c" stroke-width="1.3" />
<line x1="298.80" y1="162.40" x2="308.00" y2="162.40" stroke="#1c5a9a" stroke-width="1.4" stroke-dasharray="2.6,1.6"/>
<text x="311.40" y="155.00" font-size="8.2" stroke="#231f20" stroke-width="0.1" textLength="29.20" lengthAdjust="spacingAndGlyphs" >Parental</text>
<text x="311.40" y="165.60" font-size="8.2" stroke="#231f20" stroke-width="0.1" textLength="29.50" lengthAdjust="spacingAndGlyphs" >Len-RGs</text>
<line x1="397.30" y1="137.40" x2="397.30" y2="215.90" stroke="#231f20" stroke-width="1.2" />
<line x1="396.70" y1="215.50" x2="472.30" y2="215.50" stroke="#231f20" stroke-width="1.2" />
<line x1="393.20" y1="153.00" x2="397.30" y2="153.00" stroke="#231f20" stroke-width="1" />
<text x="392.80" y="155.90" font-size="8.2" text-anchor="end" stroke="#231f20" stroke-width="0.1" textLength="4.60" lengthAdjust="spacingAndGlyphs" >2</text>
<line x1="393.20" y1="178.00" x2="397.30" y2="178.00" stroke="#231f20" stroke-width="1" />
<text x="392.80" y="180.90" font-size="8.2" text-anchor="end" stroke="#231f20" stroke-width="0.1" textLength="4.60" lengthAdjust="spacingAndGlyphs" >0</text>
<line x1="393.20" y1="203.00" x2="397.30" y2="203.00" stroke="#231f20" stroke-width="1" />
<text x="392.80" y="205.90" font-size="8.2" text-anchor="end" stroke="#231f20" stroke-width="0.1" textLength="8.60" lengthAdjust="spacingAndGlyphs" >−2</text>
<line x1="395.00" y1="140.50" x2="397.30" y2="140.50" stroke="#231f20" stroke-width="1" />
<line x1="395.00" y1="165.50" x2="397.30" y2="165.50" stroke="#231f20" stroke-width="1" />
<line x1="395.00" y1="190.50" x2="397.30" y2="190.50" stroke="#231f20" stroke-width="1" />
<text x="366.80" y="176.50" font-size="9.0" text-anchor="middle" stroke="#231f20" stroke-width="0.1" textLength="66.00" lengthAdjust="spacingAndGlyphs" transform="rotate(-90 366.80 176.50)" >Fold change in RNA</text>
<text x="378.60" y="176.00" font-size="9.0" text-anchor="middle" stroke="#231f20" stroke-width="0.1" textLength="79.00" lengthAdjust="spacingAndGlyphs" transform="rotate(-90 378.60 176.00)" >signal in Len-RGs (log2)</text>
<text x="400.20" y="226.30" font-size="8.4" stroke="#231f20" stroke-width="0.1" textLength="31.70" lengthAdjust="spacingAndGlyphs" >RNA-seq</text>
<text x="438.30" y="226.30" font-size="8.4" stroke="#231f20" stroke-width="0.1" textLength="31.10" lengthAdjust="spacingAndGlyphs" >PRO-seq</text>
<path d="M405.20,151.50 L404.70,168.00 L403.70,171.00 L402.20,175.00 L401.60,180.00 L402.60,183.00 L403.20,190.00 L403.80,200.00 L404.40,210.00 L404.70,214.00 L405.20,215.30 L405.70,214.00 L406.00,210.00 L406.60,200.00 L407.20,190.00 L407.80,183.00 L408.80,180.00 L408.20,175.00 L406.70,171.00 L405.70,168.00Z" fill="#fff" stroke="#d5294a" stroke-width="1.0" stroke-linejoin="round"/>
<line x1="402.70" y1="178.50" x2="407.70" y2="178.50" stroke="#d5294a" stroke-width="0.9" />
<line x1="402.60" y1="180.80" x2="407.80" y2="180.80" stroke="#d5294a" stroke-width="0.9" />
<line x1="403.60" y1="175.50" x2="406.80" y2="175.50" stroke="#d5294a" stroke-width="0.9" />
<path d="M416.90,140.80 L416.40,160.00 L415.70,165.00 L414.60,170.00 L413.50,175.00 L413.00,179.20 L413.90,184.00 L414.90,190.00 L415.50,200.00 L416.10,210.00 L416.40,214.00 L416.90,215.30 L417.40,214.00 L417.70,210.00 L418.30,200.00 L418.90,190.00 L419.90,184.00 L420.80,179.20 L420.30,175.00 L419.20,170.00 L418.10,165.00 L417.40,160.00Z" fill="#fff" stroke="#2a69a8" stroke-width="1.0" stroke-linejoin="round"/>
<line x1="414.10" y1="176.30" x2="419.70" y2="176.30" stroke="#2a69a8" stroke-width="0.9" />
<line x1="413.90" y1="179.20" x2="419.90" y2="179.20" stroke="#2a69a8" stroke-width="0.9" />
<line x1="414.50" y1="183.00" x2="419.30" y2="183.00" stroke="#2a69a8" stroke-width="0.9" />
<path d="M428.70,140.80 L428.20,164.00 L427.70,168.00 L426.50,172.00 L425.20,177.30 L426.50,182.00 L427.70,188.00 L428.10,195.00 L428.20,214.00 L428.70,215.30 L429.20,214.00 L429.30,195.00 L429.70,188.00 L430.90,182.00 L432.20,177.30 L430.90,172.00 L429.70,168.00 L429.20,164.00Z" fill="#fff" stroke="#3fb54a" stroke-width="1.0" stroke-linejoin="round"/>
<line x1="426.40" y1="175.50" x2="431.00" y2="175.50" stroke="#3fb54a" stroke-width="0.9" />
<line x1="426.10" y1="177.30" x2="431.30" y2="177.30" stroke="#3fb54a" stroke-width="0.9" />
<line x1="426.70" y1="180.00" x2="430.70" y2="180.00" stroke="#3fb54a" stroke-width="0.9" />
<path d="M440.60,166.10 L440.10,168.50 L439.00,170.50 L437.70,173.00 L436.80,176.00 L436.70,178.50 L437.30,181.00 L438.10,183.50 L438.60,190.00 L439.10,197.00 L439.70,207.00 L440.10,214.00 L440.60,215.30 L441.10,214.00 L441.50,207.00 L442.10,197.00 L442.60,190.00 L443.10,183.50 L443.90,181.00 L444.50,178.50 L444.40,176.00 L443.50,173.00 L442.20,170.50 L441.10,168.50Z" fill="#fff" stroke="#d5294a" stroke-width="1.0" stroke-linejoin="round"/>
<line x1="437.60" y1="177.20" x2="443.60" y2="177.20" stroke="#d5294a" stroke-width="0.9" />
<line x1="437.80" y1="179.20" x2="443.40" y2="179.20" stroke="#d5294a" stroke-width="0.9" />
<line x1="438.80" y1="183.00" x2="442.40" y2="183.00" stroke="#d5294a" stroke-width="0.9" />
<path d="M452.30,140.80 L451.80,166.00 L451.10,169.00 L449.80,172.50 L448.30,176.70 L449.70,180.50 L450.50,185.00 L451.40,189.90 L451.70,195.00 L451.80,214.00 L452.30,215.30 L452.80,214.00 L452.90,195.00 L453.20,189.90 L454.10,185.00 L454.90,180.50 L456.30,176.70 L454.80,172.50 L453.50,169.00 L452.80,166.00Z" fill="#fff" stroke="#2a69a8" stroke-width="1.0" stroke-linejoin="round"/>
<line x1="449.70" y1="175.20" x2="454.90" y2="175.20" stroke="#2a69a8" stroke-width="0.9" />
<line x1="449.50" y1="176.80" x2="455.10" y2="176.80" stroke="#2a69a8" stroke-width="0.9" />
<line x1="450.10" y1="179.00" x2="454.50" y2="179.00" stroke="#2a69a8" stroke-width="0.9" />
<path d="M464.00,140.80 L463.50,167.00 L462.80,170.00 L461.50,173.00 L460.30,176.70 L461.60,180.50 L463.00,184.10 L463.40,190.00 L463.50,214.00 L464.00,215.30 L464.50,214.00 L464.60,190.00 L465.00,184.10 L466.40,180.50 L467.70,176.70 L466.50,173.00 L465.20,170.00 L464.50,167.00Z" fill="#fff" stroke="#3fb54a" stroke-width="1.0" stroke-linejoin="round"/>
<line x1="461.60" y1="175.50" x2="466.40" y2="175.50" stroke="#3fb54a" stroke-width="0.9" />
<line x1="461.30" y1="176.90" x2="466.70" y2="176.90" stroke="#3fb54a" stroke-width="0.9" />
<line x1="462.00" y1="178.80" x2="466.00" y2="178.80" stroke="#3fb54a" stroke-width="0.9" />
<line x1="404.60" y1="149.70" x2="414.60" y2="149.70" stroke="#231f20" stroke-width="1.0" />
<text x="407.70" y="147.70" font-size="6.2" text-anchor="middle" fill="#333" stroke="#333" stroke-width="0.1" textLength="15.40" lengthAdjust="spacingAndGlyphs" >0.0060</text>
<line x1="417.70" y1="138.50" x2="427.70" y2="138.50" stroke="#231f20" stroke-width="1.0" />
<text x="422.50" y="136.50" font-size="6.2" text-anchor="middle" fill="#333" stroke="#333" stroke-width="0.1" textLength="16.50" lengthAdjust="spacingAndGlyphs" >0.0606</text>
<line x1="438.50" y1="149.70" x2="449.20" y2="149.70" stroke="#231f20" stroke-width="1.0" />
<text x="442.30" y="147.70" font-size="6.2" text-anchor="middle" fill="#333" stroke="#333" stroke-width="0.1" textLength="15.40" lengthAdjust="spacingAndGlyphs" >0.0017</text>
<line x1="453.00" y1="138.50" x2="463.80" y2="138.50" stroke="#231f20" stroke-width="1.0" />
<text x="457.30" y="136.50" font-size="6.2" text-anchor="middle" fill="#333" stroke="#333" stroke-width="0.1" textLength="19.20" lengthAdjust="spacingAndGlyphs" >&lt;0.0001</text>
<rect x="471.30" y="138.60" width="9.30" height="4.90" fill="#fff" stroke="#d5294a" stroke-width="0.9" />
<text x="482.70" y="143.60" font-size="8.4" stroke="#231f20" stroke-width="0.1" textLength="26.90" lengthAdjust="spacingAndGlyphs" >Parental</text>
<rect x="471.30" y="149.40" width="9.30" height="4.90" fill="#fff" stroke="#2a69a8" stroke-width="0.9" />
<text x="482.70" y="154.40" font-size="8.4" stroke="#231f20" stroke-width="0.1" textLength="30.30" lengthAdjust="spacingAndGlyphs" >Common</text>
<rect x="471.30" y="160.20" width="9.30" height="4.90" fill="#fff" stroke="#3fb54a" stroke-width="0.9" />
<text x="482.70" y="165.20" font-size="8.4" stroke="#231f20" stroke-width="0.1" textLength="24.30" lengthAdjust="spacingAndGlyphs" >Len-RG</text>
<defs><clipPath id="vc1"><circle cx="48.6" cy="328.2" r="33.0"/></clipPath></defs>
<circle cx="48.60" cy="328.20" r="33.00" fill="#dc7f90" />
<circle cx="85.70" cy="330.00" r="40.80" fill="#84a7c3" />
<circle cx="85.7" cy="330.0" r="40.8" fill="#8a8497" clip-path="url(#vc1)"/>
<circle cx="85.7" cy="330.0" r="40.8" fill="none" stroke="#ffffff" stroke-opacity="0.85" stroke-width="0.7" clip-path="url(#vc1)"/>
<defs><clipPath id="vd1"><circle cx="85.7" cy="330.0" r="40.8"/></clipPath></defs>
<circle cx="48.6" cy="328.2" r="33.0" fill="none" stroke="#ffffff" stroke-opacity="0.85" stroke-width="0.7" clip-path="url(#vd1)"/>
<text x="33.80" y="331.60" font-size="8.5" text-anchor="middle" fill="#1a1a1a" stroke="#1a1a1a" stroke-width="0.1" textLength="12.70" lengthAdjust="spacingAndGlyphs" >391</text>
<text x="62.20" y="331.60" font-size="8.5" text-anchor="middle" fill="#1a1a1a" stroke="#1a1a1a" stroke-width="0.1" textLength="12.70" lengthAdjust="spacingAndGlyphs" >377</text>
<text x="98.80" y="331.60" font-size="8.5" text-anchor="middle" fill="#1a1a1a" stroke="#1a1a1a" stroke-width="0.1" textLength="12.70" lengthAdjust="spacingAndGlyphs" >782</text>
<defs><clipPath id="vc2"><circle cx="178.8" cy="330.0" r="34.5"/></clipPath></defs>
<circle cx="178.80" cy="330.00" r="34.50" fill="#dc7f90" />
<circle cx="222.40" cy="331.60" r="40.60" fill="#84a7c3" />
<circle cx="222.4" cy="331.6" r="40.6" fill="#8a8497" clip-path="url(#vc2)"/>
<circle cx="222.4" cy="331.6" r="40.6" fill="none" stroke="#ffffff" stroke-opacity="0.85" stroke-width="0.7" clip-path="url(#vc2)"/>
<defs><clipPath id="vd2"><circle cx="222.4" cy="331.6" r="40.6"/></clipPath></defs>
<circle cx="178.8" cy="330.0" r="34.5" fill="none" stroke="#ffffff" stroke-opacity="0.85" stroke-width="0.7" clip-path="url(#vd2)"/>
<text x="167.50" y="331.60" font-size="8.5" text-anchor="middle" fill="#1a1a1a" stroke="#1a1a1a" stroke-width="0.1" textLength="12.70" lengthAdjust="spacingAndGlyphs" >496</text>
<text x="197.50" y="331.60" font-size="8.5" text-anchor="middle" fill="#1a1a1a" stroke="#1a1a1a" stroke-width="0.1" textLength="12.70" lengthAdjust="spacingAndGlyphs" >272</text>
<text x="235.50" y="331.60" font-size="8.5" text-anchor="middle" fill="#1a1a1a" stroke="#1a1a1a" stroke-width="0.1" textLength="12.70" lengthAdjust="spacingAndGlyphs" >773</text>
<defs><clipPath id="vc3"><circle cx="313.8" cy="330.0" r="33.0"/></clipPath></defs>
<circle cx="313.80" cy="330.00" r="33.00" fill="#dc7f90" />
<circle cx="358.20" cy="334.20" r="48.00" fill="#84a7c3" />
<circle cx="358.2" cy="334.2" r="48.0" fill="#8a8497" clip-path="url(#vc3)"/>
<circle cx="358.2" cy="334.2" r="48.0" fill="none" stroke="#ffffff" stroke-opacity="0.85" stroke-width="0.7" clip-path="url(#vc3)"/>
<defs><clipPath id="vd3"><circle cx="358.2" cy="334.2" r="48.0"/></clipPath></defs>
<circle cx="313.8" cy="330.0" r="33.0" fill="none" stroke="#ffffff" stroke-opacity="0.85" stroke-width="0.7" clip-path="url(#vd3)"/>
<text x="300.00" y="331.60" font-size="8.5" text-anchor="middle" fill="#1a1a1a" stroke="#1a1a1a" stroke-width="0.1" textLength="12.70" lengthAdjust="spacingAndGlyphs" >360</text>
<text x="328.80" y="331.60" font-size="8.5" text-anchor="middle" fill="#1a1a1a" stroke="#1a1a1a" stroke-width="0.1" textLength="12.70" lengthAdjust="spacingAndGlyphs" >408</text>
<text x="369.60" y="331.60" font-size="8.5" text-anchor="middle" fill="#1a1a1a" stroke="#1a1a1a" stroke-width="0.1" textLength="16.50" lengthAdjust="spacingAndGlyphs" >1247</text>
<text x="28.00" y="283.10" font-size="8.8" stroke="#231f20" stroke-width="0.1" textLength="35.00" lengthAdjust="spacingAndGlyphs" >Len-RGs</text>
<text x="75.50" y="283.10" font-size="8.8" stroke="#231f20" stroke-width="0.1" textLength="32.00" lengthAdjust="spacingAndGlyphs" >SUPM2</text>
<text x="166.30" y="283.10" font-size="8.8" stroke="#231f20" stroke-width="0.1" textLength="35.50" lengthAdjust="spacingAndGlyphs" >Len-RGs</text>
<text x="214.50" y="283.10" font-size="8.8" stroke="#231f20" stroke-width="0.1" textLength="24.30" lengthAdjust="spacingAndGlyphs" >SMZ1</text>
<text x="298.80" y="283.10" font-size="8.8" stroke="#231f20" stroke-width="0.1" textLength="35.70" lengthAdjust="spacingAndGlyphs" >Len-RGs</text>
<text x="351.30" y="283.10" font-size="8.8" stroke="#231f20" stroke-width="0.1" textLength="22.50" lengthAdjust="spacingAndGlyphs" >K299</text>
<rect x="416.10" y="299.40" width="9.20" height="9.50" fill="#dc7f90" />
<rect x="416.10" y="323.90" width="9.20" height="9.50" fill="#84a7c3" />
<text x="429.70" y="302.90" font-size="7.6" stroke="#231f20" stroke-width="0.1" textLength="82.30" lengthAdjust="spacingAndGlyphs" >Increased ZFP91 binding</text>
<text x="429.70" y="311.60" font-size="7.6" stroke="#231f20" stroke-width="0.1" textLength="63.60" lengthAdjust="spacingAndGlyphs" >in Len-RGs (N=768)</text>
<text x="429.70" y="327.50" font-size="7.6" stroke="#231f20" stroke-width="0.1" textLength="77.20" lengthAdjust="spacingAndGlyphs" >ZFP91 peaks in primary</text>
<text x="429.70" y="336.10" font-size="7.6" stroke="#231f20" stroke-width="0.1" textLength="63.60" lengthAdjust="spacingAndGlyphs" >IMiD-resistant lines</text>
<rect x="63.20" y="400.80" width="85.70" height="19.10" fill="#f7f7f8" />
<rect x="63.20" y="421.00" width="85.70" height="18.40" fill="#f7f7f8" />
<rect x="63.20" y="440.60" width="85.70" height="18.50" fill="#f7f7f8" />
<rect x="63.20" y="460.30" width="85.70" height="18.60" fill="#f7f7f8" />
<rect x="63.20" y="480.00" width="85.70" height="18.40" fill="#f7f7f8" />
<rect x="63.20" y="499.70" width="85.70" height="18.10" fill="#f7f7f8" />
<rect x="63.20" y="519.20" width="85.70" height="18.40" fill="#f7f7f8" />
<rect x="63.20" y="544.40" width="85.70" height="6.00" fill="#f3f3f5" />
<rect x="151.90" y="400.80" width="86.00" height="19.10" fill="#f7f7f8" />
<rect x="151.90" y="421.00" width="86.00" height="18.40" fill="#f7f7f8" />
<rect x="151.90" y="440.60" width="86.00" height="18.50" fill="#f7f7f8" />
<rect x="151.90" y="460.30" width="86.00" height="18.60" fill="#f7f7f8" />
<rect x="151.90" y="480.00" width="86.00" height="18.40" fill="#f7f7f8" />
<rect x="151.90" y="499.70" width="86.00" height="18.10" fill="#f7f7f8" />
<rect x="151.90" y="519.20" width="86.00" height="18.40" fill="#f7f7f8" />
<rect x="151.90" y="544.40" width="86.00" height="6.00" fill="#f3f3f5" />
<rect x="241.80" y="400.80" width="86.10" height="19.10" fill="#f7f7f8" />
<rect x="241.80" y="421.00" width="86.10" height="18.40" fill="#f7f7f8" />
<rect x="241.80" y="440.60" width="86.10" height="18.50" fill="#f7f7f8" />
<rect x="241.80" y="460.30" width="86.10" height="18.60" fill="#f7f7f8" />
<rect x="241.80" y="480.00" width="86.10" height="18.40" fill="#f7f7f8" />
<rect x="241.80" y="499.70" width="86.10" height="18.10" fill="#f7f7f8" />
<rect x="241.80" y="519.20" width="86.10" height="18.40" fill="#f7f7f8" />
<rect x="241.80" y="544.40" width="86.10" height="6.00" fill="#f3f3f5" />
<line x1="241.80" y1="401.00" x2="327.90" y2="401.00" stroke="#d4d4d4" stroke-width="0.9" />
<rect x="331.50" y="400.80" width="86.30" height="19.10" fill="#f7f7f8" />
<rect x="331.50" y="421.00" width="86.30" height="18.40" fill="#f7f7f8" />
<rect x="331.50" y="440.60" width="86.30" height="18.50" fill="#f7f7f8" />
<rect x="331.50" y="460.30" width="86.30" height="18.60" fill="#f7f7f8" />
<rect x="331.50" y="480.00" width="86.30" height="18.40" fill="#f7f7f8" />
<rect x="331.50" y="499.70" width="86.30" height="18.10" fill="#f7f7f8" />
<rect x="331.50" y="519.20" width="86.30" height="18.40" fill="#f7f7f8" />
<rect x="331.50" y="544.40" width="86.30" height="6.00" fill="#f3f3f5" />
<rect x="421.20" y="400.80" width="86.20" height="19.10" fill="#f7f7f8" />
<rect x="421.20" y="421.00" width="86.20" height="18.40" fill="#f7f7f8" />
<rect x="421.20" y="440.60" width="86.20" height="18.50" fill="#f7f7f8" />
<rect x="421.20" y="460.30" width="86.20" height="18.60" fill="#f7f7f8" />
<rect x="421.20" y="480.00" width="86.20" height="18.40" fill="#f7f7f8" />
<rect x="421.20" y="499.70" width="86.20" height="18.10" fill="#f7f7f8" />
<rect x="421.20" y="519.20" width="86.20" height="18.40" fill="#f7f7f8" />
<rect x="421.20" y="544.40" width="86.20" height="6.00" fill="#f3f3f5" />
<text x="59.60" y="398.00" font-size="8" text-anchor="end" stroke="#231f20" stroke-width="0.1" textLength="26.50" lengthAdjust="spacingAndGlyphs" >SUPM2</text>
<text x="59.00" y="419.00" font-size="8" text-anchor="end" fill="#f0a12c" stroke="#f0a12c" stroke-width="0.1" textLength="21.60" lengthAdjust="spacingAndGlyphs" >ZFP91</text>
<text x="59.00" y="438.30" font-size="8" text-anchor="end" fill="#336495" stroke="#336495" stroke-width="0.1" textLength="34.10" lengthAdjust="spacingAndGlyphs" >H3K4me3</text>
<text x="59.00" y="457.20" font-size="8" text-anchor="end" fill="#336495" stroke="#336495" stroke-width="0.1" textLength="30.80" lengthAdjust="spacingAndGlyphs" >H3K27ac</text>
<text x="59.00" y="476.30" font-size="8" text-anchor="end" fill="#336495" stroke="#336495" stroke-width="0.1" textLength="38.90" lengthAdjust="spacingAndGlyphs" >PRO-seq_F</text>
<text x="59.00" y="495.30" font-size="8" text-anchor="end" fill="#336495" stroke="#336495" stroke-width="0.1" textLength="39.80" lengthAdjust="spacingAndGlyphs" >PRO-seq_R</text>
<text x="59.00" y="515.00" font-size="8" text-anchor="end" fill="#e3253f" stroke="#e3253f" stroke-width="0.1" textLength="47.50" lengthAdjust="spacingAndGlyphs" >RNA-seq_WT</text>
<text x="59.00" y="534.30" font-size="8" text-anchor="end" fill="#e3253f" stroke="#e3253f" stroke-width="0.1" textLength="47.10" lengthAdjust="spacingAndGlyphs" >RNA-seq_KO</text>
<text x="135.20" y="396.40" font-size="8" stroke="#231f20" stroke-width="0.1" textLength="15.20" lengthAdjust="spacingAndGlyphs" >2 kb</text>
<line x1="137.50" y1="398.40" x2="147.60" y2="398.40" stroke="#3a3a3a" stroke-width="1.3" />
<text x="216.70" y="396.40" font-size="8" stroke="#231f20" stroke-width="0.1" textLength="15.90" lengthAdjust="spacingAndGlyphs" >2 kb</text>
<line x1="213.00" y1="398.40" x2="236.00" y2="398.40" stroke="#3a3a3a" stroke-width="1.3" />
<text x="309.30" y="396.40" font-size="8" stroke="#231f20" stroke-width="0.1" textLength="16.40" lengthAdjust="spacingAndGlyphs" >5 kb</text>
<line x1="307.80" y1="398.40" x2="326.50" y2="398.40" stroke="#3a3a3a" stroke-width="1.3" />
<text x="397.40" y="396.40" font-size="8" stroke="#231f20" stroke-width="0.1" textLength="18.70" lengthAdjust="spacingAndGlyphs" >2 kb</text>
<line x1="393.00" y1="398.40" x2="417.00" y2="398.40" stroke="#3a3a3a" stroke-width="1.3" />
<text x="483.80" y="396.40" font-size="8" stroke="#231f20" stroke-width="0.1" textLength="16.50" lengthAdjust="spacingAndGlyphs" >5 kb</text>
<line x1="478.00" y1="398.40" x2="506.30" y2="398.40" stroke="#3a3a3a" stroke-width="1.3" />
<path d="M63.20,419.30 L63.20,418.82 L63.70,418.85 L64.20,418.23 L64.70,417.89 L65.20,418.06 L65.70,418.01 L66.20,418.35 L66.70,418.54 L67.20,418.61 L67.70,418.31 L68.20,418.53 L68.70,418.03 L69.20,418.48 L69.70,418.65 L70.20,418.83 L70.70,418.38 L71.20,418.44 L71.70,418.39 L72.20,418.48 L72.70,418.28 L73.20,418.35 L73.70,418.56 L74.20,418.50 L74.70,418.57 L75.20,418.77 L75.70,418.30 L76.20,418.13 L76.70,418.05 L77.20,417.81 L77.70,418.08 L78.20,418.25 L78.70,418.32 L79.20,418.38 L79.70,418.19 L80.20,418.63 L80.70,418.51 L81.20,418.38 L81.70,418.46 L82.20,418.78 L82.70,418.40 L83.20,418.75 L83.70,418.50 L84.20,418.69 L84.70,418.91 L85.20,418.91 L85.70,419.01 L86.20,418.99 L86.70,418.53 L87.20,418.22 L87.70,418.32 L88.20,418.14 L88.70,418.15 L89.20,418.13 L89.70,417.77 L90.20,418.00 L90.70,417.65 L91.20,417.55 L91.70,417.46 L92.20,417.93 L92.70,418.12 L93.20,418.26 L93.70,418.06 L94.20,417.43 L94.70,417.12 L95.20,416.97 L95.70,417.51 L96.20,417.36 L96.70,417.26 L97.20,417.20 L97.70,417.21 L98.20,417.80 L98.70,418.15 L99.20,417.87 L99.70,417.78 L100.20,417.61 L100.70,417.89 L101.20,417.70 L101.70,418.21 L102.20,417.85 L102.70,417.69 L103.20,418.05 L103.70,418.49 L104.20,418.36 L104.70,418.16 L105.20,418.33 L105.70,418.67 L106.20,418.69 L106.70,418.24 L107.20,418.58 L107.70,418.06 L108.20,418.30 L108.70,418.45 L109.20,418.57 L109.70,417.86 L110.20,417.42 L110.70,417.56 L111.20,417.75 L111.70,417.33 L112.20,416.86 L112.70,417.30 L113.20,417.09 L113.70,416.85 L114.20,417.12 L114.70,417.29 L115.20,417.27 L115.70,417.79 L116.20,418.12 L116.70,418.03 L117.20,418.08 L117.70,418.12 L118.20,418.32 L118.70,417.94 L119.20,418.24 L119.70,418.10 L120.20,417.84 L120.70,418.09 L121.20,418.53 L121.70,418.65 L122.20,418.86 L122.70,418.91 L123.20,418.97 L123.70,418.81 L124.20,418.70 L124.70,418.57 L125.20,418.31 L125.70,418.14 L126.20,418.03 L126.70,418.24 L127.20,418.11 L127.70,418.13 L128.20,418.49 L128.70,418.36 L129.20,418.47 L129.70,418.24 L130.20,418.05 L130.70,418.35 L131.20,418.37 L131.70,418.36 L132.20,418.49 L132.70,418.78 L133.20,418.95 L133.70,418.26 L134.20,418.06 L134.70,418.19 L135.20,418.08 L135.70,418.34 L136.20,418.14 L136.70,417.81 L137.20,417.76 L137.70,417.99 L138.20,417.70 L138.70,417.57 L139.20,418.21 L139.70,418.31 L140.20,418.33 L140.70,418.49 L141.20,418.30 L141.70,418.57 L142.20,418.07 L142.70,416.47 L143.20,412.07 L143.70,404.53 L144.20,403.76 L144.70,410.39 L145.20,415.89 L145.70,416.49 L146.20,414.06 L146.70,413.16 L147.20,415.52 L147.70,417.92 L148.20,418.12 L148.70,418.26 L148.90,419.30Z" fill="#f0a12c"/>
<path d="M63.20,438.80 L63.20,438.67 L63.70,438.17 L64.20,438.27 L64.70,437.84 L65.20,437.68 L65.70,437.78 L66.20,437.64 L66.70,437.60 L67.20,438.04 L67.70,437.87 L68.20,437.69 L68.70,437.67 L69.20,437.33 L69.70,437.26 L70.20,437.54 L70.70,437.84 L71.20,438.11 L71.70,437.66 L72.20,437.50 L72.70,437.47 L73.20,437.61 L73.70,437.64 L74.20,437.90 L74.70,437.79 L75.20,438.06 L75.70,437.80 L76.20,437.64 L76.70,437.50 L77.20,437.80 L77.70,438.12 L78.20,438.09 L78.70,437.76 L79.20,437.72 L79.70,437.48 L80.20,437.62 L80.70,437.74 L81.20,437.35 L81.70,437.78 L82.20,438.00 L82.70,437.79 L83.20,437.63 L83.70,437.71 L84.20,437.65 L84.70,437.71 L85.20,437.55 L85.70,437.25 L86.20,437.13 L86.70,437.23 L87.20,437.43 L87.70,437.13 L88.20,437.40 L88.70,437.40 L89.20,437.18 L89.70,437.22 L90.20,437.50 L90.70,437.35 L91.20,437.39 L91.70,437.14 L92.20,437.24 L92.70,437.39 L93.20,437.08 L93.70,437.30 L94.20,437.54 L94.70,437.20 L95.20,437.00 L95.70,437.56 L96.20,437.99 L96.70,437.55 L97.20,437.26 L97.70,437.53 L98.20,437.81 L98.70,437.59 L99.20,437.23 L99.70,437.67 L100.20,437.71 L100.70,437.54 L101.20,437.82 L101.70,437.81 L102.20,438.04 L102.70,437.87 L103.20,437.99 L103.70,438.19 L104.20,438.02 L104.70,438.13 L105.20,438.22 L105.70,438.22 L106.20,437.94 L106.70,437.79 L107.20,437.19 L107.70,436.87 L108.20,436.50 L108.70,435.92 L109.20,435.07 L109.70,433.82 L110.20,433.29 L110.70,432.49 L111.20,431.33 L111.70,430.13 L112.20,429.35 L112.70,428.58 L113.20,428.89 L113.70,430.35 L114.20,432.10 L114.70,433.38 L115.20,433.46 L115.70,433.56 L116.20,432.99 L116.70,432.48 L117.20,432.33 L117.70,432.83 L118.20,433.76 L118.70,434.28 L119.20,434.86 L119.70,435.03 L120.20,435.26 L120.70,435.30 L121.20,435.50 L121.70,435.27 L122.20,435.20 L122.70,435.09 L123.20,434.55 L123.70,434.71 L124.20,434.45 L124.70,434.54 L125.20,434.67 L125.70,435.59 L126.20,436.02 L126.70,435.46 L127.20,435.61 L127.70,435.19 L128.20,434.62 L128.70,434.36 L129.20,433.97 L129.70,433.89 L130.20,434.62 L130.70,435.37 L131.20,435.11 L131.70,435.20 L132.20,435.16 L132.70,434.94 L133.20,434.72 L133.70,434.04 L134.20,434.05 L134.70,434.03 L135.20,433.88 L135.70,434.17 L136.20,433.62 L136.70,433.57 L137.20,432.48 L137.70,431.71 L138.20,431.42 L138.70,432.70 L139.20,433.53 L139.70,433.85 L140.20,433.06 L140.70,431.35 L141.20,429.87 L141.70,429.31 L142.20,430.74 L142.70,433.04 L143.20,434.38 L143.70,434.40 L144.20,431.44 L144.70,425.62 L145.20,425.25 L145.70,430.06 L146.20,433.16 L146.70,429.77 L147.20,423.09 L147.70,424.39 L148.20,431.87 L148.70,435.30 L148.90,438.80Z" fill="#1f2b8c"/>
<path d="M63.20,458.50 L63.20,457.12 L63.70,457.03 L64.20,456.61 L64.70,456.33 L65.20,456.89 L65.70,457.43 L66.20,457.01 L66.70,457.43 L67.20,457.32 L67.70,456.54 L68.20,456.10 L68.70,456.89 L69.20,457.42 L69.70,457.54 L70.20,456.76 L70.70,457.42 L71.20,457.53 L71.70,457.77 L72.20,457.88 L72.70,457.39 L73.20,457.58 L73.70,457.37 L74.20,456.79 L74.70,456.46 L75.20,456.69 L75.70,456.31 L76.20,456.38 L76.70,456.06 L77.20,456.69 L77.70,456.89 L78.20,456.72 L78.70,456.10 L79.20,456.19 L79.70,456.44 L80.20,456.91 L80.70,457.15 L81.20,457.39 L81.70,456.44 L82.20,456.02 L82.70,455.75 L83.20,456.11 L83.70,456.07 L84.20,456.62 L84.70,456.70 L85.20,457.21 L85.70,457.14 L86.20,457.33 L86.70,457.65 L87.20,456.70 L87.70,457.28 L88.20,456.63 L88.70,456.39 L89.20,457.11 L89.70,456.98 L90.20,456.19 L90.70,455.72 L91.20,456.04 L91.70,455.94 L92.20,455.96 L92.70,456.57 L93.20,456.57 L93.70,456.50 L94.20,456.74 L94.70,456.29 L95.20,456.55 L95.70,456.28 L96.20,457.07 L96.70,457.02 L97.20,457.55 L97.70,457.02 L98.20,456.38 L98.70,456.46 L99.20,456.48 L99.70,456.41 L100.20,456.92 L100.70,456.99 L101.20,456.76 L101.70,456.51 L102.20,456.74 L102.70,456.73 L103.20,456.92 L103.70,456.72 L104.20,456.42 L104.70,456.73 L105.20,456.40 L105.70,455.97 L106.20,456.14 L106.70,455.61 L107.20,456.22 L107.70,455.71 L108.20,456.38 L108.70,456.44 L109.20,455.69 L109.70,456.13 L110.20,455.33 L110.70,454.25 L111.20,453.34 L111.70,453.14 L112.20,453.64 L112.70,454.20 L113.20,454.39 L113.70,455.54 L114.20,456.44 L114.70,455.86 L115.20,455.88 L115.70,456.54 L116.20,456.54 L116.70,456.72 L117.20,455.99 L117.70,456.37 L118.20,455.97 L118.70,455.69 L119.20,456.12 L119.70,456.45 L120.20,456.25 L120.70,456.28 L121.20,456.00 L121.70,456.17 L122.20,455.58 L122.70,455.70 L123.20,456.11 L123.70,455.40 L124.20,454.73 L124.70,454.56 L125.20,454.57 L125.70,454.06 L126.20,453.62 L126.70,454.61 L127.20,454.52 L127.70,455.12 L128.20,455.05 L128.70,455.18 L129.20,454.99 L129.70,454.63 L130.20,454.21 L130.70,454.87 L131.20,455.67 L131.70,454.82 L132.20,454.65 L132.70,454.91 L133.20,455.71 L133.70,456.29 L134.20,455.41 L134.70,455.46 L135.20,455.02 L135.70,454.86 L136.20,454.79 L136.70,454.60 L137.20,455.12 L137.70,455.12 L138.20,454.36 L138.70,452.84 L139.20,451.40 L139.70,450.49 L140.20,450.57 L140.70,451.44 L141.20,453.01 L141.70,453.46 L142.20,452.42 L142.70,448.55 L143.20,444.53 L143.70,446.05 L144.20,450.81 L144.70,454.55 L145.20,455.51 L145.70,455.12 L146.20,453.51 L146.70,449.65 L147.20,443.92 L147.70,444.90 L148.20,450.04 L148.70,454.49 L148.90,458.50Z" fill="#1f2b8c"/>
<line x1="63.20" y1="478.00" x2="148.90" y2="478.00" stroke="#2b3a96" stroke-width="0.7" />
<line x1="145.01" y1="478.30" x2="145.01" y2="476.85" stroke="#2b3a96" stroke-width="0.7" />
<line x1="125.69" y1="478.30" x2="125.69" y2="477.63" stroke="#2b3a96" stroke-width="0.7" />
<line x1="91.71" y1="478.30" x2="91.71" y2="477.04" stroke="#2b3a96" stroke-width="0.7" />
<line x1="132.03" y1="478.30" x2="132.03" y2="477.88" stroke="#2b3a96" stroke-width="0.7" />
<line x1="77.82" y1="478.30" x2="77.82" y2="476.83" stroke="#2b3a96" stroke-width="0.7" />
<line x1="73.70" y1="478.30" x2="73.70" y2="477.11" stroke="#2b3a96" stroke-width="0.7" />
<line x1="91.63" y1="478.30" x2="91.63" y2="477.13" stroke="#2b3a96" stroke-width="0.7" />
<line x1="136.73" y1="478.30" x2="136.73" y2="477.20" stroke="#2b3a96" stroke-width="0.7" />
<line x1="96.83" y1="478.30" x2="96.83" y2="477.51" stroke="#2b3a96" stroke-width="0.7" />
<line x1="116.33" y1="478.30" x2="116.33" y2="477.15" stroke="#2b3a96" stroke-width="0.7" />
<line x1="98.39" y1="478.30" x2="98.39" y2="477.34" stroke="#2b3a96" stroke-width="0.7" />
<line x1="109.13" y1="478.30" x2="109.13" y2="477.59" stroke="#2b3a96" stroke-width="0.7" />
<line x1="78.92" y1="478.30" x2="78.92" y2="477.22" stroke="#2b3a96" stroke-width="0.7" />
<line x1="72.19" y1="478.30" x2="72.19" y2="477.18" stroke="#2b3a96" stroke-width="0.7" />
<line x1="131.61" y1="478.30" x2="131.61" y2="476.91" stroke="#2b3a96" stroke-width="0.7" />
<line x1="85.07" y1="478.30" x2="85.07" y2="477.40" stroke="#2b3a96" stroke-width="0.7" />
<line x1="141.91" y1="478.30" x2="141.91" y2="477.48" stroke="#2b3a96" stroke-width="0.7" />
<line x1="147.68" y1="478.30" x2="147.68" y2="477.66" stroke="#2b3a96" stroke-width="0.7" />
<line x1="134.91" y1="478.30" x2="134.91" y2="477.85" stroke="#2b3a96" stroke-width="0.7" />
<line x1="120.24" y1="478.30" x2="120.24" y2="476.93" stroke="#2b3a96" stroke-width="0.7" />
<line x1="110.08" y1="478.30" x2="110.08" y2="477.14" stroke="#2b3a96" stroke-width="0.7" />
<line x1="141.10" y1="478.30" x2="141.10" y2="476.70" stroke="#2b3a96" stroke-width="0.7" />
<line x1="78.89" y1="478.30" x2="78.89" y2="477.27" stroke="#2b3a96" stroke-width="0.7" />
<line x1="67.08" y1="478.30" x2="67.08" y2="477.45" stroke="#2b3a96" stroke-width="0.7" />
<line x1="75.99" y1="478.30" x2="75.99" y2="477.71" stroke="#2b3a96" stroke-width="0.7" />
<line x1="116.62" y1="478.30" x2="116.62" y2="477.80" stroke="#2b3a96" stroke-width="0.7" />
<line x1="76.74" y1="478.30" x2="76.74" y2="477.89" stroke="#2b3a96" stroke-width="0.7" />
<line x1="132.61" y1="478.30" x2="132.61" y2="477.61" stroke="#2b3a96" stroke-width="0.7" />
<line x1="69.82" y1="478.30" x2="69.82" y2="477.15" stroke="#2b3a96" stroke-width="0.7" />
<line x1="124.48" y1="478.30" x2="124.48" y2="477.14" stroke="#2b3a96" stroke-width="0.7" />
<line x1="110.07" y1="478.30" x2="110.07" y2="477.26" stroke="#2b3a96" stroke-width="0.7" />
<line x1="124.65" y1="478.30" x2="124.65" y2="477.53" stroke="#2b3a96" stroke-width="0.7" />
<line x1="135.07" y1="478.30" x2="135.07" y2="477.07" stroke="#2b3a96" stroke-width="0.7" />
<line x1="136.39" y1="478.30" x2="136.39" y2="476.83" stroke="#2b3a96" stroke-width="0.7" />
<line x1="134.82" y1="478.30" x2="134.82" y2="477.28" stroke="#2b3a96" stroke-width="0.7" />
<line x1="107.94" y1="478.30" x2="107.94" y2="477.02" stroke="#2b3a96" stroke-width="0.7" />
<line x1="112.75" y1="478.30" x2="112.75" y2="477.87" stroke="#2b3a96" stroke-width="0.7" />
<line x1="141.36" y1="478.30" x2="141.36" y2="477.66" stroke="#2b3a96" stroke-width="0.7" />
<line x1="104.73" y1="478.30" x2="104.73" y2="477.36" stroke="#2b3a96" stroke-width="0.7" />
<line x1="71.60" y1="478.30" x2="71.60" y2="477.21" stroke="#2b3a96" stroke-width="0.7" />
<line x1="113.70" y1="478.30" x2="113.70" y2="476.92" stroke="#2b3a96" stroke-width="0.7" />
<line x1="115.55" y1="478.30" x2="115.55" y2="477.53" stroke="#2b3a96" stroke-width="0.7" />
<line x1="111.55" y1="478.30" x2="111.55" y2="476.75" stroke="#2b3a96" stroke-width="0.7" />
<line x1="117.62" y1="478.30" x2="117.62" y2="476.89" stroke="#2b3a96" stroke-width="0.7" />
<line x1="64.66" y1="478.30" x2="64.66" y2="477.07" stroke="#2b3a96" stroke-width="0.7" />
<line x1="81.59" y1="478.30" x2="81.59" y2="477.70" stroke="#2b3a96" stroke-width="0.7" />
<line x1="91.75" y1="478.30" x2="91.75" y2="477.69" stroke="#2b3a96" stroke-width="0.7" />
<line x1="70.96" y1="478.30" x2="70.96" y2="477.65" stroke="#2b3a96" stroke-width="0.7" />
<line x1="83.22" y1="478.30" x2="83.22" y2="477.60" stroke="#2b3a96" stroke-width="0.7" />
<line x1="131.36" y1="478.30" x2="131.36" y2="477.80" stroke="#2b3a96" stroke-width="0.7" />
<line x1="80.65" y1="478.30" x2="80.65" y2="477.83" stroke="#2b3a96" stroke-width="0.7" />
<line x1="106.58" y1="478.30" x2="106.58" y2="477.63" stroke="#2b3a96" stroke-width="0.7" />
<line x1="108.66" y1="478.30" x2="108.66" y2="477.61" stroke="#2b3a96" stroke-width="0.7" />
<line x1="80.35" y1="478.30" x2="80.35" y2="477.31" stroke="#2b3a96" stroke-width="0.7" />
<line x1="69.77" y1="478.30" x2="69.77" y2="476.84" stroke="#2b3a96" stroke-width="0.7" />
<line x1="111.35" y1="478.30" x2="111.35" y2="477.43" stroke="#2b3a96" stroke-width="0.7" />
<line x1="110.27" y1="478.30" x2="110.27" y2="476.76" stroke="#2b3a96" stroke-width="0.7" />
<line x1="105.57" y1="478.30" x2="105.57" y2="477.43" stroke="#2b3a96" stroke-width="0.7" />
<line x1="82.07" y1="478.30" x2="82.07" y2="477.44" stroke="#2b3a96" stroke-width="0.7" />
<line x1="129.24" y1="478.30" x2="129.24" y2="477.16" stroke="#2b3a96" stroke-width="0.7" />
<line x1="87.05" y1="478.30" x2="87.05" y2="476.82" stroke="#2b3a96" stroke-width="0.7" />
<line x1="74.99" y1="478.30" x2="74.99" y2="477.47" stroke="#2b3a96" stroke-width="0.7" />
<line x1="129.44" y1="478.30" x2="129.44" y2="476.80" stroke="#2b3a96" stroke-width="0.7" />
<line x1="102.59" y1="478.30" x2="102.59" y2="477.89" stroke="#2b3a96" stroke-width="0.7" />
<line x1="111.20" y1="478.30" x2="111.20" y2="477.39" stroke="#2b3a96" stroke-width="0.7" />
<line x1="66.19" y1="478.30" x2="66.19" y2="477.48" stroke="#2b3a96" stroke-width="0.7" />
<line x1="138.41" y1="478.30" x2="138.41" y2="477.86" stroke="#2b3a96" stroke-width="0.7" />
<line x1="78.78" y1="478.30" x2="78.78" y2="477.70" stroke="#2b3a96" stroke-width="0.7" />
<line x1="131.27" y1="478.30" x2="131.27" y2="477.53" stroke="#2b3a96" stroke-width="0.7" />
<line x1="121.68" y1="478.30" x2="121.68" y2="477.09" stroke="#2b3a96" stroke-width="0.7" />
<line x1="111.90" y1="478.30" x2="111.90" y2="461.80" stroke="#6a72b8" stroke-width="0.6" />
<line x1="111.20" y1="478.30" x2="111.20" y2="475.30" stroke="#1f2b8c" stroke-width="0.7" />
<line x1="64.00" y1="478.30" x2="64.00" y2="474.80" stroke="#1f2b8c" stroke-width="1.2" />
<line x1="147.00" y1="478.30" x2="147.00" y2="476.30" stroke="#1f2b8c" stroke-width="0.7" />
<line x1="63.20" y1="497.50" x2="148.90" y2="497.50" stroke="#2b3a96" stroke-width="0.7" />
<line x1="138.08" y1="497.80" x2="138.08" y2="497.02" stroke="#2b3a96" stroke-width="0.7" />
<line x1="130.67" y1="497.80" x2="130.67" y2="496.35" stroke="#2b3a96" stroke-width="0.7" />
<line x1="90.14" y1="497.80" x2="90.14" y2="496.55" stroke="#2b3a96" stroke-width="0.7" />
<line x1="92.05" y1="497.80" x2="92.05" y2="497.22" stroke="#2b3a96" stroke-width="0.7" />
<line x1="93.20" y1="497.80" x2="93.20" y2="496.57" stroke="#2b3a96" stroke-width="0.7" />
<line x1="76.20" y1="497.80" x2="76.20" y2="496.67" stroke="#2b3a96" stroke-width="0.7" />
<line x1="93.45" y1="497.80" x2="93.45" y2="497.21" stroke="#2b3a96" stroke-width="0.7" />
<line x1="100.13" y1="497.80" x2="100.13" y2="496.97" stroke="#2b3a96" stroke-width="0.7" />
<line x1="102.69" y1="497.80" x2="102.69" y2="496.43" stroke="#2b3a96" stroke-width="0.7" />
<line x1="141.65" y1="497.80" x2="141.65" y2="497.15" stroke="#2b3a96" stroke-width="0.7" />
<line x1="147.37" y1="497.80" x2="147.37" y2="496.73" stroke="#2b3a96" stroke-width="0.7" />
<line x1="144.99" y1="497.80" x2="144.99" y2="496.50" stroke="#2b3a96" stroke-width="0.7" />
<line x1="108.23" y1="497.80" x2="108.23" y2="497.12" stroke="#2b3a96" stroke-width="0.7" />
<line x1="142.42" y1="497.80" x2="142.42" y2="496.30" stroke="#2b3a96" stroke-width="0.7" />
<line x1="116.62" y1="497.80" x2="116.62" y2="497.27" stroke="#2b3a96" stroke-width="0.7" />
<line x1="133.42" y1="497.80" x2="133.42" y2="496.56" stroke="#2b3a96" stroke-width="0.7" />
<line x1="138.22" y1="497.80" x2="138.22" y2="496.33" stroke="#2b3a96" stroke-width="0.7" />
<line x1="146.35" y1="497.80" x2="146.35" y2="496.59" stroke="#2b3a96" stroke-width="0.7" />
<line x1="96.94" y1="497.80" x2="96.94" y2="496.81" stroke="#2b3a96" stroke-width="0.7" />
<line x1="106.45" y1="497.80" x2="106.45" y2="496.56" stroke="#2b3a96" stroke-width="0.7" />
<line x1="116.75" y1="497.80" x2="116.75" y2="496.49" stroke="#2b3a96" stroke-width="0.7" />
<line x1="107.36" y1="497.80" x2="107.36" y2="496.75" stroke="#2b3a96" stroke-width="0.7" />
<line x1="145.31" y1="497.80" x2="145.31" y2="496.53" stroke="#2b3a96" stroke-width="0.7" />
<line x1="142.57" y1="497.80" x2="142.57" y2="496.63" stroke="#2b3a96" stroke-width="0.7" />
<line x1="74.22" y1="497.80" x2="74.22" y2="496.94" stroke="#2b3a96" stroke-width="0.7" />
<line x1="88.32" y1="497.80" x2="88.32" y2="497.11" stroke="#2b3a96" stroke-width="0.7" />
<line x1="74.46" y1="497.80" x2="74.46" y2="497.28" stroke="#2b3a96" stroke-width="0.7" />
<line x1="104.45" y1="497.80" x2="104.45" y2="496.54" stroke="#2b3a96" stroke-width="0.7" />
<line x1="137.17" y1="497.80" x2="137.17" y2="496.34" stroke="#2b3a96" stroke-width="0.7" />
<line x1="112.99" y1="497.80" x2="112.99" y2="497.38" stroke="#2b3a96" stroke-width="0.7" />
<line x1="79.90" y1="497.80" x2="79.90" y2="497.34" stroke="#2b3a96" stroke-width="0.7" />
<line x1="137.23" y1="497.80" x2="137.23" y2="497.05" stroke="#2b3a96" stroke-width="0.7" />
<line x1="124.99" y1="497.80" x2="124.99" y2="496.90" stroke="#2b3a96" stroke-width="0.7" />
<line x1="113.15" y1="497.80" x2="113.15" y2="496.46" stroke="#2b3a96" stroke-width="0.7" />
<line x1="119.36" y1="497.80" x2="119.36" y2="497.32" stroke="#2b3a96" stroke-width="0.7" />
<line x1="117.48" y1="497.80" x2="117.48" y2="497.01" stroke="#2b3a96" stroke-width="0.7" />
<line x1="146.42" y1="497.80" x2="146.42" y2="497.11" stroke="#2b3a96" stroke-width="0.7" />
<line x1="84.19" y1="497.80" x2="84.19" y2="496.39" stroke="#2b3a96" stroke-width="0.7" />
<line x1="98.77" y1="497.80" x2="98.77" y2="497.31" stroke="#2b3a96" stroke-width="0.7" />
<line x1="131.14" y1="497.80" x2="131.14" y2="496.39" stroke="#2b3a96" stroke-width="0.7" />
<line x1="105.38" y1="497.80" x2="105.38" y2="497.22" stroke="#2b3a96" stroke-width="0.7" />
<line x1="137.06" y1="497.80" x2="137.06" y2="497.03" stroke="#2b3a96" stroke-width="0.7" />
<line x1="84.51" y1="497.80" x2="84.51" y2="497.35" stroke="#2b3a96" stroke-width="0.7" />
<line x1="138.33" y1="497.80" x2="138.33" y2="497.14" stroke="#2b3a96" stroke-width="0.7" />
<line x1="73.89" y1="497.80" x2="73.89" y2="497.00" stroke="#2b3a96" stroke-width="0.7" />
<line x1="123.01" y1="497.80" x2="123.01" y2="496.30" stroke="#2b3a96" stroke-width="0.7" />
<line x1="81.58" y1="497.80" x2="81.58" y2="496.72" stroke="#2b3a96" stroke-width="0.7" />
<line x1="86.57" y1="497.80" x2="86.57" y2="496.45" stroke="#2b3a96" stroke-width="0.7" />
<line x1="104.98" y1="497.80" x2="104.98" y2="496.65" stroke="#2b3a96" stroke-width="0.7" />
<line x1="134.67" y1="497.80" x2="134.67" y2="496.81" stroke="#2b3a96" stroke-width="0.7" />
<line x1="103.59" y1="497.80" x2="103.59" y2="497.39" stroke="#2b3a96" stroke-width="0.7" />
<line x1="77.74" y1="497.80" x2="77.74" y2="496.64" stroke="#2b3a96" stroke-width="0.7" />
<line x1="128.14" y1="497.80" x2="128.14" y2="496.76" stroke="#2b3a96" stroke-width="0.7" />
<line x1="67.86" y1="497.80" x2="67.86" y2="496.58" stroke="#2b3a96" stroke-width="0.7" />
<line x1="135.62" y1="497.80" x2="135.62" y2="496.46" stroke="#2b3a96" stroke-width="0.7" />
<line x1="127.27" y1="497.80" x2="127.27" y2="496.67" stroke="#2b3a96" stroke-width="0.7" />
<line x1="93.31" y1="497.80" x2="93.31" y2="497.00" stroke="#2b3a96" stroke-width="0.7" />
<line x1="79.81" y1="497.80" x2="79.81" y2="496.69" stroke="#2b3a96" stroke-width="0.7" />
<line x1="92.42" y1="497.80" x2="92.42" y2="496.51" stroke="#2b3a96" stroke-width="0.7" />
<line x1="83.35" y1="497.80" x2="83.35" y2="497.11" stroke="#2b3a96" stroke-width="0.7" />
<line x1="70.96" y1="497.80" x2="70.96" y2="497.09" stroke="#2b3a96" stroke-width="0.7" />
<line x1="129.58" y1="497.80" x2="129.58" y2="496.49" stroke="#2b3a96" stroke-width="0.7" />
<line x1="141.37" y1="497.80" x2="141.37" y2="497.36" stroke="#2b3a96" stroke-width="0.7" />
<line x1="121.74" y1="497.80" x2="121.74" y2="496.78" stroke="#2b3a96" stroke-width="0.7" />
<line x1="93.31" y1="497.80" x2="93.31" y2="496.37" stroke="#2b3a96" stroke-width="0.7" />
<line x1="121.48" y1="497.80" x2="121.48" y2="497.06" stroke="#2b3a96" stroke-width="0.7" />
<line x1="134.06" y1="497.80" x2="134.06" y2="496.91" stroke="#2b3a96" stroke-width="0.7" />
<line x1="103.55" y1="497.80" x2="103.55" y2="496.88" stroke="#2b3a96" stroke-width="0.7" />
<line x1="103.94" y1="497.80" x2="103.94" y2="497.37" stroke="#2b3a96" stroke-width="0.7" />
<line x1="133.16" y1="497.80" x2="133.16" y2="497.07" stroke="#2b3a96" stroke-width="0.7" />
<line x1="147.40" y1="497.80" x2="147.40" y2="481.80" stroke="#1f2b8c" stroke-width="0.8" />
<line x1="146.30" y1="497.80" x2="146.30" y2="493.80" stroke="#1f2b8c" stroke-width="0.7" />
<line x1="110.80" y1="497.80" x2="110.80" y2="494.80" stroke="#1f2b8c" stroke-width="1.5" />
<line x1="111.50" y1="497.80" x2="111.50" y2="495.80" stroke="#1f2b8c" stroke-width="0.7" />
<line x1="143.00" y1="497.80" x2="143.00" y2="495.80" stroke="#1f2b8c" stroke-width="0.7" />
<line x1="145.00" y1="497.80" x2="145.00" y2="495.30" stroke="#1f2b8c" stroke-width="0.7" />
<line x1="63.20" y1="517.40" x2="148.90" y2="517.40" stroke="#a8a8a8" stroke-width="0.7" />
<path d="M63.40,517.20 L63.40,510.65 L63.90,510.97 L64.40,506.20 L64.90,506.52 L65.40,510.09 L65.90,513.45 L66.40,507.20 L66.90,508.18 L67.40,513.26 L67.90,513.32 L68.40,508.20 L68.90,510.67 L69.40,508.20 L69.90,509.59 L70.40,509.20 L70.90,512.09 L71.40,509.20 L71.90,512.65 L72.40,512.83 L72.90,513.94 L73.40,504.20 L73.90,508.43 L74.40,504.20 L74.90,509.54 L75.40,512.03 L75.90,514.52 L76.40,510.51 L76.90,513.52 L77.40,498.90 L77.90,501.23 L78.40,498.90 L78.90,502.99 L79.40,503.20 L79.90,506.72 L80.40,512.08 L80.90,514.25 L81.40,513.49 L81.90,514.97 L82.40,504.20 L82.90,508.61 L83.40,509.74 L83.90,512.67 L84.40,510.20 L84.90,512.76 L85.40,510.20 L85.90,510.80 L86.40,509.43 L86.90,510.34 L87.40,509.43 L87.90,511.18 L88.40,511.94 L88.90,513.56 L89.20,517.20Z" fill="#e3253f"/>
<rect x="109.75" y="515.70" width="0.90" height="1.50" fill="#e3253f"/>
<rect x="135.75" y="514.70" width="0.90" height="2.50" fill="#e3253f"/>
<rect x="141.55" y="514.20" width="0.90" height="3.00" fill="#e3253f"/>
<rect x="144.05" y="515.20" width="0.90" height="2.00" fill="#e3253f"/>
<rect x="146.95" y="514.20" width="0.90" height="3.00" fill="#e3253f"/>
<line x1="63.20" y1="537.20" x2="148.90" y2="537.20" stroke="#a8a8a8" stroke-width="0.7" />
<path d="M63.40,537.00 L63.40,530.00 L63.90,531.47 L64.40,530.00 L64.90,531.20 L65.40,533.55 L65.90,534.74 L66.40,530.50 L66.90,530.50 L67.40,532.74 L67.90,534.34 L68.40,533.22 L68.90,533.77 L69.40,531.50 L69.90,533.48 L70.40,534.06 L70.90,535.25 L71.40,533.23 L71.90,533.38 L72.40,528.00 L72.90,531.87 L73.40,533.88 L73.90,535.32 L74.40,534.52 L74.90,535.15 L75.40,534.54 L75.90,535.44 L76.40,531.00 L76.90,532.73 L77.40,531.00 L77.90,533.29 L78.40,533.16 L78.90,534.31 L79.40,534.13 L79.90,535.13 L80.40,532.66 L80.90,533.00 L81.40,532.00 L81.90,532.28 L82.40,532.00 L82.90,533.75 L83.40,534.30 L83.90,534.88 L84.40,533.17 L84.90,533.58 L85.40,532.00 L85.90,532.51 L86.40,532.00 L86.90,532.81 L87.40,532.95 L87.90,533.36 L88.40,530.50 L88.90,531.16 L89.20,537.00Z" fill="#e3253f"/>
<rect x="91.55" y="536.00" width="0.90" height="1.00" fill="#e3253f"/>
<rect x="95.55" y="536.20" width="0.90" height="0.80" fill="#e3253f"/>
<rect x="139.55" y="536.00" width="0.90" height="1.00" fill="#e3253f"/>
<rect x="145.05" y="534.00" width="0.90" height="3.00" fill="#e3253f"/>
<rect x="146.25" y="530.00" width="1.50" height="7.00" fill="#e3253f"/>
<rect x="147.50" y="533.00" width="1.00" height="4.00" fill="#e3253f"/>
<rect x="63.20" y="540.90" width="85.70" height="2.80" fill="#d8d8d8" />
<line x1="63.20" y1="541.20" x2="148.90" y2="541.20" stroke="#a3a3a3" stroke-width="0.8" />
<line x1="63.20" y1="543.40" x2="148.90" y2="543.40" stroke="#a3a3a3" stroke-width="0.8" />
<line x1="66.20" y1="547.20" x2="142.30" y2="547.20" stroke="#283593" stroke-width="0.7" />
<polyline points="70.00,546.30 69.20,547.20 70.00,548.10" fill="none" stroke="#283593" stroke-width="0.4"/>
<polyline points="74.50,546.30 73.70,547.20 74.50,548.10" fill="none" stroke="#283593" stroke-width="0.4"/>
<polyline points="79.00,546.30 78.20,547.20 79.00,548.10" fill="none" stroke="#283593" stroke-width="0.4"/>
<polyline points="83.50,546.30 82.70,547.20 83.50,548.10" fill="none" stroke="#283593" stroke-width="0.4"/>
<polyline points="88.00,546.30 87.20,547.20 88.00,548.10" fill="none" stroke="#283593" stroke-width="0.4"/>
<polyline points="92.50,546.30 91.70,547.20 92.50,548.10" fill="none" stroke="#283593" stroke-width="0.4"/>
<polyline points="97.00,546.30 96.20,547.20 97.00,548.10" fill="none" stroke="#283593" stroke-width="0.4"/>
<polyline points="101.50,546.30 100.70,547.20 101.50,548.10" fill="none" stroke="#283593" stroke-width="0.4"/>
<polyline points="106.00,546.30 105.20,547.20 106.00,548.10" fill="none" stroke="#283593" stroke-width="0.4"/>
<polyline points="110.50,546.30 109.70,547.20 110.50,548.10" fill="none" stroke="#283593" stroke-width="0.4"/>
<polyline points="115.00,546.30 114.20,547.20 115.00,548.10" fill="none" stroke="#283593" stroke-width="0.4"/>
<polyline points="119.50,546.30 118.70,547.20 119.50,548.10" fill="none" stroke="#283593" stroke-width="0.4"/>
<polyline points="124.00,546.30 123.20,547.20 124.00,548.10" fill="none" stroke="#283593" stroke-width="0.4"/>
<polyline points="128.50,546.30 127.70,547.20 128.50,548.10" fill="none" stroke="#283593" stroke-width="0.4"/>
<polyline points="133.00,546.30 132.20,547.20 133.00,548.10" fill="none" stroke="#283593" stroke-width="0.4"/>
<polyline points="137.50,546.30 136.70,547.20 137.50,548.10" fill="none" stroke="#283593" stroke-width="0.4"/>
<rect x="66.00" y="545.60" width="1.20" height="3.20" fill="#283593" />
<rect x="67.80" y="545.60" width="0.80" height="3.20" fill="#283593" />
<rect x="71.60" y="545.60" width="1.40" height="3.20" fill="#283593" />
<rect x="75.20" y="545.60" width="1.00" height="3.20" fill="#283593" />
<rect x="77.80" y="545.60" width="1.20" height="3.20" fill="#283593" />
<rect x="80.60" y="545.20" width="2.40" height="4.00" fill="#283593" />
<text x="85.80" y="559.40" font-size="8" stroke="#231f20" stroke-width="0.1" font-style="italic" textLength="40.70" lengthAdjust="spacingAndGlyphs" >&lt;MAP3K12</text>
<path d="M151.90,419.30 L151.90,419.08 L152.40,418.71 L152.90,418.58 L153.40,418.16 L153.90,417.45 L154.40,416.99 L154.90,416.87 L155.40,416.63 L155.90,416.67 L156.40,416.31 L156.90,416.16 L157.40,416.38 L157.90,416.26 L158.40,416.19 L158.90,415.85 L159.40,415.54 L159.90,414.92 L160.40,415.15 L160.90,415.73 L161.40,416.64 L161.90,417.51 L162.40,418.21 L162.90,418.23 L163.40,418.24 L163.90,418.63 L164.40,418.42 L164.90,418.55 L165.40,418.09 L165.90,417.80 L166.40,417.32 L166.90,416.67 L167.40,416.12 L167.90,415.77 L168.40,415.79 L168.90,415.89 L169.40,415.52 L169.90,415.25 L170.40,414.78 L170.90,414.51 L171.40,414.86 L171.90,414.89 L172.40,414.56 L172.90,414.41 L173.40,413.93 L173.90,414.58 L174.40,415.11 L174.90,415.33 L175.40,414.72 L175.90,413.10 L176.40,411.53 L176.90,409.84 L177.40,408.60 L177.90,408.89 L178.40,409.32 L178.90,407.26 L179.40,405.05 L179.90,404.28 L180.40,404.17 L180.90,404.21 L181.40,405.45 L181.90,407.41 L182.40,409.18 L182.90,412.05 L183.40,414.77 L183.90,416.12 L184.40,416.52 L184.90,417.14 L185.40,418.25 L185.90,418.26 L186.40,418.35 L186.90,418.73 L187.40,418.80 L187.90,418.65 L188.40,418.59 L188.90,418.26 L189.40,418.43 L189.90,418.22 L190.40,418.36 L190.90,418.07 L191.40,417.88 L191.90,418.33 L192.40,418.14 L192.90,418.53 L193.40,418.60 L193.90,418.26 L194.40,418.37 L194.90,418.73 L195.40,418.95 L195.90,418.40 L196.40,418.15 L196.90,417.93 L197.40,418.24 L197.90,418.45 L198.40,418.31 L198.90,418.67 L199.40,418.50 L199.90,418.71 L200.40,418.82 L200.90,418.48 L201.40,418.64 L201.90,418.21 L202.40,418.17 L202.90,418.20 L203.40,418.19 L203.90,418.46 L204.40,418.12 L204.90,418.57 L205.40,418.22 L205.90,418.28 L206.40,418.26 L206.90,418.29 L207.40,418.42 L207.90,418.66 L208.40,418.67 L208.90,418.47 L209.40,418.58 L209.90,418.31 L210.40,418.22 L210.90,418.63 L211.40,418.83 L211.90,418.42 L212.40,418.40 L212.90,418.66 L213.40,418.55 L213.90,418.46 L214.40,418.30 L214.90,418.36 L215.40,418.08 L215.90,418.56 L216.40,418.23 L216.90,418.16 L217.40,418.35 L217.90,418.66 L218.40,418.81 L218.90,418.51 L219.40,418.36 L219.90,418.36 L220.40,418.68 L220.90,418.86 L221.40,418.69 L221.90,418.86 L222.40,418.83 L222.90,419.00 L223.40,418.96 L223.90,418.71 L224.40,418.38 L224.90,418.74 L225.40,418.75 L225.90,418.74 L226.40,418.81 L226.90,418.72 L227.40,418.95 L227.90,418.96 L228.40,418.91 L228.90,418.46 L229.40,418.59 L229.90,418.39 L230.40,418.21 L230.90,418.16 L231.40,418.31 L231.90,418.49 L232.40,418.44 L232.90,418.53 L233.40,418.62 L233.90,418.63 L234.40,418.86 L234.90,418.61 L235.40,418.60 L235.90,418.84 L236.40,418.79 L236.90,418.95 L237.40,418.74 L237.90,418.57 L237.90,419.30Z" fill="#f0a12c"/>
<path d="M151.90,438.80 L151.90,438.31 L152.40,438.09 L152.90,438.11 L153.40,438.24 L153.90,437.96 L154.40,437.51 L154.90,437.38 L155.40,436.76 L155.90,436.61 L156.40,436.02 L156.90,435.93 L157.40,435.96 L157.90,436.27 L158.40,436.59 L158.90,437.11 L159.40,437.14 L159.90,437.29 L160.40,437.20 L160.90,436.61 L161.40,435.91 L161.90,435.54 L162.40,436.00 L162.90,436.49 L163.40,437.02 L163.90,437.23 L164.40,436.96 L164.90,436.96 L165.40,436.92 L165.90,436.30 L166.40,435.97 L166.90,435.82 L167.40,436.03 L167.90,435.67 L168.40,435.11 L168.90,433.98 L169.40,433.67 L169.90,433.44 L170.40,433.19 L170.90,432.50 L171.40,432.22 L171.90,431.43 L172.40,431.56 L172.90,431.92 L173.40,433.04 L173.90,434.02 L174.40,433.94 L174.90,432.65 L175.40,430.81 L175.90,428.64 L176.40,427.75 L176.90,428.14 L177.40,428.99 L177.90,429.43 L178.40,429.07 L178.90,427.69 L179.40,425.17 L179.90,422.73 L180.40,423.31 L180.90,426.93 L181.40,430.51 L181.90,432.21 L182.40,432.19 L182.90,431.72 L183.40,433.05 L183.90,435.50 L184.40,436.78 L184.90,437.82 L185.40,437.71 L185.90,438.05 L186.40,437.80 L186.90,437.77 L187.40,437.57 L187.90,437.87 L188.40,437.82 L188.90,437.61 L189.40,438.00 L189.90,438.20 L190.40,438.09 L190.90,438.29 L191.40,438.46 L191.90,438.58 L192.40,438.45 L192.90,438.17 L193.40,438.13 L193.90,438.01 L194.40,438.31 L194.90,438.44 L195.40,438.22 L195.90,438.35 L196.40,438.52 L196.90,438.59 L197.40,438.26 L197.90,437.86 L198.40,437.92 L198.90,438.27 L199.40,438.36 L199.90,438.10 L200.40,437.87 L200.90,438.11 L201.40,438.09 L201.90,438.35 L202.40,438.18 L202.90,437.95 L203.40,437.97 L203.90,437.80 L204.40,438.05 L204.90,437.92 L205.40,437.97 L205.90,437.92 L206.40,438.22 L206.90,438.16 L207.40,438.02 L207.90,438.18 L208.40,438.07 L208.90,438.33 L209.40,438.21 L209.90,437.75 L210.40,437.57 L210.90,437.41 L211.40,436.87 L211.90,436.45 L212.40,436.13 L212.90,435.93 L213.40,435.54 L213.90,435.66 L214.40,436.00 L214.90,436.47 L215.40,437.02 L215.90,437.35 L216.40,437.23 L216.90,437.13 L217.40,436.86 L217.90,436.92 L218.40,437.07 L218.90,437.15 L219.40,437.51 L219.90,437.35 L220.40,437.51 L220.90,437.84 L221.40,437.91 L221.90,437.69 L222.40,437.42 L222.90,437.32 L223.40,436.98 L223.90,436.62 L224.40,436.46 L224.90,436.17 L225.40,435.90 L225.90,436.08 L226.40,436.03 L226.90,436.27 L227.40,436.50 L227.90,437.10 L228.40,437.15 L228.90,437.37 L229.40,437.60 L229.90,437.96 L230.40,437.71 L230.90,437.72 L231.40,437.75 L231.90,438.04 L232.40,438.22 L232.90,438.33 L233.40,437.93 L233.90,437.99 L234.40,437.87 L234.90,437.80 L235.40,437.68 L235.90,437.94 L236.40,438.16 L236.90,437.80 L237.40,438.11 L237.90,437.75 L237.90,438.80Z" fill="#1f2b8c"/>
<path d="M151.90,458.50 L151.90,456.72 L152.40,454.58 L152.90,453.16 L153.40,453.04 L153.90,453.17 L154.40,454.07 L154.90,454.45 L155.40,454.67 L155.90,454.57 L156.40,454.64 L156.90,455.38 L157.40,456.10 L157.90,455.42 L158.40,455.31 L158.90,454.24 L159.40,452.72 L159.90,452.23 L160.40,452.01 L160.90,451.85 L161.40,452.01 L161.90,451.57 L162.40,451.85 L162.90,452.55 L163.40,453.00 L163.90,454.26 L164.40,455.61 L164.90,456.85 L165.40,456.77 L165.90,457.08 L166.40,456.78 L166.90,456.28 L167.40,454.91 L167.90,454.11 L168.40,452.41 L168.90,451.04 L169.40,451.20 L169.90,451.84 L170.40,452.75 L170.90,453.07 L171.40,451.89 L171.90,451.26 L172.40,450.40 L172.90,451.44 L173.40,452.42 L173.90,454.37 L174.40,454.40 L174.90,453.44 L175.40,450.22 L175.90,446.62 L176.40,445.07 L176.90,445.71 L177.40,447.72 L177.90,449.27 L178.40,449.53 L178.90,449.06 L179.40,447.47 L179.90,444.71 L180.40,442.28 L180.90,442.15 L181.40,444.93 L181.90,448.05 L182.40,449.23 L182.90,449.50 L183.40,450.64 L183.90,453.11 L184.40,455.18 L184.90,456.33 L185.40,456.94 L185.90,456.71 L186.40,456.98 L186.90,456.53 L187.40,456.64 L187.90,457.00 L188.40,456.22 L188.90,456.00 L189.40,456.30 L189.90,455.68 L190.40,455.44 L190.90,455.38 L191.40,455.94 L191.90,456.70 L192.40,457.18 L192.90,457.18 L193.40,457.04 L193.90,457.07 L194.40,457.41 L194.90,457.69 L195.40,457.01 L195.90,456.56 L196.40,456.31 L196.90,456.53 L197.40,457.01 L197.90,457.02 L198.40,456.53 L198.90,455.79 L199.40,455.47 L199.90,455.90 L200.40,455.45 L200.90,455.63 L201.40,456.12 L201.90,456.19 L202.40,456.68 L202.90,456.88 L203.40,457.52 L203.90,457.85 L204.40,457.17 L204.90,457.27 L205.40,456.95 L205.90,457.18 L206.40,457.25 L206.90,457.46 L207.40,456.51 L207.90,456.10 L208.40,454.58 L208.90,453.50 L209.40,452.25 L209.90,451.80 L210.40,451.51 L210.90,451.79 L211.40,452.56 L211.90,452.70 L212.40,452.52 L212.90,451.16 L213.40,451.23 L213.90,451.73 L214.40,452.48 L214.90,453.36 L215.40,454.25 L215.90,454.12 L216.40,454.21 L216.90,454.33 L217.40,454.37 L217.90,454.78 L218.40,455.13 L218.90,455.92 L219.40,455.75 L219.90,455.37 L220.40,454.27 L220.90,453.20 L221.40,452.45 L221.90,451.89 L222.40,452.08 L222.90,453.44 L223.40,454.98 L223.90,456.02 L224.40,456.30 L224.90,456.55 L225.40,455.77 L225.90,454.90 L226.40,453.19 L226.90,452.75 L227.40,452.90 L227.90,454.14 L228.40,455.14 L228.90,455.45 L229.40,455.64 L229.90,455.26 L230.40,455.19 L230.90,453.81 L231.40,452.67 L231.90,452.51 L232.40,452.99 L232.90,453.42 L233.40,454.90 L233.90,456.15 L234.40,456.59 L234.90,456.96 L235.40,457.20 L235.90,457.31 L236.40,457.06 L236.90,456.90 L237.40,457.08 L237.90,456.69 L237.90,458.50Z" fill="#1f2b8c"/>
<line x1="151.90" y1="478.00" x2="237.90" y2="478.00" stroke="#2b3a96" stroke-width="0.7" />
<line x1="186.14" y1="478.30" x2="186.14" y2="477.72" stroke="#2b3a96" stroke-width="0.7" />
<line x1="202.03" y1="478.30" x2="202.03" y2="477.62" stroke="#2b3a96" stroke-width="0.7" />
<line x1="193.38" y1="478.30" x2="193.38" y2="477.20" stroke="#2b3a96" stroke-width="0.7" />
<line x1="211.59" y1="478.30" x2="211.59" y2="477.57" stroke="#2b3a96" stroke-width="0.7" />
<line x1="234.62" y1="478.30" x2="234.62" y2="477.75" stroke="#2b3a96" stroke-width="0.7" />
<line x1="158.17" y1="478.30" x2="158.17" y2="476.48" stroke="#2b3a96" stroke-width="0.7" />
<line x1="236.04" y1="478.30" x2="236.04" y2="476.09" stroke="#2b3a96" stroke-width="0.7" />
<line x1="222.47" y1="478.30" x2="222.47" y2="477.58" stroke="#2b3a96" stroke-width="0.7" />
<line x1="169.24" y1="478.30" x2="169.24" y2="477.28" stroke="#2b3a96" stroke-width="0.7" />
<line x1="172.55" y1="478.30" x2="172.55" y2="477.54" stroke="#2b3a96" stroke-width="0.7" />
<line x1="178.29" y1="478.30" x2="178.29" y2="477.11" stroke="#2b3a96" stroke-width="0.7" />
<line x1="179.89" y1="478.30" x2="179.89" y2="476.20" stroke="#2b3a96" stroke-width="0.7" />
<line x1="223.30" y1="478.30" x2="223.30" y2="477.62" stroke="#2b3a96" stroke-width="0.7" />
<line x1="196.75" y1="478.30" x2="196.75" y2="476.37" stroke="#2b3a96" stroke-width="0.7" />
<line x1="155.38" y1="478.30" x2="155.38" y2="475.92" stroke="#2b3a96" stroke-width="0.7" />
<line x1="200.58" y1="478.30" x2="200.58" y2="476.96" stroke="#2b3a96" stroke-width="0.7" />
<line x1="186.78" y1="478.30" x2="186.78" y2="476.01" stroke="#2b3a96" stroke-width="0.7" />
<line x1="197.37" y1="478.30" x2="197.37" y2="476.98" stroke="#2b3a96" stroke-width="0.7" />
<line x1="233.42" y1="478.30" x2="233.42" y2="477.52" stroke="#2b3a96" stroke-width="0.7" />
<line x1="191.89" y1="478.30" x2="191.89" y2="475.95" stroke="#2b3a96" stroke-width="0.7" />
<line x1="223.69" y1="478.30" x2="223.69" y2="476.26" stroke="#2b3a96" stroke-width="0.7" />
<line x1="224.85" y1="478.30" x2="224.85" y2="477.59" stroke="#2b3a96" stroke-width="0.7" />
<line x1="209.61" y1="478.30" x2="209.61" y2="476.84" stroke="#2b3a96" stroke-width="0.7" />
<line x1="237.26" y1="478.30" x2="237.26" y2="475.85" stroke="#2b3a96" stroke-width="0.7" />
<line x1="185.98" y1="478.30" x2="185.98" y2="476.20" stroke="#2b3a96" stroke-width="0.7" />
<line x1="183.26" y1="478.30" x2="183.26" y2="477.04" stroke="#2b3a96" stroke-width="0.7" />
<line x1="213.52" y1="478.30" x2="213.52" y2="476.05" stroke="#2b3a96" stroke-width="0.7" />
<line x1="218.89" y1="478.30" x2="218.89" y2="477.50" stroke="#2b3a96" stroke-width="0.7" />
<line x1="157.99" y1="478.30" x2="157.99" y2="475.92" stroke="#2b3a96" stroke-width="0.7" />
<line x1="198.06" y1="478.30" x2="198.06" y2="476.69" stroke="#2b3a96" stroke-width="0.7" />
<line x1="212.09" y1="478.30" x2="212.09" y2="475.92" stroke="#2b3a96" stroke-width="0.7" />
<line x1="214.19" y1="478.30" x2="214.19" y2="476.61" stroke="#2b3a96" stroke-width="0.7" />
<line x1="191.10" y1="478.30" x2="191.10" y2="476.45" stroke="#2b3a96" stroke-width="0.7" />
<line x1="214.76" y1="478.30" x2="214.76" y2="476.71" stroke="#2b3a96" stroke-width="0.7" />
<line x1="234.52" y1="478.30" x2="234.52" y2="477.13" stroke="#2b3a96" stroke-width="0.7" />
<line x1="228.62" y1="478.30" x2="228.62" y2="475.81" stroke="#2b3a96" stroke-width="0.7" />
<line x1="215.11" y1="478.30" x2="215.11" y2="477.05" stroke="#2b3a96" stroke-width="0.7" />
<line x1="197.44" y1="478.30" x2="197.44" y2="477.12" stroke="#2b3a96" stroke-width="0.7" />
<line x1="220.55" y1="478.30" x2="220.55" y2="476.29" stroke="#2b3a96" stroke-width="0.7" />
<line x1="167.60" y1="478.30" x2="167.60" y2="477.11" stroke="#2b3a96" stroke-width="0.7" />
<line x1="217.06" y1="478.30" x2="217.06" y2="477.56" stroke="#2b3a96" stroke-width="0.7" />
<line x1="216.16" y1="478.30" x2="216.16" y2="476.73" stroke="#2b3a96" stroke-width="0.7" />
<line x1="166.51" y1="478.30" x2="166.51" y2="477.14" stroke="#2b3a96" stroke-width="0.7" />
<line x1="228.72" y1="478.30" x2="228.72" y2="477.67" stroke="#2b3a96" stroke-width="0.7" />
<line x1="192.90" y1="478.30" x2="192.90" y2="475.83" stroke="#2b3a96" stroke-width="0.7" />
<line x1="177.02" y1="478.30" x2="177.02" y2="476.24" stroke="#2b3a96" stroke-width="0.7" />
<line x1="186.98" y1="478.30" x2="186.98" y2="475.94" stroke="#2b3a96" stroke-width="0.7" />
<line x1="232.10" y1="478.30" x2="232.10" y2="476.33" stroke="#2b3a96" stroke-width="0.7" />
<line x1="169.75" y1="478.30" x2="169.75" y2="475.94" stroke="#2b3a96" stroke-width="0.7" />
<line x1="181.65" y1="478.30" x2="181.65" y2="476.21" stroke="#2b3a96" stroke-width="0.7" />
<line x1="208.95" y1="478.30" x2="208.95" y2="476.61" stroke="#2b3a96" stroke-width="0.7" />
<line x1="185.78" y1="478.30" x2="185.78" y2="476.30" stroke="#2b3a96" stroke-width="0.7" />
<line x1="235.71" y1="478.30" x2="235.71" y2="476.07" stroke="#2b3a96" stroke-width="0.7" />
<line x1="222.91" y1="478.30" x2="222.91" y2="477.36" stroke="#2b3a96" stroke-width="0.7" />
<line x1="173.31" y1="478.30" x2="173.31" y2="476.34" stroke="#2b3a96" stroke-width="0.7" />
<line x1="191.41" y1="478.30" x2="191.41" y2="476.02" stroke="#2b3a96" stroke-width="0.7" />
<line x1="195.04" y1="478.30" x2="195.04" y2="475.87" stroke="#2b3a96" stroke-width="0.7" />
<line x1="153.60" y1="478.30" x2="153.60" y2="475.95" stroke="#2b3a96" stroke-width="0.7" />
<line x1="177.19" y1="478.30" x2="177.19" y2="476.34" stroke="#2b3a96" stroke-width="0.7" />
<line x1="202.57" y1="478.30" x2="202.57" y2="476.57" stroke="#2b3a96" stroke-width="0.7" />
<line x1="173.70" y1="478.30" x2="173.70" y2="468.30" stroke="#1f2b8c" stroke-width="0.7" />
<line x1="175.40" y1="478.30" x2="175.40" y2="468.30" stroke="#1f2b8c" stroke-width="0.7" />
<line x1="179.90" y1="478.30" x2="179.90" y2="461.80" stroke="#8a90c8" stroke-width="0.6" />
<line x1="185.20" y1="478.30" x2="185.20" y2="470.30" stroke="#1f2b8c" stroke-width="0.7" />
<line x1="187.30" y1="478.30" x2="187.30" y2="468.30" stroke="#6a72b8" stroke-width="0.7" />
<line x1="188.50" y1="478.30" x2="188.50" y2="471.30" stroke="#1f2b8c" stroke-width="0.7" />
<line x1="199.70" y1="478.30" x2="199.70" y2="468.30" stroke="#8a90c8" stroke-width="0.7" />
<line x1="203.80" y1="478.30" x2="203.80" y2="465.30" stroke="#8a90c8" stroke-width="0.7" />
<line x1="205.00" y1="478.30" x2="205.00" y2="471.30" stroke="#1f2b8c" stroke-width="0.7" />
<line x1="219.70" y1="478.30" x2="219.70" y2="472.30" stroke="#1f2b8c" stroke-width="0.7" />
<line x1="234.20" y1="478.30" x2="234.20" y2="472.30" stroke="#6a72b8" stroke-width="0.7" />
<line x1="183.00" y1="478.30" x2="183.00" y2="473.30" stroke="#1f2b8c" stroke-width="0.7" />
<line x1="172.00" y1="478.30" x2="172.00" y2="474.30" stroke="#1f2b8c" stroke-width="0.7" />
<line x1="196.00" y1="478.30" x2="196.00" y2="474.30" stroke="#1f2b8c" stroke-width="0.7" />
<line x1="211.00" y1="478.30" x2="211.00" y2="475.30" stroke="#1f2b8c" stroke-width="0.7" />
<line x1="225.00" y1="478.30" x2="225.00" y2="475.30" stroke="#1f2b8c" stroke-width="0.7" />
<line x1="230.00" y1="478.30" x2="230.00" y2="475.30" stroke="#1f2b8c" stroke-width="0.7" />
<line x1="155.00" y1="478.30" x2="155.00" y2="475.30" stroke="#1f2b8c" stroke-width="0.7" />
<line x1="162.00" y1="478.30" x2="162.00" y2="476.30" stroke="#1f2b8c" stroke-width="0.7" />
<line x1="151.90" y1="497.50" x2="237.90" y2="497.50" stroke="#2b3a96" stroke-width="0.7" />
<line x1="189.33" y1="497.80" x2="189.33" y2="496.82" stroke="#2b3a96" stroke-width="0.7" />
<line x1="197.98" y1="497.80" x2="197.98" y2="497.00" stroke="#2b3a96" stroke-width="0.7" />
<line x1="222.84" y1="497.80" x2="222.84" y2="497.22" stroke="#2b3a96" stroke-width="0.7" />
<line x1="235.34" y1="497.80" x2="235.34" y2="496.99" stroke="#2b3a96" stroke-width="0.7" />
<line x1="160.80" y1="497.80" x2="160.80" y2="496.81" stroke="#2b3a96" stroke-width="0.7" />
<line x1="171.81" y1="497.80" x2="171.81" y2="496.62" stroke="#2b3a96" stroke-width="0.7" />
<line x1="210.50" y1="497.80" x2="210.50" y2="497.24" stroke="#2b3a96" stroke-width="0.7" />
<line x1="234.24" y1="497.80" x2="234.24" y2="497.14" stroke="#2b3a96" stroke-width="0.7" />
<line x1="233.43" y1="497.80" x2="233.43" y2="497.40" stroke="#2b3a96" stroke-width="0.7" />
<line x1="177.73" y1="497.80" x2="177.73" y2="496.90" stroke="#2b3a96" stroke-width="0.7" />
<line x1="175.95" y1="497.80" x2="175.95" y2="497.13" stroke="#2b3a96" stroke-width="0.7" />
<line x1="161.25" y1="497.80" x2="161.25" y2="496.92" stroke="#2b3a96" stroke-width="0.7" />
<line x1="224.38" y1="497.80" x2="224.38" y2="497.16" stroke="#2b3a96" stroke-width="0.7" />
<line x1="209.54" y1="497.80" x2="209.54" y2="496.97" stroke="#2b3a96" stroke-width="0.7" />
<line x1="211.83" y1="497.80" x2="211.83" y2="496.60" stroke="#2b3a96" stroke-width="0.7" />
<line x1="198.12" y1="497.80" x2="198.12" y2="497.11" stroke="#2b3a96" stroke-width="0.7" />
<line x1="193.01" y1="497.80" x2="193.01" y2="496.83" stroke="#2b3a96" stroke-width="0.7" />
<line x1="237.26" y1="497.80" x2="237.26" y2="496.61" stroke="#2b3a96" stroke-width="0.7" />
<line x1="178.17" y1="497.80" x2="178.17" y2="497.32" stroke="#2b3a96" stroke-width="0.7" />
<line x1="232.97" y1="497.80" x2="232.97" y2="497.24" stroke="#2b3a96" stroke-width="0.7" />
<line x1="210.31" y1="497.80" x2="210.31" y2="497.28" stroke="#2b3a96" stroke-width="0.7" />
<line x1="195.05" y1="497.80" x2="195.05" y2="496.82" stroke="#2b3a96" stroke-width="0.7" />
<line x1="233.38" y1="497.80" x2="233.38" y2="497.11" stroke="#2b3a96" stroke-width="0.7" />
<line x1="188.51" y1="497.80" x2="188.51" y2="496.75" stroke="#2b3a96" stroke-width="0.7" />
<line x1="196.43" y1="497.80" x2="196.43" y2="497.31" stroke="#2b3a96" stroke-width="0.7" />
<line x1="181.26" y1="497.80" x2="181.26" y2="497.21" stroke="#2b3a96" stroke-width="0.7" />
<line x1="216.80" y1="497.80" x2="216.80" y2="496.88" stroke="#2b3a96" stroke-width="0.7" />
<line x1="159.74" y1="497.80" x2="159.74" y2="497.00" stroke="#2b3a96" stroke-width="0.7" />
<line x1="218.11" y1="497.80" x2="218.11" y2="496.73" stroke="#2b3a96" stroke-width="0.7" />
<line x1="213.92" y1="497.80" x2="213.92" y2="496.93" stroke="#2b3a96" stroke-width="0.7" />
<line x1="193.68" y1="497.80" x2="193.68" y2="496.64" stroke="#2b3a96" stroke-width="0.7" />
<line x1="191.97" y1="497.80" x2="191.97" y2="497.20" stroke="#2b3a96" stroke-width="0.7" />
<line x1="178.00" y1="497.80" x2="178.00" y2="497.10" stroke="#2b3a96" stroke-width="0.7" />
<line x1="186.96" y1="497.80" x2="186.96" y2="497.18" stroke="#2b3a96" stroke-width="0.7" />
<line x1="184.37" y1="497.80" x2="184.37" y2="496.71" stroke="#2b3a96" stroke-width="0.7" />
<line x1="165.38" y1="497.80" x2="165.38" y2="497.30" stroke="#2b3a96" stroke-width="0.7" />
<line x1="171.72" y1="497.80" x2="171.72" y2="497.26" stroke="#2b3a96" stroke-width="0.7" />
<line x1="236.00" y1="497.80" x2="236.00" y2="496.73" stroke="#2b3a96" stroke-width="0.7" />
<line x1="222.53" y1="497.80" x2="222.53" y2="497.40" stroke="#2b3a96" stroke-width="0.7" />
<line x1="209.51" y1="497.80" x2="209.51" y2="496.82" stroke="#2b3a96" stroke-width="0.7" />
<line x1="176.70" y1="497.80" x2="176.70" y2="482.30" stroke="#1f2b8c" stroke-width="0.7" />
<line x1="175.80" y1="497.80" x2="175.80" y2="490.80" stroke="#1f2b8c" stroke-width="0.7" />
<line x1="163.00" y1="497.80" x2="163.00" y2="489.80" stroke="#1f2b8c" stroke-width="0.7" />
<line x1="172.80" y1="497.80" x2="172.80" y2="487.30" stroke="#1f2b8c" stroke-width="0.7" />
<line x1="171.50" y1="497.80" x2="171.50" y2="491.80" stroke="#1f2b8c" stroke-width="0.7" />
<line x1="181.60" y1="497.80" x2="181.60" y2="490.30" stroke="#1f2b8c" stroke-width="0.7" />
<line x1="183.00" y1="497.80" x2="183.00" y2="492.80" stroke="#1f2b8c" stroke-width="0.7" />
<line x1="170.00" y1="497.80" x2="170.00" y2="492.80" stroke="#1f2b8c" stroke-width="0.7" />
<line x1="167.00" y1="497.80" x2="167.00" y2="493.80" stroke="#1f2b8c" stroke-width="0.7" />
<line x1="155.00" y1="497.80" x2="155.00" y2="494.80" stroke="#1f2b8c" stroke-width="0.7" />
<line x1="158.00" y1="497.80" x2="158.00" y2="495.30" stroke="#1f2b8c" stroke-width="0.7" />
<line x1="178.50" y1="497.80" x2="178.50" y2="489.80" stroke="#1f2b8c" stroke-width="0.7" />
<line x1="174.00" y1="497.80" x2="174.00" y2="491.80" stroke="#1f2b8c" stroke-width="0.7" />
<line x1="227.60" y1="497.80" x2="227.60" y2="495.80" stroke="#1f2b8c" stroke-width="0.7" />
<line x1="229.00" y1="497.80" x2="229.00" y2="495.80" stroke="#1f2b8c" stroke-width="0.7" />
<line x1="151.90" y1="517.40" x2="237.90" y2="517.40" stroke="#a8a8a8" stroke-width="0.7" />
<path d="M180.70,517.20 L180.70,515.15 L181.20,515.86 L181.70,510.78 L182.20,511.29 L182.70,508.20 L183.20,508.33 L183.70,508.20 L184.20,511.53 L184.70,512.04 L185.20,512.94 L185.70,514.04 L186.20,514.45 L186.70,500.20 L187.20,502.93 L187.70,502.20 L188.20,507.41 L188.70,512.65 L189.20,513.37 L189.70,511.88 L190.20,513.74 L190.70,509.57 L191.20,512.07 L191.00,517.20Z" fill="#e3253f"/>
<path d="M191.00,517.20 L191.00,508.98 L191.50,512.68 L192.00,504.56 L192.50,506.48 L193.00,506.54 L193.50,509.16 L194.00,509.87 L194.50,513.49 L195.00,507.29 L195.50,508.19 L196.00,500.20 L196.50,507.90 L197.00,500.20 L197.50,508.11 L198.00,510.12 L198.50,511.00 L199.00,503.20 L199.50,504.51 L200.00,503.20 L200.50,509.01 L201.00,505.13 L201.50,505.16 L202.00,510.37 L202.50,513.59 L203.00,510.44 L203.50,512.74 L204.00,499.70 L204.50,502.38 L205.00,502.20 L205.50,508.41 L206.00,507.45 L206.50,507.55 L207.00,504.28 L207.50,510.38 L208.00,510.41 L208.50,513.68 L209.00,512.20 L209.50,513.58 L210.00,514.20 L210.50,515.20 L211.00,515.20 L211.50,515.43 L211.80,517.20Z" fill="#e3253f"/>
<line x1="151.90" y1="537.20" x2="237.90" y2="537.20" stroke="#a8a8a8" stroke-width="0.7" />
<path d="M186.90,537.00 L186.90,533.98 L187.40,534.48 L187.90,532.59 L188.40,534.30 L188.90,535.36 L189.40,535.63 L189.90,531.00 L190.40,531.92 L190.90,531.00 L191.40,533.82 L191.90,529.00 L192.40,532.28 L192.50,537.00Z" fill="#e3253f"/>
<path d="M193.00,537.00 L193.00,533.38 L193.50,533.50 L194.00,533.99 L194.50,534.90 L195.00,534.05 L195.50,535.30 L196.00,534.47 L196.50,535.68 L197.00,531.06 L197.50,531.98 L198.00,529.50 L198.50,530.40 L199.00,529.50 L199.50,532.29 L200.00,531.73 L200.50,534.03 L201.00,531.00 L201.50,532.91 L202.00,532.70 L202.50,533.50 L203.00,533.16 L203.50,534.38 L204.00,528.00 L204.50,530.84 L205.00,531.54 L205.50,532.23 L206.00,529.00 L206.50,532.09 L207.00,533.76 L207.50,534.16 L208.00,526.00 L208.50,528.73 L209.00,533.44 L209.50,533.59 L210.00,532.51 L210.50,534.30 L211.00,530.48 L211.50,533.68 L211.00,537.00Z" fill="#e3253f"/>
<rect x="186.05" y="536.00" width="0.90" height="1.00" fill="#e3253f"/>
<rect x="151.90" y="540.90" width="86.00" height="2.80" fill="#d8d8d8" />
<line x1="151.90" y1="541.20" x2="237.90" y2="541.20" stroke="#a3a3a3" stroke-width="0.8" />
<line x1="151.90" y1="543.40" x2="237.90" y2="543.40" stroke="#a3a3a3" stroke-width="0.8" />
<line x1="187.80" y1="547.20" x2="232.60" y2="547.20" stroke="#283593" stroke-width="2.0" />
<rect x="187.80" y="545.40" width="22.20" height="3.60" fill="#283593" />
<polyline points="189.2,546.3 190,547.2 189.2,548.1" fill="none" stroke="#8890c0" stroke-width="0.4"/>
<polyline points="193.2,546.3 194,547.2 193.2,548.1" fill="none" stroke="#8890c0" stroke-width="0.4"/>
<polyline points="197.2,546.3 198,547.2 197.2,548.1" fill="none" stroke="#8890c0" stroke-width="0.4"/>
<polyline points="201.2,546.3 202,547.2 201.2,548.1" fill="none" stroke="#8890c0" stroke-width="0.4"/>
<polyline points="205.2,546.3 206,547.2 205.2,548.1" fill="none" stroke="#8890c0" stroke-width="0.4"/>
<text x="182.70" y="559.40" font-size="8" stroke="#231f20" stroke-width="0.1" font-style="italic" textLength="25.00" lengthAdjust="spacingAndGlyphs" >&gt;FZD2</text>
<path d="M241.80,419.30 L241.80,419.07 L242.30,418.70 L242.80,418.66 L243.30,418.65 L243.80,418.77 L244.30,418.60 L244.80,418.73 L245.30,418.40 L245.80,418.62 L246.30,418.34 L246.80,418.67 L247.30,418.66 L247.80,418.60 L248.30,418.33 L248.80,418.23 L249.30,418.48 L249.80,418.44 L250.30,418.29 L250.80,418.59 L251.30,418.41 L251.80,418.30 L252.30,418.14 L252.80,418.48 L253.30,418.38 L253.80,418.49 L254.30,418.26 L254.80,418.23 L255.30,418.65 L255.80,418.37 L256.30,418.27 L256.80,418.52 L257.30,418.27 L257.80,418.59 L258.30,418.33 L258.80,418.38 L259.30,418.73 L259.80,418.49 L260.30,418.63 L260.80,418.86 L261.30,418.94 L261.80,419.03 L262.30,418.88 L262.80,418.88 L263.30,418.52 L263.80,418.61 L264.30,418.83 L264.80,419.01 L265.30,418.72 L265.80,418.89 L266.30,418.50 L266.80,418.39 L267.30,418.43 L267.80,418.45 L268.30,418.63 L268.80,418.38 L269.30,418.57 L269.80,418.78 L270.30,418.65 L270.80,418.41 L271.30,418.21 L271.80,418.43 L272.30,418.64 L272.80,418.64 L273.30,418.84 L273.80,418.68 L274.30,418.80 L274.80,418.83 L275.30,418.56 L275.80,418.31 L276.30,418.35 L276.80,418.57 L277.30,418.32 L277.80,418.37 L278.30,418.42 L278.80,418.54 L279.30,418.37 L279.80,418.55 L280.30,418.76 L280.80,418.77 L281.30,418.80 L281.80,418.91 L282.30,418.99 L282.80,418.71 L283.30,418.81 L283.80,418.51 L284.30,418.45 L284.80,418.31 L285.30,418.32 L285.80,418.68 L286.30,418.46 L286.80,418.78 L287.30,418.75 L287.80,418.49 L288.30,418.50 L288.80,418.29 L289.30,418.40 L289.80,418.32 L290.30,418.48 L290.80,418.61 L291.30,418.52 L291.80,418.56 L292.30,418.65 L292.80,418.45 L293.30,418.57 L293.80,418.32 L294.30,418.41 L294.80,418.53 L295.30,418.29 L295.80,418.39 L296.30,418.53 L296.80,418.49 L297.30,418.52 L297.80,418.81 L298.30,418.87 L298.80,418.87 L299.30,418.69 L299.80,418.67 L300.30,418.68 L300.80,418.73 L301.30,418.51 L301.80,418.62 L302.30,418.78 L302.80,418.87 L303.30,418.59 L303.80,418.69 L304.30,418.74 L304.80,418.89 L305.30,419.03 L305.80,418.59 L306.30,418.86 L306.80,418.89 L307.30,418.92 L307.80,418.92 L308.30,418.57 L308.80,418.83 L309.30,418.47 L309.80,418.53 L310.30,418.56 L310.80,418.56 L311.30,418.35 L311.80,418.63 L312.30,418.63 L312.80,418.79 L313.30,418.59 L313.80,418.74 L314.30,418.47 L314.80,418.47 L315.30,418.21 L315.80,417.61 L316.30,413.98 L316.80,405.84 L317.30,404.04 L317.80,411.08 L318.30,415.18 L318.80,416.68 L319.30,418.11 L319.80,418.79 L320.30,418.77 L320.80,418.58 L321.30,418.86 L321.80,418.58 L322.30,418.69 L322.80,418.75 L323.30,418.64 L323.80,418.56 L324.30,418.75 L324.80,418.59 L325.30,418.39 L325.80,418.57 L326.30,418.33 L326.80,418.25 L327.30,418.19 L327.80,418.31 L327.90,419.30Z" fill="#f0a12c"/>
<path d="M241.80,438.80 L241.80,438.00 L242.30,437.87 L242.80,437.78 L243.30,437.79 L243.80,438.04 L244.30,438.31 L244.80,438.18 L245.30,438.01 L245.80,437.68 L246.30,437.84 L246.80,437.42 L247.30,437.88 L247.80,437.70 L248.30,438.12 L248.80,438.21 L249.30,438.34 L249.80,437.71 L250.30,437.58 L250.80,437.61 L251.30,437.37 L251.80,437.15 L252.30,437.49 L252.80,437.30 L253.30,437.66 L253.80,437.53 L254.30,437.35 L254.80,437.61 L255.30,437.54 L255.80,437.44 L256.30,437.91 L256.80,437.63 L257.30,437.94 L257.80,438.04 L258.30,438.14 L258.80,438.17 L259.30,437.64 L259.80,437.74 L260.30,437.45 L260.80,437.88 L261.30,438.04 L261.80,438.33 L262.30,438.13 L262.80,437.61 L263.30,437.65 L263.80,437.51 L264.30,437.89 L264.80,438.21 L265.30,438.26 L265.80,437.68 L266.30,437.55 L266.80,437.28 L267.30,437.24 L267.80,437.65 L268.30,437.95 L268.80,437.78 L269.30,438.07 L269.80,437.96 L270.30,437.85 L270.80,438.02 L271.30,437.52 L271.80,437.99 L272.30,437.54 L272.80,438.01 L273.30,437.52 L273.80,437.69 L274.30,438.01 L274.80,437.81 L275.30,437.61 L275.80,437.76 L276.30,437.78 L276.80,437.63 L277.30,437.87 L277.80,437.98 L278.30,437.73 L278.80,437.78 L279.30,437.49 L279.80,437.64 L280.30,437.50 L280.80,437.57 L281.30,437.86 L281.80,437.93 L282.30,437.82 L282.80,437.82 L283.30,437.62 L283.80,437.53 L284.30,437.46 L284.80,437.79 L285.30,437.48 L285.80,437.24 L286.30,437.57 L286.80,437.31 L287.30,437.51 L287.80,437.80 L288.30,438.15 L288.80,437.84 L289.30,437.65 L289.80,437.56 L290.30,437.70 L290.80,438.06 L291.30,438.35 L291.80,438.02 L292.30,437.79 L292.80,437.40 L293.30,437.29 L293.80,437.44 L294.30,437.17 L294.80,437.81 L295.30,437.43 L295.80,437.55 L296.30,437.66 L296.80,437.60 L297.30,437.79 L297.80,437.78 L298.30,437.45 L298.80,437.42 L299.30,437.21 L299.80,437.44 L300.30,437.83 L300.80,437.80 L301.30,437.54 L301.80,437.68 L302.30,437.33 L302.80,436.84 L303.30,436.59 L303.80,436.71 L304.30,436.40 L304.80,436.88 L305.30,436.84 L305.80,437.70 L306.30,437.63 L306.80,437.64 L307.30,437.38 L307.80,437.25 L308.30,437.12 L308.80,437.04 L309.30,436.49 L309.80,434.94 L310.30,433.17 L310.80,433.11 L311.30,434.57 L311.80,435.44 L312.30,434.84 L312.80,434.48 L313.30,433.18 L313.80,430.91 L314.30,430.34 L314.80,433.55 L315.30,436.56 L315.80,436.52 L316.30,432.18 L316.80,424.56 L317.30,423.28 L317.80,430.11 L318.30,434.34 L318.80,434.80 L319.30,435.18 L319.80,436.11 L320.30,436.79 L320.80,437.22 L321.30,437.71 L321.80,437.62 L322.30,437.61 L322.80,438.01 L323.30,438.13 L323.80,438.18 L324.30,438.31 L324.80,437.71 L325.30,436.96 L325.80,436.17 L326.30,435.05 L326.80,435.33 L327.30,436.44 L327.80,437.27 L327.90,438.80Z" fill="#1f2b8c"/>
<path d="M241.80,458.50 L241.80,458.47 L242.30,457.55 L242.80,457.74 L243.30,457.09 L243.80,456.75 L244.30,457.20 L244.80,457.22 L245.30,457.35 L245.80,457.42 L246.30,457.09 L246.80,456.86 L247.30,457.27 L247.80,457.24 L248.30,457.09 L248.80,457.08 L249.30,457.53 L249.80,457.54 L250.30,457.45 L250.80,456.98 L251.30,456.80 L251.80,456.83 L252.30,457.23 L252.80,456.84 L253.30,457.28 L253.80,457.45 L254.30,457.72 L254.80,457.46 L255.30,457.11 L255.80,457.00 L256.30,456.80 L256.80,456.81 L257.30,456.86 L257.80,457.27 L258.30,456.84 L258.80,456.56 L259.30,456.63 L259.80,456.42 L260.30,456.40 L260.80,456.40 L261.30,456.51 L261.80,456.53 L262.30,456.65 L262.80,457.27 L263.30,456.96 L263.80,457.24 L264.30,457.12 L264.80,456.81 L265.30,457.01 L265.80,457.35 L266.30,457.28 L266.80,456.93 L267.30,456.75 L267.80,456.49 L268.30,456.43 L268.80,456.48 L269.30,456.82 L269.80,457.32 L270.30,456.90 L270.80,457.50 L271.30,456.99 L271.80,456.98 L272.30,457.36 L272.80,457.66 L273.30,457.31 L273.80,457.71 L274.30,457.61 L274.80,457.87 L275.30,457.99 L275.80,457.95 L276.30,457.55 L276.80,457.90 L277.30,457.32 L277.80,457.19 L278.30,457.46 L278.80,457.18 L279.30,457.62 L279.80,457.62 L280.30,457.21 L280.80,456.39 L281.30,455.85 L281.80,456.11 L282.30,455.59 L282.80,456.38 L283.30,457.06 L283.80,457.17 L284.30,457.71 L284.80,457.66 L285.30,457.81 L285.80,457.65 L286.30,457.66 L286.80,457.59 L287.30,457.63 L287.80,457.52 L288.30,457.28 L288.80,457.36 L289.30,457.31 L289.80,457.50 L290.30,457.52 L290.80,457.84 L291.30,457.66 L291.80,457.51 L292.30,457.75 L292.80,457.74 L293.30,457.46 L293.80,457.18 L294.30,456.45 L294.80,455.81 L295.30,454.70 L295.80,455.20 L296.30,455.52 L296.80,456.63 L297.30,457.32 L297.80,457.55 L298.30,457.04 L298.80,456.96 L299.30,456.67 L299.80,456.45 L300.30,456.82 L300.80,456.72 L301.30,457.39 L301.80,457.06 L302.30,457.39 L302.80,457.51 L303.30,457.26 L303.80,457.27 L304.30,457.23 L304.80,457.43 L305.30,457.48 L305.80,457.01 L306.30,457.58 L306.80,457.93 L307.30,457.54 L307.80,457.84 L308.30,457.86 L308.80,457.86 L309.30,458.09 L309.80,457.88 L310.30,457.19 L310.80,456.89 L311.30,457.49 L311.80,456.95 L312.30,456.70 L312.80,456.60 L313.30,457.19 L313.80,457.41 L314.30,457.69 L314.80,457.31 L315.30,457.05 L315.80,456.56 L316.30,451.36 L316.80,443.19 L317.30,444.46 L317.80,452.97 L318.30,456.33 L318.80,456.95 L319.30,456.83 L319.80,456.62 L320.30,457.31 L320.80,457.74 L321.30,457.82 L321.80,457.20 L322.30,457.41 L322.80,457.48 L323.30,457.36 L323.80,457.29 L324.30,457.34 L324.80,457.02 L325.30,457.17 L325.80,456.96 L326.30,457.45 L326.80,457.15 L327.30,457.24 L327.80,457.26 L327.90,458.50Z" fill="#1f2b8c"/>
<line x1="241.80" y1="478.00" x2="327.90" y2="478.00" stroke="#2b3a96" stroke-width="0.7" />
<line x1="253.69" y1="478.30" x2="253.69" y2="477.64" stroke="#2b3a96" stroke-width="0.7" />
<line x1="314.81" y1="478.30" x2="314.81" y2="477.63" stroke="#2b3a96" stroke-width="0.7" />
<line x1="262.11" y1="478.30" x2="262.11" y2="477.50" stroke="#2b3a96" stroke-width="0.7" />
<line x1="268.34" y1="478.30" x2="268.34" y2="477.55" stroke="#2b3a96" stroke-width="0.7" />
<line x1="261.88" y1="478.30" x2="261.88" y2="477.45" stroke="#2b3a96" stroke-width="0.7" />
<line x1="246.61" y1="478.30" x2="246.61" y2="477.73" stroke="#2b3a96" stroke-width="0.7" />
<line x1="321.41" y1="478.30" x2="321.41" y2="477.85" stroke="#2b3a96" stroke-width="0.7" />
<line x1="275.52" y1="478.30" x2="275.52" y2="477.79" stroke="#2b3a96" stroke-width="0.7" />
<line x1="274.75" y1="478.30" x2="274.75" y2="477.56" stroke="#2b3a96" stroke-width="0.7" />
<line x1="323.52" y1="478.30" x2="323.52" y2="477.33" stroke="#2b3a96" stroke-width="0.7" />
<line x1="268.61" y1="478.30" x2="268.61" y2="477.44" stroke="#2b3a96" stroke-width="0.7" />
<line x1="281.36" y1="478.30" x2="281.36" y2="477.84" stroke="#2b3a96" stroke-width="0.7" />
<line x1="265.13" y1="478.30" x2="265.13" y2="477.71" stroke="#2b3a96" stroke-width="0.7" />
<line x1="276.10" y1="478.30" x2="276.10" y2="477.30" stroke="#2b3a96" stroke-width="0.7" />
<line x1="310.44" y1="478.30" x2="310.44" y2="477.84" stroke="#2b3a96" stroke-width="0.7" />
<line x1="291.65" y1="478.30" x2="291.65" y2="477.72" stroke="#2b3a96" stroke-width="0.7" />
<line x1="264.43" y1="478.30" x2="264.43" y2="477.38" stroke="#2b3a96" stroke-width="0.7" />
<line x1="248.05" y1="478.30" x2="248.05" y2="477.46" stroke="#2b3a96" stroke-width="0.7" />
<line x1="317.86" y1="478.30" x2="317.86" y2="477.90" stroke="#2b3a96" stroke-width="0.7" />
<line x1="267.30" y1="478.30" x2="267.30" y2="477.43" stroke="#2b3a96" stroke-width="0.7" />
<line x1="246.30" y1="478.30" x2="246.30" y2="477.68" stroke="#2b3a96" stroke-width="0.7" />
<line x1="262.31" y1="478.30" x2="262.31" y2="477.37" stroke="#2b3a96" stroke-width="0.7" />
<line x1="311.28" y1="478.30" x2="311.28" y2="477.44" stroke="#2b3a96" stroke-width="0.7" />
<line x1="265.79" y1="478.30" x2="265.79" y2="477.83" stroke="#2b3a96" stroke-width="0.7" />
<line x1="319.25" y1="478.30" x2="319.25" y2="477.76" stroke="#2b3a96" stroke-width="0.7" />
<line x1="260.68" y1="478.30" x2="260.68" y2="477.85" stroke="#2b3a96" stroke-width="0.7" />
<line x1="312.41" y1="478.30" x2="312.41" y2="477.63" stroke="#2b3a96" stroke-width="0.7" />
<line x1="257.32" y1="478.30" x2="257.32" y2="477.89" stroke="#2b3a96" stroke-width="0.7" />
<line x1="281.30" y1="478.30" x2="281.30" y2="477.88" stroke="#2b3a96" stroke-width="0.7" />
<line x1="242.50" y1="478.30" x2="242.50" y2="477.61" stroke="#2b3a96" stroke-width="0.7" />
<line x1="290.26" y1="478.30" x2="290.26" y2="477.58" stroke="#2b3a96" stroke-width="0.7" />
<line x1="320.47" y1="478.30" x2="320.47" y2="477.87" stroke="#2b3a96" stroke-width="0.7" />
<line x1="247.96" y1="478.30" x2="247.96" y2="477.84" stroke="#2b3a96" stroke-width="0.7" />
<line x1="294.52" y1="478.30" x2="294.52" y2="477.51" stroke="#2b3a96" stroke-width="0.7" />
<line x1="261.63" y1="478.30" x2="261.63" y2="477.56" stroke="#2b3a96" stroke-width="0.7" />
<line x1="317.50" y1="478.30" x2="317.50" y2="462.80" stroke="#6a72b8" stroke-width="0.7" />
<line x1="318.30" y1="478.30" x2="318.30" y2="474.30" stroke="#1f2b8c" stroke-width="0.7" />
<line x1="241.80" y1="497.50" x2="327.90" y2="497.50" stroke="#2b3a96" stroke-width="0.7" />
<line x1="257.84" y1="497.80" x2="257.84" y2="497.06" stroke="#2b3a96" stroke-width="0.7" />
<line x1="296.02" y1="497.80" x2="296.02" y2="497.23" stroke="#2b3a96" stroke-width="0.7" />
<line x1="257.04" y1="497.80" x2="257.04" y2="496.93" stroke="#2b3a96" stroke-width="0.7" />
<line x1="294.78" y1="497.80" x2="294.78" y2="497.29" stroke="#2b3a96" stroke-width="0.7" />
<line x1="290.54" y1="497.80" x2="290.54" y2="496.98" stroke="#2b3a96" stroke-width="0.7" />
<line x1="301.96" y1="497.80" x2="301.96" y2="496.91" stroke="#2b3a96" stroke-width="0.7" />
<line x1="323.33" y1="497.80" x2="323.33" y2="496.99" stroke="#2b3a96" stroke-width="0.7" />
<line x1="325.21" y1="497.80" x2="325.21" y2="497.10" stroke="#2b3a96" stroke-width="0.7" />
<line x1="264.44" y1="497.80" x2="264.44" y2="496.85" stroke="#2b3a96" stroke-width="0.7" />
<line x1="265.03" y1="497.80" x2="265.03" y2="497.31" stroke="#2b3a96" stroke-width="0.7" />
<line x1="253.44" y1="497.80" x2="253.44" y2="497.08" stroke="#2b3a96" stroke-width="0.7" />
<line x1="319.67" y1="497.80" x2="319.67" y2="497.19" stroke="#2b3a96" stroke-width="0.7" />
<line x1="323.52" y1="497.80" x2="323.52" y2="496.87" stroke="#2b3a96" stroke-width="0.7" />
<line x1="263.54" y1="497.80" x2="263.54" y2="497.10" stroke="#2b3a96" stroke-width="0.7" />
<line x1="292.64" y1="497.80" x2="292.64" y2="497.01" stroke="#2b3a96" stroke-width="0.7" />
<line x1="300.61" y1="497.80" x2="300.61" y2="497.36" stroke="#2b3a96" stroke-width="0.7" />
<line x1="301.64" y1="497.80" x2="301.64" y2="497.30" stroke="#2b3a96" stroke-width="0.7" />
<line x1="284.38" y1="497.80" x2="284.38" y2="497.08" stroke="#2b3a96" stroke-width="0.7" />
<line x1="251.53" y1="497.80" x2="251.53" y2="497.02" stroke="#2b3a96" stroke-width="0.7" />
<line x1="290.78" y1="497.80" x2="290.78" y2="497.26" stroke="#2b3a96" stroke-width="0.7" />
<line x1="306.83" y1="497.80" x2="306.83" y2="497.31" stroke="#2b3a96" stroke-width="0.7" />
<line x1="320.89" y1="497.80" x2="320.89" y2="497.35" stroke="#2b3a96" stroke-width="0.7" />
<line x1="311.03" y1="497.80" x2="311.03" y2="497.08" stroke="#2b3a96" stroke-width="0.7" />
<line x1="254.55" y1="497.80" x2="254.55" y2="497.24" stroke="#2b3a96" stroke-width="0.7" />
<line x1="324.58" y1="497.80" x2="324.58" y2="497.00" stroke="#2b3a96" stroke-width="0.7" />
<line x1="293.00" y1="497.80" x2="293.00" y2="496.98" stroke="#2b3a96" stroke-width="0.7" />
<line x1="255.89" y1="497.80" x2="255.89" y2="497.08" stroke="#2b3a96" stroke-width="0.7" />
<line x1="317.50" y1="497.80" x2="317.50" y2="497.22" stroke="#2b3a96" stroke-width="0.7" />
<line x1="279.89" y1="497.80" x2="279.89" y2="496.80" stroke="#2b3a96" stroke-width="0.7" />
<line x1="319.81" y1="497.80" x2="319.81" y2="497.22" stroke="#2b3a96" stroke-width="0.7" />
<line x1="321.85" y1="497.80" x2="321.85" y2="497.40" stroke="#2b3a96" stroke-width="0.7" />
<line x1="289.05" y1="497.80" x2="289.05" y2="496.89" stroke="#2b3a96" stroke-width="0.7" />
<line x1="303.48" y1="497.80" x2="303.48" y2="497.04" stroke="#2b3a96" stroke-width="0.7" />
<line x1="266.13" y1="497.80" x2="266.13" y2="496.82" stroke="#2b3a96" stroke-width="0.7" />
<line x1="290.20" y1="497.80" x2="290.20" y2="496.86" stroke="#2b3a96" stroke-width="0.7" />
<line x1="320.72" y1="497.80" x2="320.72" y2="496.98" stroke="#2b3a96" stroke-width="0.7" />
<line x1="283.35" y1="497.80" x2="283.35" y2="497.00" stroke="#2b3a96" stroke-width="0.7" />
<line x1="256.86" y1="497.80" x2="256.86" y2="497.19" stroke="#2b3a96" stroke-width="0.7" />
<line x1="325.10" y1="497.80" x2="325.10" y2="497.30" stroke="#2b3a96" stroke-width="0.7" />
<line x1="245.10" y1="497.80" x2="245.10" y2="496.86" stroke="#2b3a96" stroke-width="0.7" />
<line x1="284.87" y1="497.80" x2="284.87" y2="497.23" stroke="#2b3a96" stroke-width="0.7" />
<line x1="321.08" y1="497.80" x2="321.08" y2="496.94" stroke="#2b3a96" stroke-width="0.7" />
<line x1="280.58" y1="497.80" x2="280.58" y2="497.11" stroke="#2b3a96" stroke-width="0.7" />
<line x1="269.15" y1="497.80" x2="269.15" y2="497.11" stroke="#2b3a96" stroke-width="0.7" />
<line x1="299.39" y1="497.80" x2="299.39" y2="497.00" stroke="#2b3a96" stroke-width="0.7" />
<line x1="315.90" y1="497.80" x2="315.90" y2="481.30" stroke="#6a72b8" stroke-width="0.8" />
<line x1="316.60" y1="497.80" x2="316.60" y2="494.80" stroke="#1f2b8c" stroke-width="0.7" />
<line x1="241.80" y1="517.40" x2="327.90" y2="517.40" stroke="#a8a8a8" stroke-width="0.7" />
<rect x="268.15" y="509.70" width="0.90" height="7.50" fill="#e3253f"/>
<rect x="293.55" y="503.70" width="1.10" height="13.50" fill="#e3253f"/>
<rect x="295.00" y="515.70" width="0.80" height="1.50" fill="#e3253f"/>
<rect x="315.05" y="503.20" width="0.90" height="14.00" fill="#e3253f"/>
<rect x="316.50" y="515.20" width="1.00" height="2.00" fill="#e3253f"/>
<line x1="241.80" y1="537.20" x2="327.90" y2="537.20" stroke="#a8a8a8" stroke-width="0.7" />
<rect x="268.15" y="532.50" width="0.90" height="4.50" fill="#e3253f"/>
<rect x="293.55" y="530.50" width="1.10" height="6.50" fill="#e3253f"/>
<rect x="314.85" y="531.50" width="0.90" height="5.50" fill="#e3253f"/>
<rect x="316.15" y="532.00" width="1.30" height="5.00" fill="#e3253f"/>
<rect x="317.60" y="535.50" width="0.80" height="1.50" fill="#e3253f"/>
<rect x="320.70" y="536.40" width="0.60" height="0.60" fill="#e3253f"/>
<rect x="241.80" y="541.00" width="86.10" height="2.70" fill="#bdbdbd" />
<line x1="242.40" y1="547.20" x2="315.90" y2="547.20" stroke="#283593" stroke-width="0.7" />
<polyline points="246.20,546.30 245.40,547.20 246.20,548.10" fill="none" stroke="#283593" stroke-width="0.4"/>
<polyline points="250.70,546.30 249.90,547.20 250.70,548.10" fill="none" stroke="#283593" stroke-width="0.4"/>
<polyline points="255.20,546.30 254.40,547.20 255.20,548.10" fill="none" stroke="#283593" stroke-width="0.4"/>
<polyline points="259.70,546.30 258.90,547.20 259.70,548.10" fill="none" stroke="#283593" stroke-width="0.4"/>
<polyline points="264.20,546.30 263.40,547.20 264.20,548.10" fill="none" stroke="#283593" stroke-width="0.4"/>
<polyline points="268.70,546.30 267.90,547.20 268.70,548.10" fill="none" stroke="#283593" stroke-width="0.4"/>
<polyline points="273.20,546.30 272.40,547.20 273.20,548.10" fill="none" stroke="#283593" stroke-width="0.4"/>
<polyline points="277.70,546.30 276.90,547.20 277.70,548.10" fill="none" stroke="#283593" stroke-width="0.4"/>
<polyline points="282.20,546.30 281.40,547.20 282.20,548.10" fill="none" stroke="#283593" stroke-width="0.4"/>
<polyline points="286.70,546.30 285.90,547.20 286.70,548.10" fill="none" stroke="#283593" stroke-width="0.4"/>
<polyline points="291.20,546.30 290.40,547.20 291.20,548.10" fill="none" stroke="#283593" stroke-width="0.4"/>
<polyline points="295.70,546.30 294.90,547.20 295.70,548.10" fill="none" stroke="#283593" stroke-width="0.4"/>
<polyline points="300.20,546.30 299.40,547.20 300.20,548.10" fill="none" stroke="#283593" stroke-width="0.4"/>
<polyline points="304.70,546.30 303.90,547.20 304.70,548.10" fill="none" stroke="#283593" stroke-width="0.4"/>
<polyline points="309.20,546.30 308.40,547.20 309.20,548.10" fill="none" stroke="#283593" stroke-width="0.4"/>
<polyline points="313.70,546.30 312.90,547.20 313.70,548.10" fill="none" stroke="#283593" stroke-width="0.4"/>
<rect x="268.20" y="545.90" width="0.80" height="2.60" fill="#283593" />
<rect x="293.60" y="545.90" width="1.00" height="2.60" fill="#283593" />
<rect x="315.20" y="546.10" width="0.80" height="2.20" fill="#283593" />
<text x="268.80" y="559.40" font-size="8" stroke="#231f20" stroke-width="0.1" font-style="italic" textLength="32.40" lengthAdjust="spacingAndGlyphs" >&lt;HDAC5</text>
<path d="M331.50,419.30 L331.50,417.90 L332.00,417.71 L332.50,417.29 L333.00,417.05 L333.50,416.90 L334.00,417.11 L334.50,416.80 L335.00,417.19 L335.50,416.94 L336.00,416.85 L336.50,417.13 L337.00,416.66 L337.50,416.51 L338.00,416.78 L338.50,416.32 L339.00,415.99 L339.50,415.81 L340.00,416.04 L340.50,415.65 L341.00,415.21 L341.50,415.05 L342.00,415.53 L342.50,415.64 L343.00,416.20 L343.50,416.34 L344.00,416.71 L344.50,416.74 L345.00,417.05 L345.50,417.01 L346.00,417.04 L346.50,417.15 L347.00,416.74 L347.50,416.45 L348.00,416.52 L348.50,416.41 L349.00,416.46 L349.50,416.39 L350.00,416.72 L350.50,416.90 L351.00,416.98 L351.50,416.86 L352.00,416.78 L352.50,416.42 L353.00,416.28 L353.50,416.55 L354.00,416.68 L354.50,416.50 L355.00,416.35 L355.50,416.79 L356.00,416.76 L356.50,417.05 L357.00,416.70 L357.50,416.26 L358.00,416.61 L358.50,416.50 L359.00,416.16 L359.50,416.43 L360.00,416.78 L360.50,416.58 L361.00,416.44 L361.50,416.30 L362.00,416.05 L362.50,416.27 L363.00,416.22 L363.50,415.94 L364.00,416.34 L364.50,416.67 L365.00,416.46 L365.50,416.65 L366.00,416.25 L366.50,415.95 L367.00,415.95 L367.50,415.93 L368.00,415.91 L368.50,416.40 L369.00,416.68 L369.50,416.80 L370.00,416.38 L370.50,416.00 L371.00,416.21 L371.50,416.40 L372.00,416.28 L372.50,415.98 L373.00,415.88 L373.50,416.31 L374.00,416.48 L374.50,416.59 L375.00,415.99 L375.50,415.61 L376.00,416.10 L376.50,415.80 L377.00,415.48 L377.50,415.30 L378.00,415.74 L378.50,415.48 L379.00,415.88 L379.50,416.26 L380.00,416.42 L380.50,416.54 L381.00,415.90 L381.50,415.88 L382.00,415.65 L382.50,415.83 L383.00,415.75 L383.50,415.51 L384.00,415.78 L384.50,415.39 L385.00,415.90 L385.50,415.58 L386.00,415.90 L386.50,415.74 L387.00,415.87 L387.50,415.53 L388.00,415.80 L388.50,415.80 L389.00,415.53 L389.50,415.42 L390.00,415.56 L390.50,415.70 L391.00,415.20 L391.50,414.99 L392.00,415.26 L392.50,415.07 L393.00,414.83 L393.50,414.10 L394.00,414.24 L394.50,413.71 L395.00,413.79 L395.50,413.71 L396.00,413.74 L396.50,413.14 L397.00,412.60 L397.50,412.45 L398.00,412.11 L398.50,411.20 L399.00,409.36 L399.50,407.81 L400.00,406.18 L400.50,405.39 L401.00,404.65 L401.50,404.38 L402.00,403.20 L402.50,402.01 L403.00,401.96 L403.50,403.62 L404.00,405.31 L404.50,406.92 L405.00,408.05 L405.50,409.23 L406.00,410.01 L406.50,410.10 L407.00,410.48 L407.50,410.32 L408.00,410.79 L408.50,410.80 L409.00,410.92 L409.50,410.91 L410.00,410.97 L410.50,411.21 L411.00,411.52 L411.50,411.63 L412.00,412.00 L412.50,412.20 L413.00,412.31 L413.50,412.88 L414.00,413.16 L414.50,413.67 L415.00,413.54 L415.50,413.21 L416.00,412.76 L416.50,411.92 L417.00,411.78 L417.50,412.77 L417.80,419.30Z" fill="#f0a12c"/>
<path d="M331.50,438.80 L331.50,438.17 L332.00,438.35 L332.50,438.03 L333.00,438.03 L333.50,437.92 L334.00,437.96 L334.50,437.98 L335.00,437.79 L335.50,437.55 L336.00,437.92 L336.50,437.68 L337.00,437.65 L337.50,437.74 L338.00,437.63 L338.50,437.52 L339.00,437.50 L339.50,437.65 L340.00,437.48 L340.50,437.41 L341.00,437.60 L341.50,437.96 L342.00,438.07 L342.50,438.16 L343.00,438.13 L343.50,437.69 L344.00,438.05 L344.50,437.77 L345.00,437.75 L345.50,437.95 L346.00,437.77 L346.50,437.90 L347.00,438.08 L347.50,437.87 L348.00,437.73 L348.50,437.56 L349.00,437.73 L349.50,437.72 L350.00,437.53 L350.50,437.41 L351.00,437.79 L351.50,437.84 L352.00,438.07 L352.50,438.32 L353.00,438.41 L353.50,438.00 L354.00,438.03 L354.50,438.08 L355.00,437.73 L355.50,437.51 L356.00,437.30 L356.50,437.76 L357.00,438.10 L357.50,438.32 L358.00,438.20 L358.50,437.83 L359.00,437.56 L359.50,437.57 L360.00,437.42 L360.50,437.51 L361.00,437.92 L361.50,438.23 L362.00,438.36 L362.50,438.43 L363.00,438.08 L363.50,437.94 L364.00,437.83 L364.50,437.87 L365.00,437.70 L365.50,437.68 L366.00,437.59 L366.50,437.78 L367.00,437.77 L367.50,438.17 L368.00,437.68 L368.50,437.72 L369.00,437.81 L369.50,437.23 L370.00,437.07 L370.50,436.67 L371.00,436.39 L371.50,436.47 L372.00,436.53 L372.50,436.88 L373.00,437.26 L373.50,437.43 L374.00,437.40 L374.50,437.76 L375.00,438.08 L375.50,437.67 L376.00,437.69 L376.50,437.42 L377.00,437.41 L377.50,437.05 L378.00,437.31 L378.50,437.24 L379.00,436.55 L379.50,436.73 L380.00,436.48 L380.50,436.54 L381.00,436.50 L381.50,436.74 L382.00,437.04 L382.50,437.23 L383.00,437.83 L383.50,437.75 L384.00,437.73 L384.50,437.38 L385.00,437.29 L385.50,437.00 L386.00,436.62 L386.50,435.81 L387.00,435.71 L387.50,436.07 L388.00,435.97 L388.50,435.80 L389.00,435.94 L389.50,435.76 L390.00,435.23 L390.50,434.49 L391.00,433.55 L391.50,433.24 L392.00,432.59 L392.50,432.29 L393.00,432.19 L393.50,431.69 L394.00,431.73 L394.50,432.32 L395.00,432.88 L395.50,433.05 L396.00,432.11 L396.50,430.67 L397.00,428.69 L397.50,427.57 L398.00,428.04 L398.50,428.02 L399.00,425.83 L399.50,423.67 L400.00,425.43 L400.50,429.82 L401.00,434.53 L401.50,436.95 L402.00,437.55 L402.50,437.89 L403.00,437.65 L403.50,437.59 L404.00,437.43 L404.50,436.99 L405.00,436.06 L405.50,435.83 L406.00,435.96 L406.50,436.34 L407.00,436.85 L407.50,437.25 L408.00,437.76 L408.50,437.76 L409.00,437.52 L409.50,437.48 L410.00,437.63 L410.50,437.85 L411.00,437.83 L411.50,437.37 L412.00,437.37 L412.50,437.13 L413.00,436.66 L413.50,436.47 L414.00,436.19 L414.50,435.95 L415.00,435.72 L415.50,435.92 L416.00,436.50 L416.50,436.52 L417.00,436.81 L417.50,437.21 L417.80,438.80Z" fill="#1f2b8c"/>
<path d="M331.50,458.50 L331.50,457.08 L332.00,456.68 L332.50,455.70 L333.00,454.93 L333.50,454.31 L334.00,454.37 L334.50,454.83 L335.00,454.25 L335.50,454.09 L336.00,454.05 L336.50,454.19 L337.00,454.03 L337.50,454.75 L338.00,454.70 L338.50,454.21 L339.00,454.44 L339.50,454.20 L340.00,454.00 L340.50,455.15 L341.00,455.83 L341.50,455.24 L342.00,454.53 L342.50,454.75 L343.00,454.52 L343.50,454.49 L344.00,454.92 L344.50,454.60 L345.00,454.50 L345.50,454.09 L346.00,454.21 L346.50,455.52 L347.00,455.19 L347.50,454.79 L348.00,454.66 L348.50,455.31 L349.00,455.60 L349.50,455.76 L350.00,455.00 L350.50,454.90 L351.00,454.32 L351.50,455.40 L352.00,455.39 L352.50,454.81 L353.00,455.20 L353.50,454.55 L354.00,454.80 L354.50,454.98 L355.00,454.83 L355.50,455.10 L356.00,454.79 L356.50,454.93 L357.00,454.72 L357.50,455.66 L358.00,456.11 L358.50,456.54 L359.00,455.77 L359.50,454.93 L360.00,454.74 L360.50,454.64 L361.00,454.92 L361.50,454.78 L362.00,455.23 L362.50,455.37 L363.00,454.66 L363.50,454.72 L364.00,455.22 L364.50,455.58 L365.00,455.80 L365.50,455.68 L366.00,456.16 L366.50,455.82 L367.00,456.32 L367.50,456.43 L368.00,456.09 L368.50,455.16 L369.00,455.09 L369.50,454.53 L370.00,454.02 L370.50,454.46 L371.00,454.65 L371.50,454.32 L372.00,453.30 L372.50,453.81 L373.00,453.12 L373.50,453.96 L374.00,453.86 L374.50,454.70 L375.00,454.67 L375.50,455.38 L376.00,455.45 L376.50,454.92 L377.00,454.12 L377.50,454.35 L378.00,454.75 L378.50,453.73 L379.00,454.53 L379.50,454.61 L380.00,453.70 L380.50,453.56 L381.00,453.22 L381.50,453.19 L382.00,454.04 L382.50,453.85 L383.00,454.65 L383.50,455.21 L384.00,454.90 L384.50,454.45 L385.00,455.03 L385.50,455.38 L386.00,455.30 L386.50,455.56 L387.00,455.53 L387.50,455.00 L388.00,455.44 L388.50,454.55 L389.00,454.66 L389.50,453.68 L390.00,453.31 L390.50,453.24 L391.00,453.26 L391.50,453.32 L392.00,453.37 L392.50,452.51 L393.00,451.90 L393.50,451.07 L394.00,450.16 L394.50,448.44 L395.00,447.95 L395.50,447.92 L396.00,447.29 L396.50,447.19 L397.00,445.21 L397.50,445.00 L398.00,446.35 L398.50,448.25 L399.00,446.66 L399.50,443.59 L400.00,443.28 L400.50,446.41 L401.00,449.92 L401.50,453.13 L402.00,455.28 L402.50,455.67 L403.00,455.43 L403.50,454.82 L404.00,454.75 L404.50,455.46 L405.00,455.91 L405.50,455.63 L406.00,456.37 L406.50,455.83 L407.00,454.86 L407.50,455.73 L408.00,455.08 L408.50,455.04 L409.00,454.56 L409.50,454.78 L410.00,454.66 L410.50,454.88 L411.00,455.70 L411.50,455.08 L412.00,454.98 L412.50,454.95 L413.00,455.22 L413.50,455.36 L414.00,455.93 L414.50,456.56 L415.00,456.68 L415.50,456.53 L416.00,455.94 L416.50,455.69 L417.00,455.01 L417.50,455.27 L417.80,458.50Z" fill="#1f2b8c"/>
<line x1="331.50" y1="478.00" x2="417.80" y2="478.00" stroke="#2b3a96" stroke-width="0.7" />
<line x1="339.46" y1="478.30" x2="339.46" y2="477.74" stroke="#2b3a96" stroke-width="0.7" />
<line x1="332.28" y1="478.30" x2="332.28" y2="477.86" stroke="#2b3a96" stroke-width="0.7" />
<line x1="382.90" y1="478.30" x2="382.90" y2="477.77" stroke="#2b3a96" stroke-width="0.7" />
<line x1="365.78" y1="478.30" x2="365.78" y2="477.86" stroke="#2b3a96" stroke-width="0.7" />
<line x1="407.28" y1="478.30" x2="407.28" y2="477.63" stroke="#2b3a96" stroke-width="0.7" />
<line x1="372.94" y1="478.30" x2="372.94" y2="477.69" stroke="#2b3a96" stroke-width="0.7" />
<line x1="347.28" y1="478.30" x2="347.28" y2="477.67" stroke="#2b3a96" stroke-width="0.7" />
<line x1="395.96" y1="478.30" x2="395.96" y2="477.83" stroke="#2b3a96" stroke-width="0.7" />
<line x1="344.05" y1="478.30" x2="344.05" y2="477.70" stroke="#2b3a96" stroke-width="0.7" />
<line x1="343.30" y1="478.30" x2="343.30" y2="477.74" stroke="#2b3a96" stroke-width="0.7" />
<line x1="354.78" y1="478.30" x2="354.78" y2="477.88" stroke="#2b3a96" stroke-width="0.7" />
<line x1="360.97" y1="478.30" x2="360.97" y2="477.57" stroke="#2b3a96" stroke-width="0.7" />
<line x1="378.57" y1="478.30" x2="378.57" y2="477.82" stroke="#2b3a96" stroke-width="0.7" />
<line x1="336.47" y1="478.30" x2="336.47" y2="477.86" stroke="#2b3a96" stroke-width="0.7" />
<line x1="416.47" y1="478.30" x2="416.47" y2="477.60" stroke="#2b3a96" stroke-width="0.7" />
<line x1="383.37" y1="478.30" x2="383.37" y2="477.68" stroke="#2b3a96" stroke-width="0.7" />
<line x1="404.62" y1="478.30" x2="404.62" y2="477.86" stroke="#2b3a96" stroke-width="0.7" />
<line x1="398.48" y1="478.30" x2="398.48" y2="477.57" stroke="#2b3a96" stroke-width="0.7" />
<line x1="357.25" y1="478.30" x2="357.25" y2="477.61" stroke="#2b3a96" stroke-width="0.7" />
<line x1="359.33" y1="478.30" x2="359.33" y2="477.63" stroke="#2b3a96" stroke-width="0.7" />
<line x1="353.47" y1="478.30" x2="353.47" y2="477.82" stroke="#2b3a96" stroke-width="0.7" />
<line x1="416.00" y1="478.30" x2="416.00" y2="477.82" stroke="#2b3a96" stroke-width="0.7" />
<line x1="352.44" y1="478.30" x2="352.44" y2="477.80" stroke="#2b3a96" stroke-width="0.7" />
<line x1="375.18" y1="478.30" x2="375.18" y2="477.82" stroke="#2b3a96" stroke-width="0.7" />
<line x1="335.65" y1="478.30" x2="335.65" y2="477.76" stroke="#2b3a96" stroke-width="0.7" />
<line x1="371.00" y1="478.30" x2="371.00" y2="477.90" stroke="#2b3a96" stroke-width="0.7" />
<line x1="416.10" y1="478.30" x2="416.10" y2="477.85" stroke="#2b3a96" stroke-width="0.7" />
<line x1="375.84" y1="478.30" x2="375.84" y2="477.51" stroke="#2b3a96" stroke-width="0.7" />
<line x1="399.59" y1="478.30" x2="399.59" y2="477.54" stroke="#2b3a96" stroke-width="0.7" />
<line x1="412.73" y1="478.30" x2="412.73" y2="477.63" stroke="#2b3a96" stroke-width="0.7" />
<line x1="404.50" y1="478.30" x2="404.50" y2="460.80" stroke="#1f2b8c" stroke-width="1.0" />
<line x1="403.20" y1="478.30" x2="403.20" y2="470.30" stroke="#1f2b8c" stroke-width="1.0" />
<line x1="367.00" y1="478.30" x2="367.00" y2="474.80" stroke="#1f2b8c" stroke-width="0.7" />
<line x1="389.00" y1="478.30" x2="389.00" y2="475.80" stroke="#1f2b8c" stroke-width="0.7" />
<line x1="390.80" y1="478.30" x2="390.80" y2="475.30" stroke="#1f2b8c" stroke-width="0.7" />
<line x1="397.90" y1="478.30" x2="397.90" y2="475.30" stroke="#1f2b8c" stroke-width="0.7" />
<line x1="399.00" y1="478.30" x2="399.00" y2="476.30" stroke="#1f2b8c" stroke-width="0.7" />
<line x1="408.50" y1="478.30" x2="408.50" y2="474.30" stroke="#1f2b8c" stroke-width="0.7" />
<line x1="412.00" y1="478.30" x2="412.00" y2="475.30" stroke="#1f2b8c" stroke-width="0.7" />
<line x1="415.60" y1="478.30" x2="415.60" y2="475.30" stroke="#1f2b8c" stroke-width="0.7" />
<line x1="405.80" y1="478.30" x2="405.80" y2="473.30" stroke="#1f2b8c" stroke-width="0.7" />
<line x1="331.50" y1="497.50" x2="417.80" y2="497.50" stroke="#2b3a96" stroke-width="0.7" />
<line x1="335.71" y1="497.80" x2="335.71" y2="495.66" stroke="#2b3a96" stroke-width="0.7" />
<line x1="393.57" y1="497.80" x2="393.57" y2="495.90" stroke="#2b3a96" stroke-width="0.7" />
<line x1="403.72" y1="497.80" x2="403.72" y2="496.30" stroke="#2b3a96" stroke-width="0.7" />
<line x1="389.03" y1="497.80" x2="389.03" y2="497.22" stroke="#2b3a96" stroke-width="0.7" />
<line x1="366.61" y1="497.80" x2="366.61" y2="496.33" stroke="#2b3a96" stroke-width="0.7" />
<line x1="351.48" y1="497.80" x2="351.48" y2="497.04" stroke="#2b3a96" stroke-width="0.7" />
<line x1="360.21" y1="497.80" x2="360.21" y2="497.37" stroke="#2b3a96" stroke-width="0.7" />
<line x1="376.84" y1="497.80" x2="376.84" y2="496.42" stroke="#2b3a96" stroke-width="0.7" />
<line x1="356.65" y1="497.80" x2="356.65" y2="497.11" stroke="#2b3a96" stroke-width="0.7" />
<line x1="398.78" y1="497.80" x2="398.78" y2="496.13" stroke="#2b3a96" stroke-width="0.7" />
<line x1="359.41" y1="497.80" x2="359.41" y2="496.48" stroke="#2b3a96" stroke-width="0.7" />
<line x1="378.56" y1="497.80" x2="378.56" y2="496.54" stroke="#2b3a96" stroke-width="0.7" />
<line x1="415.79" y1="497.80" x2="415.79" y2="496.69" stroke="#2b3a96" stroke-width="0.7" />
<line x1="390.20" y1="497.80" x2="390.20" y2="496.11" stroke="#2b3a96" stroke-width="0.7" />
<line x1="367.61" y1="497.80" x2="367.61" y2="496.19" stroke="#2b3a96" stroke-width="0.7" />
<line x1="381.20" y1="497.80" x2="381.20" y2="496.27" stroke="#2b3a96" stroke-width="0.7" />
<line x1="351.31" y1="497.80" x2="351.31" y2="495.76" stroke="#2b3a96" stroke-width="0.7" />
<line x1="389.89" y1="497.80" x2="389.89" y2="496.92" stroke="#2b3a96" stroke-width="0.7" />
<line x1="416.41" y1="497.80" x2="416.41" y2="497.25" stroke="#2b3a96" stroke-width="0.7" />
<line x1="377.54" y1="497.80" x2="377.54" y2="496.87" stroke="#2b3a96" stroke-width="0.7" />
<line x1="335.85" y1="497.80" x2="335.85" y2="495.75" stroke="#2b3a96" stroke-width="0.7" />
<line x1="417.29" y1="497.80" x2="417.29" y2="495.95" stroke="#2b3a96" stroke-width="0.7" />
<line x1="364.36" y1="497.80" x2="364.36" y2="496.35" stroke="#2b3a96" stroke-width="0.7" />
<line x1="399.97" y1="497.80" x2="399.97" y2="497.38" stroke="#2b3a96" stroke-width="0.7" />
<line x1="385.32" y1="497.80" x2="385.32" y2="497.13" stroke="#2b3a96" stroke-width="0.7" />
<line x1="335.98" y1="497.80" x2="335.98" y2="497.23" stroke="#2b3a96" stroke-width="0.7" />
<line x1="416.14" y1="497.80" x2="416.14" y2="496.39" stroke="#2b3a96" stroke-width="0.7" />
<line x1="358.74" y1="497.80" x2="358.74" y2="497.19" stroke="#2b3a96" stroke-width="0.7" />
<line x1="367.93" y1="497.80" x2="367.93" y2="495.99" stroke="#2b3a96" stroke-width="0.7" />
<line x1="413.35" y1="497.80" x2="413.35" y2="497.36" stroke="#2b3a96" stroke-width="0.7" />
<line x1="348.08" y1="497.80" x2="348.08" y2="497.31" stroke="#2b3a96" stroke-width="0.7" />
<line x1="407.72" y1="497.80" x2="407.72" y2="496.32" stroke="#2b3a96" stroke-width="0.7" />
<line x1="359.11" y1="497.80" x2="359.11" y2="496.34" stroke="#2b3a96" stroke-width="0.7" />
<line x1="358.25" y1="497.80" x2="358.25" y2="496.78" stroke="#2b3a96" stroke-width="0.7" />
<line x1="393.12" y1="497.80" x2="393.12" y2="497.33" stroke="#2b3a96" stroke-width="0.7" />
<line x1="392.12" y1="497.80" x2="392.12" y2="497.23" stroke="#2b3a96" stroke-width="0.7" />
<line x1="359.04" y1="497.80" x2="359.04" y2="497.03" stroke="#2b3a96" stroke-width="0.7" />
<line x1="354.36" y1="497.80" x2="354.36" y2="496.00" stroke="#2b3a96" stroke-width="0.7" />
<line x1="417.13" y1="497.80" x2="417.13" y2="496.49" stroke="#2b3a96" stroke-width="0.7" />
<line x1="376.30" y1="497.80" x2="376.30" y2="495.91" stroke="#2b3a96" stroke-width="0.7" />
<line x1="405.33" y1="497.80" x2="405.33" y2="497.36" stroke="#2b3a96" stroke-width="0.7" />
<line x1="410.73" y1="497.80" x2="410.73" y2="496.01" stroke="#2b3a96" stroke-width="0.7" />
<line x1="366.31" y1="497.80" x2="366.31" y2="496.34" stroke="#2b3a96" stroke-width="0.7" />
<line x1="405.57" y1="497.80" x2="405.57" y2="497.37" stroke="#2b3a96" stroke-width="0.7" />
<line x1="371.21" y1="497.80" x2="371.21" y2="497.37" stroke="#2b3a96" stroke-width="0.7" />
<line x1="356.02" y1="497.80" x2="356.02" y2="495.97" stroke="#2b3a96" stroke-width="0.7" />
<line x1="369.24" y1="497.80" x2="369.24" y2="495.72" stroke="#2b3a96" stroke-width="0.7" />
<line x1="344.84" y1="497.80" x2="344.84" y2="496.68" stroke="#2b3a96" stroke-width="0.7" />
<line x1="366.08" y1="497.80" x2="366.08" y2="496.73" stroke="#2b3a96" stroke-width="0.7" />
<line x1="368.24" y1="497.80" x2="368.24" y2="497.24" stroke="#2b3a96" stroke-width="0.7" />
<line x1="333.82" y1="497.80" x2="333.82" y2="496.62" stroke="#2b3a96" stroke-width="0.7" />
<line x1="414.60" y1="497.80" x2="414.60" y2="496.62" stroke="#2b3a96" stroke-width="0.7" />
<line x1="392.15" y1="497.80" x2="392.15" y2="495.86" stroke="#2b3a96" stroke-width="0.7" />
<line x1="336.84" y1="497.80" x2="336.84" y2="495.60" stroke="#2b3a96" stroke-width="0.7" />
<line x1="340.47" y1="497.80" x2="340.47" y2="496.52" stroke="#2b3a96" stroke-width="0.7" />
<line x1="406.86" y1="497.80" x2="406.86" y2="495.85" stroke="#2b3a96" stroke-width="0.7" />
<line x1="413.34" y1="497.80" x2="413.34" y2="496.19" stroke="#2b3a96" stroke-width="0.7" />
<line x1="403.68" y1="497.80" x2="403.68" y2="497.31" stroke="#2b3a96" stroke-width="0.7" />
<line x1="390.27" y1="497.80" x2="390.27" y2="495.73" stroke="#2b3a96" stroke-width="0.7" />
<line x1="415.15" y1="497.80" x2="415.15" y2="496.09" stroke="#2b3a96" stroke-width="0.7" />
<line x1="405.31" y1="497.80" x2="405.31" y2="497.02" stroke="#2b3a96" stroke-width="0.7" />
<line x1="382.00" y1="497.80" x2="382.00" y2="495.81" stroke="#2b3a96" stroke-width="0.7" />
<line x1="387.56" y1="497.80" x2="387.56" y2="496.81" stroke="#2b3a96" stroke-width="0.7" />
<line x1="394.86" y1="497.80" x2="394.86" y2="496.64" stroke="#2b3a96" stroke-width="0.7" />
<line x1="367.41" y1="497.80" x2="367.41" y2="495.80" stroke="#2b3a96" stroke-width="0.7" />
<line x1="362.16" y1="497.80" x2="362.16" y2="496.43" stroke="#2b3a96" stroke-width="0.7" />
<line x1="384.43" y1="497.80" x2="384.43" y2="496.29" stroke="#2b3a96" stroke-width="0.7" />
<line x1="378.46" y1="497.80" x2="378.46" y2="495.69" stroke="#2b3a96" stroke-width="0.7" />
<line x1="369.10" y1="497.80" x2="369.10" y2="496.94" stroke="#2b3a96" stroke-width="0.7" />
<line x1="344.42" y1="497.80" x2="344.42" y2="496.62" stroke="#2b3a96" stroke-width="0.7" />
<line x1="402.00" y1="497.80" x2="402.00" y2="480.80" stroke="#1f2b8c" stroke-width="0.9" />
<line x1="401.00" y1="497.80" x2="401.00" y2="492.80" stroke="#1f2b8c" stroke-width="0.7" />
<line x1="400.00" y1="497.80" x2="400.00" y2="494.80" stroke="#1f2b8c" stroke-width="0.7" />
<line x1="335.00" y1="497.80" x2="335.00" y2="492.80" stroke="#1f2b8c" stroke-width="0.7" />
<line x1="337.00" y1="497.80" x2="337.00" y2="493.80" stroke="#1f2b8c" stroke-width="0.7" />
<line x1="339.00" y1="497.80" x2="339.00" y2="492.80" stroke="#1f2b8c" stroke-width="0.7" />
<line x1="358.00" y1="497.80" x2="358.00" y2="490.80" stroke="#1f2b8c" stroke-width="0.7" />
<line x1="356.00" y1="497.80" x2="356.00" y2="493.80" stroke="#1f2b8c" stroke-width="0.7" />
<line x1="360.00" y1="497.80" x2="360.00" y2="493.80" stroke="#1f2b8c" stroke-width="0.7" />
<line x1="348.00" y1="497.80" x2="348.00" y2="495.80" stroke="#1f2b8c" stroke-width="0.7" />
<line x1="352.00" y1="497.80" x2="352.00" y2="494.80" stroke="#1f2b8c" stroke-width="0.7" />
<line x1="372.00" y1="497.80" x2="372.00" y2="494.80" stroke="#1f2b8c" stroke-width="0.7" />
<line x1="377.00" y1="497.80" x2="377.00" y2="495.80" stroke="#1f2b8c" stroke-width="0.7" />
<line x1="385.00" y1="497.80" x2="385.00" y2="494.80" stroke="#1f2b8c" stroke-width="0.7" />
<line x1="394.00" y1="497.80" x2="394.00" y2="494.80" stroke="#1f2b8c" stroke-width="0.7" />
<line x1="398.00" y1="497.80" x2="398.00" y2="494.80" stroke="#1f2b8c" stroke-width="0.7" />
<line x1="331.50" y1="517.40" x2="417.80" y2="517.40" stroke="#a8a8a8" stroke-width="0.7" />
<path d="M336.80,517.20 L336.80,507.09 L337.30,510.04 L337.80,507.22 L338.30,510.70 L338.80,508.63 L339.30,512.75 L339.80,508.54 L340.30,509.04 L340.80,502.20 L341.30,508.82 L341.80,501.20 L342.30,504.30 L342.80,503.20 L343.30,509.09 L343.80,503.20 L344.30,505.47 L344.80,504.59 L345.30,509.59 L345.80,505.07 L346.30,508.36 L346.60,517.20Z" fill="#e3253f"/>
<path d="M353.70,517.20 L353.70,505.91 L354.20,506.00 L354.70,504.20 L355.20,509.78 L355.70,504.20 L356.20,508.06 L356.70,504.55 L357.20,506.46 L357.70,503.20 L358.20,504.29 L358.70,503.20 L359.20,507.27 L359.70,505.52 L360.20,510.02 L360.70,503.70 L361.20,506.05 L361.70,503.70 L362.20,504.54 L362.50,517.20Z" fill="#e3253f"/>
<path d="M374.90,517.20 L374.90,504.03 L375.40,508.03 L375.90,506.92 L376.40,509.62 L376.90,507.01 L377.40,510.99 L377.90,507.44 L378.40,509.36 L378.90,507.79 L379.40,510.32 L379.90,504.38 L380.40,510.59 L380.90,505.49 L381.40,510.92 L381.10,517.20Z" fill="#e3253f"/>
<path d="M386.50,517.20 L386.50,504.28 L387.00,505.36 L387.50,506.76 L388.00,507.84 L388.50,500.20 L389.00,503.73 L389.50,500.20 L390.00,500.40 L390.50,498.70 L391.00,503.41 L391.50,502.56 L392.00,505.44 L392.50,502.97 L393.00,506.89 L393.00,517.20Z" fill="#e3253f"/>
<rect x="349.65" y="508.20" width="0.90" height="9.00" fill="#e3253f"/>
<rect x="383.35" y="506.70" width="0.90" height="10.50" fill="#e3253f"/>
<rect x="393.95" y="504.70" width="0.90" height="12.50" fill="#e3253f"/>
<rect x="401.05" y="512.70" width="0.90" height="4.50" fill="#e3253f"/>
<line x1="331.50" y1="537.20" x2="417.80" y2="537.20" stroke="#a8a8a8" stroke-width="0.7" />
<path d="M337.00,537.00 L337.00,533.37 L337.50,535.00 L338.00,532.72 L338.50,533.70 L339.00,534.54 L339.50,534.85 L340.00,533.27 L340.50,534.20 L341.00,535.72 L341.50,535.99 L342.00,532.83 L342.50,533.02 L343.00,532.34 L343.50,533.48 L344.00,534.16 L344.50,535.27 L345.00,535.14 L345.50,535.69 L346.00,529.00 L346.50,531.83 L347.00,532.99 L347.50,533.85 L348.00,532.70 L348.50,533.40 L349.00,528.50 L349.50,532.14 L350.00,528.50 L350.50,529.23 L350.50,537.00Z" fill="#e3253f"/>
<path d="M354.00,537.00 L354.00,535.48 L354.50,535.79 L355.00,531.00 L355.50,533.44 L356.00,531.00 L356.50,532.68 L357.00,535.21 L357.50,535.25 L358.00,532.16 L358.50,534.19 L359.00,530.50 L359.50,531.14 L360.00,532.41 L360.50,533.93 L361.00,535.85 L361.50,536.39 L362.00,534.17 L362.50,534.23 L362.00,537.00Z" fill="#e3253f"/>
<path d="M374.00,537.00 L374.00,535.70 L374.50,536.24 L375.00,536.15 L375.50,536.31 L376.00,536.04 L376.50,536.35 L377.00,535.04 L377.50,535.44 L378.00,535.94 L378.50,536.41 L379.00,535.81 L379.50,536.28 L380.00,535.13 L380.50,535.71 L381.00,535.47 L381.50,535.64 L382.00,536.32 L382.50,536.45 L382.00,537.00Z" fill="#e3253f"/>
<path d="M389.00,537.00 L389.00,534.53 L389.50,535.67 L390.00,536.26 L390.50,536.52 L391.00,535.00 L391.50,535.56 L392.00,535.32 L392.50,535.75 L393.00,534.55 L393.50,535.66 L393.00,537.00Z" fill="#e3253f"/>
<rect x="394.10" y="535.00" width="0.80" height="2.00" fill="#e3253f"/>
<rect x="395.60" y="536.00" width="0.80" height="1.00" fill="#e3253f"/>
<rect x="331.50" y="540.30" width="86.30" height="2.70" fill="#bdbdbd" />
<line x1="336.80" y1="547.20" x2="402.30" y2="547.20" stroke="#283593" stroke-width="0.7" />
<polyline points="340.60,546.30 339.80,547.20 340.60,548.10" fill="none" stroke="#283593" stroke-width="0.4"/>
<polyline points="345.10,546.30 344.30,547.20 345.10,548.10" fill="none" stroke="#283593" stroke-width="0.4"/>
<polyline points="349.60,546.30 348.80,547.20 349.60,548.10" fill="none" stroke="#283593" stroke-width="0.4"/>
<polyline points="354.10,546.30 353.30,547.20 354.10,548.10" fill="none" stroke="#283593" stroke-width="0.4"/>
<polyline points="358.60,546.30 357.80,547.20 358.60,548.10" fill="none" stroke="#283593" stroke-width="0.4"/>
<polyline points="363.10,546.30 362.30,547.20 363.10,548.10" fill="none" stroke="#283593" stroke-width="0.4"/>
<polyline points="367.60,546.30 366.80,547.20 367.60,548.10" fill="none" stroke="#283593" stroke-width="0.4"/>
<polyline points="372.10,546.30 371.30,547.20 372.10,548.10" fill="none" stroke="#283593" stroke-width="0.4"/>
<polyline points="376.60,546.30 375.80,547.20 376.60,548.10" fill="none" stroke="#283593" stroke-width="0.4"/>
<polyline points="381.10,546.30 380.30,547.20 381.10,548.10" fill="none" stroke="#283593" stroke-width="0.4"/>
<polyline points="385.60,546.30 384.80,547.20 385.60,548.10" fill="none" stroke="#283593" stroke-width="0.4"/>
<polyline points="390.10,546.30 389.30,547.20 390.10,548.10" fill="none" stroke="#283593" stroke-width="0.4"/>
<polyline points="394.60,546.30 393.80,547.20 394.60,548.10" fill="none" stroke="#283593" stroke-width="0.4"/>
<polyline points="399.10,546.30 398.30,547.20 399.10,548.10" fill="none" stroke="#283593" stroke-width="0.4"/>
<rect x="336.80" y="546.10" width="9.20" height="2.20" fill="#283593" />
<rect x="349.60" y="545.40" width="1.20" height="3.60" fill="#283593" />
<rect x="355.60" y="545.40" width="1.20" height="3.60" fill="#283593" />
<rect x="359.50" y="545.40" width="1.10" height="3.60" fill="#283593" />
<rect x="361.80" y="545.40" width="1.00" height="3.60" fill="#283593" />
<rect x="374.60" y="545.30" width="6.60" height="3.80" fill="#283593" />
<rect x="383.60" y="545.40" width="1.20" height="3.60" fill="#283593" />
<rect x="389.80" y="545.40" width="2.80" height="3.60" fill="#283593" />
<text x="360.40" y="559.40" font-size="8" stroke="#231f20" stroke-width="0.1" font-style="italic" textLength="28.80" lengthAdjust="spacingAndGlyphs" >&lt;GHDC</text>
<path d="M421.20,419.30 L421.20,416.52 L421.70,415.72 L422.20,415.42 L422.70,414.44 L423.20,414.16 L423.70,413.83 L424.20,413.18 L424.70,413.12 L425.20,412.45 L425.70,412.54 L426.20,412.67 L426.70,413.09 L427.20,412.56 L427.70,412.77 L428.20,412.62 L428.70,412.19 L429.20,411.82 L429.70,410.52 L430.20,409.88 L430.70,409.09 L431.20,406.09 L431.70,402.29 L432.20,406.00 L432.70,411.52 L433.20,413.39 L433.70,413.04 L434.20,413.27 L434.70,413.06 L435.20,413.92 L435.70,413.82 L436.20,413.86 L436.70,414.27 L437.20,415.35 L437.70,415.79 L438.20,416.70 L438.70,416.40 L439.20,416.17 L439.70,416.29 L440.20,416.10 L440.70,416.34 L441.20,416.13 L441.70,416.60 L442.20,417.20 L442.70,417.43 L443.20,416.89 L443.70,416.59 L444.20,416.88 L444.70,416.72 L445.20,416.43 L445.70,416.82 L446.20,417.14 L446.70,416.59 L447.20,416.90 L447.70,416.51 L448.20,416.97 L448.70,416.51 L449.20,417.19 L449.70,417.27 L450.20,417.23 L450.70,417.61 L451.20,417.05 L451.70,416.59 L452.20,416.85 L452.70,416.72 L453.20,417.08 L453.70,417.26 L454.20,416.99 L454.70,416.99 L455.20,417.41 L455.70,416.75 L456.20,416.36 L456.70,416.51 L457.20,416.28 L457.70,416.74 L458.20,416.93 L458.70,416.82 L459.20,417.34 L459.70,417.68 L460.20,417.40 L460.70,417.56 L461.20,417.09 L461.70,416.92 L462.20,417.06 L462.70,417.06 L463.20,416.85 L463.70,417.30 L464.20,416.90 L464.70,416.61 L465.20,417.08 L465.70,417.43 L466.20,417.01 L466.70,416.85 L467.20,416.61 L467.70,416.27 L468.20,416.35 L468.70,416.18 L469.20,416.82 L469.70,417.00 L470.20,416.61 L470.70,416.56 L471.20,416.60 L471.70,416.87 L472.20,417.20 L472.70,416.76 L473.20,417.32 L473.70,416.80 L474.20,416.54 L474.70,416.28 L475.20,417.05 L475.70,417.00 L476.20,416.78 L476.70,416.97 L477.20,416.53 L477.70,416.55 L478.20,416.39 L478.70,417.11 L479.20,416.61 L479.70,417.11 L480.20,417.26 L480.70,417.29 L481.20,416.91 L481.70,417.37 L482.20,417.29 L482.70,416.82 L483.20,416.82 L483.70,417.08 L484.20,416.99 L484.70,417.35 L485.20,417.65 L485.70,417.45 L486.20,417.54 L486.70,417.27 L487.20,417.57 L487.70,417.68 L488.20,417.21 L488.70,416.84 L489.20,417.28 L489.70,416.84 L490.20,416.64 L490.70,416.59 L491.20,416.71 L491.70,417.23 L492.20,417.36 L492.70,417.71 L493.20,417.06 L493.70,416.68 L494.20,417.26 L494.70,416.79 L495.20,417.15 L495.70,416.63 L496.20,416.59 L496.70,416.90 L497.20,416.95 L497.70,416.84 L498.20,416.92 L498.70,416.90 L499.20,416.63 L499.70,417.23 L500.20,417.29 L500.70,416.73 L501.20,416.66 L501.70,416.85 L502.20,417.43 L502.70,416.96 L503.20,417.14 L503.70,417.10 L504.20,417.34 L504.70,417.53 L505.20,416.85 L505.70,417.14 L506.20,416.77 L506.70,417.28 L507.20,416.86 L507.40,419.30Z" fill="#f0a12c"/>
<path d="M421.20,438.80 L421.20,438.41 L421.70,438.44 L422.20,438.31 L422.70,437.88 L423.20,437.69 L423.70,437.97 L424.20,437.57 L424.70,437.30 L425.20,437.71 L425.70,437.42 L426.20,437.35 L426.70,437.43 L427.20,437.20 L427.70,436.73 L428.20,436.82 L428.70,436.71 L429.20,436.42 L429.70,436.67 L430.20,436.38 L430.70,436.29 L431.20,435.51 L431.70,434.10 L432.20,431.65 L432.70,428.61 L433.20,426.23 L433.70,424.41 L434.20,425.00 L434.70,428.49 L435.20,431.27 L435.70,430.97 L436.20,428.66 L436.70,427.62 L437.20,428.35 L437.70,429.90 L438.20,431.02 L438.70,431.54 L439.20,431.42 L439.70,431.84 L440.20,432.76 L440.70,433.62 L441.20,433.92 L441.70,433.81 L442.20,434.26 L442.70,434.19 L443.20,434.45 L443.70,434.67 L444.20,434.62 L444.70,435.44 L445.20,435.86 L445.70,436.43 L446.20,436.86 L446.70,436.73 L447.20,437.39 L447.70,437.15 L448.20,437.51 L448.70,437.56 L449.20,437.68 L449.70,438.05 L450.20,438.17 L450.70,438.27 L451.20,438.23 L451.70,438.45 L452.20,438.15 L452.70,438.22 L453.20,437.93 L453.70,437.86 L454.20,437.59 L454.70,437.34 L455.20,437.68 L455.70,437.64 L456.20,437.50 L456.70,437.79 L457.20,437.73 L457.70,437.60 L458.20,437.42 L458.70,437.38 L459.20,437.57 L459.70,437.68 L460.20,437.83 L460.70,437.73 L461.20,437.40 L461.70,437.95 L462.20,437.76 L462.70,437.62 L463.20,437.77 L463.70,438.17 L464.20,438.21 L464.70,437.75 L465.20,437.58 L465.70,437.55 L466.20,437.33 L466.70,437.23 L467.20,437.85 L467.70,437.89 L468.20,437.72 L468.70,437.54 L469.20,437.68 L469.70,438.08 L470.20,437.89 L470.70,437.74 L471.20,437.85 L471.70,438.21 L472.20,438.30 L472.70,438.37 L473.20,438.17 L473.70,437.79 L474.20,438.07 L474.70,438.10 L475.20,438.22 L475.70,438.35 L476.20,438.40 L476.70,438.14 L477.20,437.81 L477.70,437.48 L478.20,437.30 L478.70,437.16 L479.20,437.41 L479.70,437.37 L480.20,437.73 L480.70,437.66 L481.20,437.47 L481.70,437.78 L482.20,438.03 L482.70,438.15 L483.20,437.94 L483.70,437.77 L484.20,437.86 L484.70,438.06 L485.20,437.98 L485.70,438.19 L486.20,437.82 L486.70,437.56 L487.20,437.98 L487.70,438.02 L488.20,437.65 L488.70,437.91 L489.20,437.62 L489.70,437.40 L490.20,437.42 L490.70,437.43 L491.20,437.67 L491.70,437.93 L492.20,437.94 L492.70,438.22 L493.20,438.36 L493.70,438.05 L494.20,438.15 L494.70,438.23 L495.20,437.73 L495.70,437.63 L496.20,437.71 L496.70,437.74 L497.20,438.15 L497.70,437.69 L498.20,437.82 L498.70,438.00 L499.20,438.18 L499.70,437.85 L500.20,437.82 L500.70,437.81 L501.20,437.85 L501.70,437.49 L502.20,437.26 L502.70,437.54 L503.20,437.98 L503.70,437.55 L504.20,437.85 L504.70,437.59 L505.20,438.07 L505.70,437.76 L506.20,437.81 L506.70,437.53 L507.20,437.86 L507.40,438.80Z" fill="#1f2b8c"/>
<path d="M421.20,458.50 L421.20,457.21 L421.70,456.73 L422.20,456.69 L422.70,456.46 L423.20,455.31 L423.70,456.02 L424.20,455.09 L424.70,454.58 L425.20,455.25 L425.70,455.51 L426.20,454.67 L426.70,453.49 L427.20,453.52 L427.70,453.03 L428.20,452.63 L428.70,452.24 L429.20,452.73 L429.70,453.62 L430.20,453.57 L430.70,453.58 L431.20,452.97 L431.70,450.63 L432.20,448.86 L432.70,446.91 L433.20,444.41 L433.70,441.48 L434.20,443.12 L434.70,446.74 L435.20,449.20 L435.70,449.34 L436.20,447.21 L436.70,446.32 L437.20,448.26 L437.70,449.77 L438.20,451.66 L438.70,452.24 L439.20,451.05 L439.70,450.70 L440.20,450.79 L440.70,450.78 L441.20,449.96 L441.70,448.77 L442.20,448.72 L442.70,449.78 L443.20,451.56 L443.70,452.54 L444.20,452.85 L444.70,452.38 L445.20,451.66 L445.70,451.38 L446.20,451.14 L446.70,450.91 L447.20,451.36 L447.70,452.37 L448.20,451.78 L448.70,452.22 L449.20,451.89 L449.70,452.20 L450.20,452.56 L450.70,453.03 L451.20,453.92 L451.70,453.69 L452.20,454.76 L452.70,454.75 L453.20,455.49 L453.70,455.99 L454.20,455.50 L454.70,454.67 L455.20,454.70 L455.70,455.13 L456.20,455.59 L456.70,455.02 L457.20,454.82 L457.70,454.71 L458.20,454.28 L458.70,455.14 L459.20,454.49 L459.70,455.04 L460.20,455.08 L460.70,455.98 L461.20,455.58 L461.70,454.90 L462.20,455.43 L462.70,456.14 L463.20,455.81 L463.70,455.20 L464.20,455.64 L464.70,455.96 L465.20,456.34 L465.70,455.89 L466.20,455.42 L466.70,455.57 L467.20,454.86 L467.70,455.04 L468.20,454.47 L468.70,454.56 L469.20,455.47 L469.70,454.95 L470.20,455.78 L470.70,455.04 L471.20,455.08 L471.70,455.83 L472.20,456.01 L472.70,456.02 L473.20,455.94 L473.70,456.16 L474.20,456.57 L474.70,456.46 L475.20,455.47 L475.70,455.49 L476.20,455.73 L476.70,456.12 L477.20,455.04 L477.70,456.00 L478.20,456.41 L478.70,456.83 L479.20,455.96 L479.70,456.37 L480.20,456.71 L480.70,455.47 L481.20,456.06 L481.70,455.97 L482.20,456.18 L482.70,455.14 L483.20,455.00 L483.70,455.56 L484.20,456.28 L484.70,456.53 L485.20,455.86 L485.70,455.95 L486.20,455.48 L486.70,455.51 L487.20,455.54 L487.70,455.56 L488.20,455.76 L488.70,455.86 L489.20,456.27 L489.70,456.28 L490.20,455.40 L490.70,455.94 L491.20,456.24 L491.70,455.67 L492.20,455.24 L492.70,456.03 L493.20,455.43 L493.70,455.39 L494.20,454.68 L494.70,455.78 L495.20,456.13 L495.70,455.29 L496.20,455.10 L496.70,454.59 L497.20,455.21 L497.70,454.51 L498.20,455.03 L498.70,454.55 L499.20,455.67 L499.70,455.51 L500.20,455.69 L500.70,455.57 L501.20,454.83 L501.70,455.80 L502.20,455.46 L502.70,455.21 L503.20,454.88 L503.70,454.47 L504.20,455.15 L504.70,455.75 L505.20,456.03 L505.70,455.52 L506.20,455.74 L506.70,456.00 L507.20,456.45 L507.40,458.50Z" fill="#1f2b8c"/>
<line x1="421.20" y1="478.00" x2="507.40" y2="478.00" stroke="#2b3a96" stroke-width="0.7" />
<line x1="461.14" y1="478.30" x2="461.14" y2="477.56" stroke="#2b3a96" stroke-width="0.7" />
<line x1="490.34" y1="478.30" x2="490.34" y2="477.45" stroke="#2b3a96" stroke-width="0.7" />
<line x1="438.02" y1="478.30" x2="438.02" y2="477.81" stroke="#2b3a96" stroke-width="0.7" />
<line x1="485.24" y1="478.30" x2="485.24" y2="477.49" stroke="#2b3a96" stroke-width="0.7" />
<line x1="474.13" y1="478.30" x2="474.13" y2="477.31" stroke="#2b3a96" stroke-width="0.7" />
<line x1="468.21" y1="478.30" x2="468.21" y2="477.72" stroke="#2b3a96" stroke-width="0.7" />
<line x1="449.86" y1="478.30" x2="449.86" y2="477.88" stroke="#2b3a96" stroke-width="0.7" />
<line x1="490.37" y1="478.30" x2="490.37" y2="477.66" stroke="#2b3a96" stroke-width="0.7" />
<line x1="465.50" y1="478.30" x2="465.50" y2="477.81" stroke="#2b3a96" stroke-width="0.7" />
<line x1="500.24" y1="478.30" x2="500.24" y2="477.65" stroke="#2b3a96" stroke-width="0.7" />
<line x1="426.53" y1="478.30" x2="426.53" y2="477.46" stroke="#2b3a96" stroke-width="0.7" />
<line x1="486.53" y1="478.30" x2="486.53" y2="477.85" stroke="#2b3a96" stroke-width="0.7" />
<line x1="478.87" y1="478.30" x2="478.87" y2="477.80" stroke="#2b3a96" stroke-width="0.7" />
<line x1="439.59" y1="478.30" x2="439.59" y2="477.35" stroke="#2b3a96" stroke-width="0.7" />
<line x1="502.03" y1="478.30" x2="502.03" y2="477.86" stroke="#2b3a96" stroke-width="0.7" />
<line x1="430.07" y1="478.30" x2="430.07" y2="477.66" stroke="#2b3a96" stroke-width="0.7" />
<line x1="436.41" y1="478.30" x2="436.41" y2="477.46" stroke="#2b3a96" stroke-width="0.7" />
<line x1="429.79" y1="478.30" x2="429.79" y2="477.75" stroke="#2b3a96" stroke-width="0.7" />
<line x1="479.44" y1="478.30" x2="479.44" y2="477.64" stroke="#2b3a96" stroke-width="0.7" />
<line x1="477.59" y1="478.30" x2="477.59" y2="477.73" stroke="#2b3a96" stroke-width="0.7" />
<line x1="496.54" y1="478.30" x2="496.54" y2="477.47" stroke="#2b3a96" stroke-width="0.7" />
<line x1="459.66" y1="478.30" x2="459.66" y2="477.51" stroke="#2b3a96" stroke-width="0.7" />
<line x1="473.67" y1="478.30" x2="473.67" y2="477.61" stroke="#2b3a96" stroke-width="0.7" />
<line x1="504.80" y1="478.30" x2="504.80" y2="477.42" stroke="#2b3a96" stroke-width="0.7" />
<line x1="480.70" y1="478.30" x2="480.70" y2="477.36" stroke="#2b3a96" stroke-width="0.7" />
<line x1="459.96" y1="478.30" x2="459.96" y2="477.32" stroke="#2b3a96" stroke-width="0.7" />
<line x1="456.41" y1="478.30" x2="456.41" y2="477.58" stroke="#2b3a96" stroke-width="0.7" />
<line x1="477.21" y1="478.30" x2="477.21" y2="477.63" stroke="#2b3a96" stroke-width="0.7" />
<line x1="445.86" y1="478.30" x2="445.86" y2="477.58" stroke="#2b3a96" stroke-width="0.7" />
<line x1="429.11" y1="478.30" x2="429.11" y2="477.59" stroke="#2b3a96" stroke-width="0.7" />
<line x1="491.70" y1="478.30" x2="491.70" y2="477.59" stroke="#2b3a96" stroke-width="0.7" />
<line x1="461.88" y1="478.30" x2="461.88" y2="477.36" stroke="#2b3a96" stroke-width="0.7" />
<line x1="503.14" y1="478.30" x2="503.14" y2="477.63" stroke="#2b3a96" stroke-width="0.7" />
<line x1="493.63" y1="478.30" x2="493.63" y2="477.78" stroke="#2b3a96" stroke-width="0.7" />
<line x1="444.68" y1="478.30" x2="444.68" y2="477.32" stroke="#2b3a96" stroke-width="0.7" />
<line x1="476.06" y1="478.30" x2="476.06" y2="477.67" stroke="#2b3a96" stroke-width="0.7" />
<line x1="435.67" y1="478.30" x2="435.67" y2="477.33" stroke="#2b3a96" stroke-width="0.7" />
<line x1="469.05" y1="478.30" x2="469.05" y2="477.46" stroke="#2b3a96" stroke-width="0.7" />
<line x1="452.70" y1="478.30" x2="452.70" y2="477.46" stroke="#2b3a96" stroke-width="0.7" />
<line x1="479.23" y1="478.30" x2="479.23" y2="477.78" stroke="#2b3a96" stroke-width="0.7" />
<line x1="494.10" y1="478.30" x2="494.10" y2="477.39" stroke="#2b3a96" stroke-width="0.7" />
<line x1="425.46" y1="478.30" x2="425.46" y2="477.78" stroke="#2b3a96" stroke-width="0.7" />
<line x1="442.47" y1="478.30" x2="442.47" y2="477.52" stroke="#2b3a96" stroke-width="0.7" />
<line x1="439.79" y1="478.30" x2="439.79" y2="477.73" stroke="#2b3a96" stroke-width="0.7" />
<line x1="498.86" y1="478.30" x2="498.86" y2="477.73" stroke="#2b3a96" stroke-width="0.7" />
<line x1="433.00" y1="478.30" x2="433.00" y2="462.10" stroke="#1f2b8c" stroke-width="1.1" />
<line x1="434.00" y1="478.30" x2="434.00" y2="474.30" stroke="#1f2b8c" stroke-width="0.7" />
<line x1="436.00" y1="478.30" x2="436.00" y2="476.80" stroke="#1f2b8c" stroke-width="0.7" />
<line x1="421.20" y1="497.50" x2="507.40" y2="497.50" stroke="#2b3a96" stroke-width="0.7" />
<line x1="434.45" y1="497.80" x2="434.45" y2="497.06" stroke="#2b3a96" stroke-width="0.7" />
<line x1="445.60" y1="497.80" x2="445.60" y2="497.12" stroke="#2b3a96" stroke-width="0.7" />
<line x1="446.74" y1="497.80" x2="446.74" y2="497.08" stroke="#2b3a96" stroke-width="0.7" />
<line x1="476.62" y1="497.80" x2="476.62" y2="497.38" stroke="#2b3a96" stroke-width="0.7" />
<line x1="503.42" y1="497.80" x2="503.42" y2="497.06" stroke="#2b3a96" stroke-width="0.7" />
<line x1="456.16" y1="497.80" x2="456.16" y2="497.19" stroke="#2b3a96" stroke-width="0.7" />
<line x1="483.20" y1="497.80" x2="483.20" y2="497.10" stroke="#2b3a96" stroke-width="0.7" />
<line x1="493.40" y1="497.80" x2="493.40" y2="497.01" stroke="#2b3a96" stroke-width="0.7" />
<line x1="501.17" y1="497.80" x2="501.17" y2="497.30" stroke="#2b3a96" stroke-width="0.7" />
<line x1="423.40" y1="497.80" x2="423.40" y2="497.29" stroke="#2b3a96" stroke-width="0.7" />
<line x1="439.85" y1="497.80" x2="439.85" y2="497.09" stroke="#2b3a96" stroke-width="0.7" />
<line x1="487.40" y1="497.80" x2="487.40" y2="497.01" stroke="#2b3a96" stroke-width="0.7" />
<line x1="494.72" y1="497.80" x2="494.72" y2="497.09" stroke="#2b3a96" stroke-width="0.7" />
<line x1="506.16" y1="497.80" x2="506.16" y2="497.10" stroke="#2b3a96" stroke-width="0.7" />
<line x1="454.25" y1="497.80" x2="454.25" y2="497.08" stroke="#2b3a96" stroke-width="0.7" />
<line x1="491.76" y1="497.80" x2="491.76" y2="497.28" stroke="#2b3a96" stroke-width="0.7" />
<line x1="442.71" y1="497.80" x2="442.71" y2="497.33" stroke="#2b3a96" stroke-width="0.7" />
<line x1="427.85" y1="497.80" x2="427.85" y2="497.11" stroke="#2b3a96" stroke-width="0.7" />
<line x1="506.67" y1="497.80" x2="506.67" y2="497.08" stroke="#2b3a96" stroke-width="0.7" />
<line x1="471.20" y1="497.80" x2="471.20" y2="497.04" stroke="#2b3a96" stroke-width="0.7" />
<line x1="455.99" y1="497.80" x2="455.99" y2="497.25" stroke="#2b3a96" stroke-width="0.7" />
<line x1="422.37" y1="497.80" x2="422.37" y2="497.33" stroke="#2b3a96" stroke-width="0.7" />
<line x1="479.43" y1="497.80" x2="479.43" y2="497.23" stroke="#2b3a96" stroke-width="0.7" />
<line x1="504.21" y1="497.80" x2="504.21" y2="497.40" stroke="#2b3a96" stroke-width="0.7" />
<line x1="495.78" y1="497.80" x2="495.78" y2="497.07" stroke="#2b3a96" stroke-width="0.7" />
<line x1="474.89" y1="497.80" x2="474.89" y2="497.15" stroke="#2b3a96" stroke-width="0.7" />
<line x1="476.20" y1="497.80" x2="476.20" y2="497.37" stroke="#2b3a96" stroke-width="0.7" />
<line x1="455.18" y1="497.80" x2="455.18" y2="497.02" stroke="#2b3a96" stroke-width="0.7" />
<line x1="464.78" y1="497.80" x2="464.78" y2="497.36" stroke="#2b3a96" stroke-width="0.7" />
<line x1="459.84" y1="497.80" x2="459.84" y2="497.37" stroke="#2b3a96" stroke-width="0.7" />
<line x1="479.32" y1="497.80" x2="479.32" y2="497.26" stroke="#2b3a96" stroke-width="0.7" />
<line x1="505.25" y1="497.80" x2="505.25" y2="497.03" stroke="#2b3a96" stroke-width="0.7" />
<line x1="468.98" y1="497.80" x2="468.98" y2="497.34" stroke="#2b3a96" stroke-width="0.7" />
<line x1="464.18" y1="497.80" x2="464.18" y2="497.09" stroke="#2b3a96" stroke-width="0.7" />
<line x1="431.82" y1="497.80" x2="431.82" y2="497.30" stroke="#2b3a96" stroke-width="0.7" />
<line x1="436.90" y1="497.80" x2="436.90" y2="481.80" stroke="#1f2b8c" stroke-width="1.0" />
<line x1="435.50" y1="497.80" x2="435.50" y2="493.80" stroke="#1f2b8c" stroke-width="0.7" />
<line x1="432.50" y1="497.80" x2="432.50" y2="492.80" stroke="#1f2b8c" stroke-width="1.2" />
<line x1="426.00" y1="497.80" x2="426.00" y2="496.20" stroke="#1f2b8c" stroke-width="1.5" />
<line x1="452.50" y1="497.80" x2="452.50" y2="495.80" stroke="#1f2b8c" stroke-width="1.2" />
<line x1="505.00" y1="497.80" x2="505.00" y2="495.80" stroke="#1f2b8c" stroke-width="0.7" />
<line x1="421.20" y1="517.40" x2="507.40" y2="517.40" stroke="#a8a8a8" stroke-width="0.7" />
<rect x="432.95" y="498.70" width="1.30" height="18.50" fill="#e3253f"/>
<rect x="436.60" y="501.20" width="1.00" height="16.00" fill="#e3253f"/>
<rect x="448.45" y="502.90" width="1.10" height="14.30" fill="#e3253f"/>
<rect x="454.95" y="502.90" width="1.10" height="14.30" fill="#e3253f"/>
<rect x="458.50" y="508.60" width="1.00" height="8.60" fill="#e3253f"/>
<rect x="459.60" y="511.20" width="0.80" height="6.00" fill="#e3253f"/>
<rect x="465.55" y="511.80" width="1.10" height="5.40" fill="#e3253f"/>
<rect x="468.75" y="512.40" width="1.10" height="4.80" fill="#e3253f"/>
<rect x="474.95" y="511.80" width="1.10" height="5.40" fill="#e3253f"/>
<rect x="477.65" y="511.80" width="1.10" height="5.40" fill="#e3253f"/>
<rect x="482.05" y="510.90" width="1.10" height="6.30" fill="#e3253f"/>
<rect x="487.85" y="509.90" width="1.10" height="7.30" fill="#e3253f"/>
<rect x="490.40" y="511.40" width="1.00" height="5.80" fill="#e3253f"/>
<line x1="421.20" y1="537.20" x2="507.40" y2="537.20" stroke="#a8a8a8" stroke-width="0.7" />
<rect x="432.95" y="533.80" width="1.30" height="3.20" fill="#e3253f"/>
<rect x="436.60" y="533.50" width="1.00" height="3.50" fill="#e3253f"/>
<rect x="448.45" y="532.80" width="1.10" height="4.20" fill="#e3253f"/>
<rect x="454.95" y="532.50" width="1.10" height="4.50" fill="#e3253f"/>
<rect x="458.50" y="534.00" width="1.00" height="3.00" fill="#e3253f"/>
<rect x="465.55" y="535.40" width="1.10" height="1.60" fill="#e3253f"/>
<rect x="468.75" y="535.80" width="1.10" height="1.20" fill="#e3253f"/>
<rect x="477.65" y="535.40" width="1.10" height="1.60" fill="#e3253f"/>
<rect x="482.05" y="535.20" width="1.10" height="1.80" fill="#e3253f"/>
<rect x="487.85" y="535.50" width="1.10" height="1.50" fill="#e3253f"/>
<rect x="490.40" y="535.50" width="1.00" height="1.50" fill="#e3253f"/>
<rect x="421.20" y="540.90" width="86.20" height="2.80" fill="#c8c8c8" />
<line x1="432.20" y1="547.20" x2="506.50" y2="547.20" stroke="#283593" stroke-width="0.7" />
<polyline points="436.00,546.30 435.20,547.20 436.00,548.10" fill="none" stroke="#283593" stroke-width="0.4"/>
<polyline points="440.50,546.30 439.70,547.20 440.50,548.10" fill="none" stroke="#283593" stroke-width="0.4"/>
<polyline points="445.00,546.30 444.20,547.20 445.00,548.10" fill="none" stroke="#283593" stroke-width="0.4"/>
<polyline points="449.50,546.30 448.70,547.20 449.50,548.10" fill="none" stroke="#283593" stroke-width="0.4"/>
<polyline points="454.00,546.30 453.20,547.20 454.00,548.10" fill="none" stroke="#283593" stroke-width="0.4"/>
<polyline points="458.50,546.30 457.70,547.20 458.50,548.10" fill="none" stroke="#283593" stroke-width="0.4"/>
<polyline points="463.00,546.30 462.20,547.20 463.00,548.10" fill="none" stroke="#283593" stroke-width="0.4"/>
<polyline points="467.50,546.30 466.70,547.20 467.50,548.10" fill="none" stroke="#283593" stroke-width="0.4"/>
<polyline points="472.00,546.30 471.20,547.20 472.00,548.10" fill="none" stroke="#283593" stroke-width="0.4"/>
<polyline points="476.50,546.30 475.70,547.20 476.50,548.10" fill="none" stroke="#283593" stroke-width="0.4"/>
<polyline points="481.00,546.30 480.20,547.20 481.00,548.10" fill="none" stroke="#283593" stroke-width="0.4"/>
<polyline points="485.50,546.30 484.70,547.20 485.50,548.10" fill="none" stroke="#283593" stroke-width="0.4"/>
<polyline points="490.00,546.30 489.20,547.20 490.00,548.10" fill="none" stroke="#283593" stroke-width="0.4"/>
<polyline points="494.50,546.30 493.70,547.20 494.50,548.10" fill="none" stroke="#283593" stroke-width="0.4"/>
<polyline points="499.00,546.30 498.20,547.20 499.00,548.10" fill="none" stroke="#283593" stroke-width="0.4"/>
<polyline points="503.50,546.30 502.70,547.20 503.50,548.10" fill="none" stroke="#283593" stroke-width="0.4"/>
<rect x="432.00" y="546.00" width="2.00" height="2.40" fill="#283593" />
<rect x="454.80" y="546.00" width="1.20" height="2.40" fill="#283593" />
<rect x="459.40" y="546.00" width="1.20" height="2.40" fill="#283593" />
<rect x="465.60" y="545.40" width="1.20" height="3.60" fill="#283593" />
<rect x="468.80" y="545.40" width="1.20" height="3.60" fill="#283593" />
<rect x="476.80" y="545.40" width="1.20" height="3.60" fill="#283593" />
<rect x="480.60" y="545.40" width="1.20" height="3.60" fill="#283593" />
<rect x="483.60" y="545.40" width="1.20" height="3.60" fill="#283593" />
<rect x="488.40" y="545.40" width="1.20" height="3.60" fill="#283593" />
<rect x="490.60" y="545.40" width="1.20" height="3.60" fill="#283593" />
<text x="450.80" y="559.40" font-size="8" stroke="#231f20" stroke-width="0.1" font-style="italic" textLength="26.90" lengthAdjust="spacingAndGlyphs" >&lt;IKBKE</text>
<rect x="0.50" y="0.50" width="519.00" height="566.00" fill="none" stroke="#000" stroke-width="1.2" />
</svg></body></html>
